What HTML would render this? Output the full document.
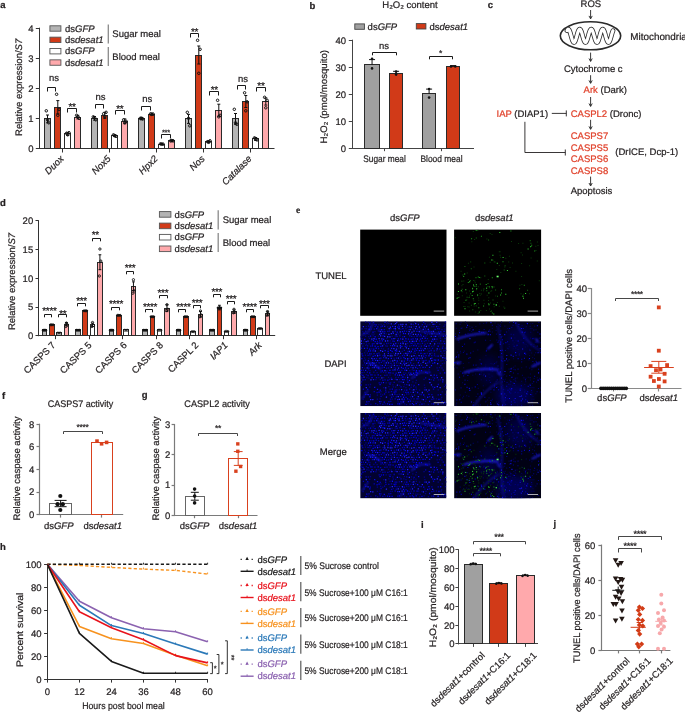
<!DOCTYPE html>
<html><head><meta charset="utf-8"><style>
html,body{margin:0;padding:0;background:#fff;}
svg{display:block;font-family:"Liberation Sans",sans-serif;will-change:transform;text-rendering:geometricPrecision;}
</style></head><body>
<svg width="685" height="712" viewBox="0 0 685 712">
<defs><clipPath id="cimg"><rect width="87" height="86"/></clipPath><filter id="bl" filterUnits="userSpaceOnUse" x="-10" y="-10" width="110" height="110"><feGaussianBlur stdDeviation="0.9"/></filter><filter id="bl2" filterUnits="userSpaceOnUse" x="-10" y="-10" width="110" height="110"><feGaussianBlur stdDeviation="0.4"/></filter><filter id="bl3" filterUnits="userSpaceOnUse" x="-10" y="-10" width="110" height="110"><feGaussianBlur stdDeviation="4"/></filter><g id="dapiA" clip-path="url(#cimg)"><rect width="87" height="86" fill="#020230"/><g filter="url(#bl2)"><path d="M4.9 0.1h1.3v1.3h-1.3zM12.8 0.6h1.3v1.3h-1.3zM85.3 0.1h1.3v1.3h-1.3zM33.7 2.6h1.3v1.3h-1.3zM52.8 2.6h1.3v1.3h-1.3zM62.0 2.8h1.3v1.3h-1.3zM64.9 2.1h1.3v1.3h-1.3zM74.5 2.6h1.3v1.3h-1.3zM7.8 4.3h1.3v1.3h-1.3zM14.4 4.5h1.3v1.3h-1.3zM20.2 5.1h1.3v1.3h-1.3zM44.7 4.9h1.3v1.3h-1.3zM1.2 7.1h1.3v1.3h-1.3zM13.5 7.3h1.3v1.3h-1.3zM23.6 7.8h1.3v1.3h-1.3zM30.3 6.9h1.3v1.3h-1.3zM52.5 7.3h1.3v1.3h-1.3zM57.2 7.3h1.3v1.3h-1.3zM65.1 7.2h1.3v1.3h-1.3zM75.0 7.7h1.3v1.3h-1.3zM77.4 6.8h1.3v1.3h-1.3zM79.0 7.2h1.3v1.3h-1.3zM22.0 9.8h1.3v1.3h-1.3zM24.2 10.0h1.3v1.3h-1.3zM27.2 9.6h1.3v1.3h-1.3zM28.9 9.4h1.3v1.3h-1.3zM34.8 9.3h1.3v1.3h-1.3zM46.1 9.7h1.3v1.3h-1.3zM71.1 10.0h1.3v1.3h-1.3zM78.5 10.1h1.3v1.3h-1.3zM3.2 11.7h1.3v1.3h-1.3zM23.7 11.9h1.3v1.3h-1.3zM60.3 12.6h1.3v1.3h-1.3zM64.8 11.9h1.3v1.3h-1.3zM36.5 14.7h1.3v1.3h-1.3zM39.4 14.2h1.3v1.3h-1.3zM49.4 14.3h1.3v1.3h-1.3zM51.3 14.7h1.3v1.3h-1.3zM73.9 14.6h1.3v1.3h-1.3zM50.8 17.6h1.3v1.3h-1.3zM55.2 17.1h1.3v1.3h-1.3zM67.1 16.9h1.3v1.3h-1.3zM76.7 17.5h1.3v1.3h-1.3zM84.9 17.0h1.3v1.3h-1.3zM16.7 19.8h1.3v1.3h-1.3zM33.8 19.7h1.3v1.3h-1.3zM42.1 20.2h1.3v1.3h-1.3zM46.2 19.7h1.3v1.3h-1.3zM59.1 19.3h1.3v1.3h-1.3zM65.7 19.0h1.3v1.3h-1.3zM83.7 19.9h1.3v1.3h-1.3zM11.6 22.4h1.3v1.3h-1.3zM13.2 22.1h1.3v1.3h-1.3zM23.4 22.5h1.3v1.3h-1.3zM26.1 21.9h1.3v1.3h-1.3zM30.3 21.7h1.3v1.3h-1.3zM54.7 22.2h1.3v1.3h-1.3zM62.1 21.8h1.3v1.3h-1.3zM64.8 22.5h1.3v1.3h-1.3zM2.0 24.6h1.3v1.3h-1.3zM6.8 24.4h1.3v1.3h-1.3zM9.9 24.5h1.3v1.3h-1.3zM26.5 24.5h1.3v1.3h-1.3zM30.0 24.1h1.3v1.3h-1.3zM46.5 24.6h1.3v1.3h-1.3zM49.3 24.5h1.3v1.3h-1.3zM61.0 24.5h1.3v1.3h-1.3zM64.0 24.2h1.3v1.3h-1.3zM0.8 26.7h1.3v1.3h-1.3zM6.5 26.7h1.3v1.3h-1.3zM17.9 27.1h1.3v1.3h-1.3zM27.8 27.4h1.3v1.3h-1.3zM60.4 26.8h1.3v1.3h-1.3zM72.3 26.8h1.3v1.3h-1.3zM79.5 27.5h1.3v1.3h-1.3zM43.9 28.9h1.3v1.3h-1.3zM56.3 28.8h1.3v1.3h-1.3zM68.8 29.7h1.3v1.3h-1.3zM70.9 29.0h1.3v1.3h-1.3zM73.9 29.3h1.3v1.3h-1.3zM80.6 29.8h1.3v1.3h-1.3zM83.8 29.3h1.3v1.3h-1.3zM10.5 32.3h1.3v1.3h-1.3zM13.3 32.1h1.3v1.3h-1.3zM18.3 31.7h1.3v1.3h-1.3zM30.3 32.4h1.3v1.3h-1.3zM43.4 32.3h1.3v1.3h-1.3zM49.8 31.4h1.3v1.3h-1.3zM54.8 31.8h1.3v1.3h-1.3zM74.3 32.4h1.3v1.3h-1.3zM1.9 34.3h1.3v1.3h-1.3zM7.3 34.0h1.3v1.3h-1.3zM19.1 33.8h1.3v1.3h-1.3zM22.4 34.2h1.3v1.3h-1.3zM36.8 33.7h1.3v1.3h-1.3zM42.0 34.2h1.3v1.3h-1.3zM44.0 34.2h1.3v1.3h-1.3zM65.8 34.1h1.3v1.3h-1.3zM71.5 34.1h1.3v1.3h-1.3zM15.8 37.3h1.3v1.3h-1.3zM18.8 37.0h1.3v1.3h-1.3zM20.2 36.8h1.3v1.3h-1.3zM23.0 36.3h1.3v1.3h-1.3zM36.0 36.6h1.3v1.3h-1.3zM40.4 36.8h1.3v1.3h-1.3zM65.0 36.3h1.3v1.3h-1.3zM19.2 38.9h1.3v1.3h-1.3zM24.0 39.5h1.3v1.3h-1.3zM26.8 39.8h1.3v1.3h-1.3zM49.5 39.5h1.3v1.3h-1.3zM65.7 39.0h1.3v1.3h-1.3zM74.1 38.6h1.3v1.3h-1.3zM85.9 39.0h1.3v1.3h-1.3zM3.8 41.6h1.3v1.3h-1.3zM9.0 42.1h1.3v1.3h-1.3zM15.7 41.2h1.3v1.3h-1.3zM20.7 41.1h1.3v1.3h-1.3zM30.3 42.0h1.3v1.3h-1.3zM36.1 41.6h1.3v1.3h-1.3zM67.5 41.6h1.3v1.3h-1.3zM72.5 42.0h1.3v1.3h-1.3zM7.4 44.6h1.3v1.3h-1.3zM31.3 43.8h1.3v1.3h-1.3zM41.6 43.5h1.3v1.3h-1.3zM53.6 44.4h1.3v1.3h-1.3zM56.2 44.0h1.3v1.3h-1.3zM61.2 44.1h1.3v1.3h-1.3zM80.6 44.2h1.3v1.3h-1.3zM11.6 46.3h1.3v1.3h-1.3zM16.1 46.3h1.3v1.3h-1.3zM21.4 46.6h1.3v1.3h-1.3zM26.0 46.9h1.3v1.3h-1.3zM28.0 46.6h1.3v1.3h-1.3zM35.0 46.9h1.3v1.3h-1.3zM47.9 47.1h1.3v1.3h-1.3zM50.4 46.1h1.3v1.3h-1.3zM57.2 47.0h1.3v1.3h-1.3zM65.0 46.1h1.3v1.3h-1.3zM2.5 48.9h1.3v1.3h-1.3zM14.9 49.2h1.3v1.3h-1.3zM53.5 49.0h1.3v1.3h-1.3zM77.9 49.0h1.3v1.3h-1.3zM83.1 48.8h1.3v1.3h-1.3zM1.2 51.4h1.3v1.3h-1.3zM6.6 50.9h1.3v1.3h-1.3zM30.1 51.6h1.3v1.3h-1.3zM32.5 51.9h1.3v1.3h-1.3zM35.6 52.0h1.3v1.3h-1.3zM48.4 51.7h1.3v1.3h-1.3zM67.0 51.9h1.3v1.3h-1.3zM0.1 53.5h1.3v1.3h-1.3zM7.3 54.3h1.3v1.3h-1.3zM14.2 53.9h1.3v1.3h-1.3zM19.9 54.4h1.3v1.3h-1.3zM24.2 54.2h1.3v1.3h-1.3zM26.4 53.9h1.3v1.3h-1.3zM46.9 53.8h1.3v1.3h-1.3zM76.4 54.3h1.3v1.3h-1.3zM1.1 56.6h1.3v1.3h-1.3zM15.8 56.5h1.3v1.3h-1.3zM65.3 56.6h1.3v1.3h-1.3zM74.3 56.9h1.3v1.3h-1.3zM4.4 58.4h1.3v1.3h-1.3zM22.2 59.1h1.3v1.3h-1.3zM24.4 58.8h1.3v1.3h-1.3zM27.2 59.1h1.3v1.3h-1.3zM73.4 58.9h1.3v1.3h-1.3zM0.7 60.8h1.3v1.3h-1.3zM18.5 61.7h1.3v1.3h-1.3zM20.7 61.8h1.3v1.3h-1.3zM33.6 61.3h1.3v1.3h-1.3zM40.6 60.8h1.3v1.3h-1.3zM5.3 63.7h1.3v1.3h-1.3zM46.3 63.6h1.3v1.3h-1.3zM53.7 64.2h1.3v1.3h-1.3zM78.1 63.4h1.3v1.3h-1.3zM85.5 64.1h1.3v1.3h-1.3zM40.5 65.7h1.3v1.3h-1.3zM72.5 65.8h1.3v1.3h-1.3zM2.6 68.2h1.3v1.3h-1.3zM6.9 68.4h1.3v1.3h-1.3zM19.6 69.2h1.3v1.3h-1.3zM25.0 69.1h1.3v1.3h-1.3zM34.6 69.0h1.3v1.3h-1.3zM36.2 68.9h1.3v1.3h-1.3zM49.2 68.1h1.3v1.3h-1.3zM64.2 68.9h1.3v1.3h-1.3zM73.3 68.1h1.3v1.3h-1.3zM13.5 70.7h1.3v1.3h-1.3zM16.4 71.6h1.3v1.3h-1.3zM25.3 71.2h1.3v1.3h-1.3zM28.2 71.2h1.3v1.3h-1.3zM30.9 70.7h1.3v1.3h-1.3zM67.3 70.6h1.3v1.3h-1.3zM9.5 73.9h1.3v1.3h-1.3zM23.9 73.0h1.3v1.3h-1.3zM43.9 74.1h1.3v1.3h-1.3zM54.1 74.1h1.3v1.3h-1.3zM60.8 73.5h1.3v1.3h-1.3zM71.6 73.7h1.3v1.3h-1.3zM78.0 73.8h1.3v1.3h-1.3zM20.4 75.4h1.3v1.3h-1.3zM31.0 76.3h1.3v1.3h-1.3zM35.7 76.0h1.3v1.3h-1.3zM40.2 75.7h1.3v1.3h-1.3zM45.6 76.5h1.3v1.3h-1.3zM69.4 75.7h1.3v1.3h-1.3zM34.6 77.9h1.3v1.3h-1.3zM53.6 77.9h1.3v1.3h-1.3zM71.6 78.5h1.3v1.3h-1.3zM73.5 78.0h1.3v1.3h-1.3zM8.2 80.8h1.3v1.3h-1.3zM20.3 80.8h1.3v1.3h-1.3zM28.3 80.8h1.3v1.3h-1.3zM30.2 80.5h1.3v1.3h-1.3zM15.0 82.8h1.3v1.3h-1.3zM19.5 82.8h1.3v1.3h-1.3zM22.2 83.4h1.3v1.3h-1.3zM37.1 83.1h1.3v1.3h-1.3zM49.6 83.2h1.3v1.3h-1.3zM71.6 83.0h1.3v1.3h-1.3zM83.3 82.8h1.3v1.3h-1.3z" fill="#0000b8"/><path d="M7.5 0.4h1.3v1.3h-1.3zM9.3 0.4h1.3v1.3h-1.3zM26.9 0.2h1.3v1.3h-1.3zM48.5 0.2h1.3v1.3h-1.3zM54.5 0.3h1.3v1.3h-1.3zM13.9 2.6h1.3v1.3h-1.3zM18.1 2.8h1.3v1.3h-1.3zM20.4 2.7h1.3v1.3h-1.3zM23.3 2.9h1.3v1.3h-1.3zM26.2 2.1h1.3v1.3h-1.3zM28.1 1.9h1.3v1.3h-1.3zM67.5 3.0h1.3v1.3h-1.3zM69.6 2.7h1.3v1.3h-1.3zM79.5 2.5h1.3v1.3h-1.3zM84.8 3.0h1.3v1.3h-1.3zM5.5 4.8h1.3v1.3h-1.3zM9.6 5.2h1.3v1.3h-1.3zM27.0 5.0h1.3v1.3h-1.3zM47.0 5.3h1.3v1.3h-1.3zM53.5 4.7h1.3v1.3h-1.3zM60.8 4.6h1.3v1.3h-1.3zM71.6 4.9h1.3v1.3h-1.3zM73.5 4.9h1.3v1.3h-1.3zM78.5 4.9h1.3v1.3h-1.3zM83.8 4.6h1.3v1.3h-1.3zM4.2 6.9h1.3v1.3h-1.3zM5.8 7.0h1.3v1.3h-1.3zM10.6 7.4h1.3v1.3h-1.3zM40.4 7.6h1.3v1.3h-1.3zM45.4 6.9h1.3v1.3h-1.3zM48.2 7.9h1.3v1.3h-1.3zM59.7 6.9h1.3v1.3h-1.3zM81.8 7.9h1.3v1.3h-1.3zM84.7 7.4h1.3v1.3h-1.3zM1.9 9.9h1.3v1.3h-1.3zM4.8 9.3h1.3v1.3h-1.3zM14.2 9.9h1.3v1.3h-1.3zM17.7 9.4h1.3v1.3h-1.3zM64.2 10.3h1.3v1.3h-1.3zM65.9 9.7h1.3v1.3h-1.3zM6.3 12.0h1.3v1.3h-1.3zM8.2 12.4h1.3v1.3h-1.3zM11.3 12.5h1.3v1.3h-1.3zM13.3 12.5h1.3v1.3h-1.3zM25.6 12.1h1.3v1.3h-1.3zM37.5 12.3h1.3v1.3h-1.3zM39.9 12.5h1.3v1.3h-1.3zM67.1 12.8h1.3v1.3h-1.3zM69.4 12.4h1.3v1.3h-1.3zM74.2 11.8h1.3v1.3h-1.3zM76.9 12.5h1.3v1.3h-1.3zM0.1 15.2h1.3v1.3h-1.3zM4.8 14.7h1.3v1.3h-1.3zM7.9 14.9h1.3v1.3h-1.3zM12.4 14.3h1.3v1.3h-1.3zM17.7 14.4h1.3v1.3h-1.3zM31.5 14.8h1.3v1.3h-1.3zM34.7 14.5h1.3v1.3h-1.3zM42.2 15.1h1.3v1.3h-1.3zM53.8 14.9h1.3v1.3h-1.3zM59.1 14.5h1.3v1.3h-1.3zM65.7 14.4h1.3v1.3h-1.3zM78.7 14.9h1.3v1.3h-1.3zM80.6 14.5h1.3v1.3h-1.3zM1.3 17.0h1.3v1.3h-1.3zM8.7 16.8h1.3v1.3h-1.3zM26.1 16.8h1.3v1.3h-1.3zM34.9 16.8h1.3v1.3h-1.3zM80.2 16.6h1.3v1.3h-1.3zM3.0 19.6h1.3v1.3h-1.3zM10.4 19.2h1.3v1.3h-1.3zM29.6 19.3h1.3v1.3h-1.3zM38.9 19.3h1.3v1.3h-1.3zM64.0 19.7h1.3v1.3h-1.3zM68.5 19.3h1.3v1.3h-1.3zM73.2 19.2h1.3v1.3h-1.3zM75.7 19.7h1.3v1.3h-1.3zM3.2 22.0h1.3v1.3h-1.3zM5.8 22.5h1.3v1.3h-1.3zM8.3 22.0h1.3v1.3h-1.3zM28.0 21.7h1.3v1.3h-1.3zM37.8 21.8h1.3v1.3h-1.3zM47.2 21.8h1.3v1.3h-1.3zM52.1 21.9h1.3v1.3h-1.3zM59.7 22.3h1.3v1.3h-1.3zM67.2 21.7h1.3v1.3h-1.3zM77.6 21.7h1.3v1.3h-1.3zM79.5 21.9h1.3v1.3h-1.3zM81.9 22.0h1.3v1.3h-1.3zM5.1 23.9h1.3v1.3h-1.3zM25.0 24.4h1.3v1.3h-1.3zM51.2 24.1h1.3v1.3h-1.3zM58.4 24.9h1.3v1.3h-1.3zM71.4 24.9h1.3v1.3h-1.3zM73.7 24.2h1.3v1.3h-1.3zM82.8 24.8h1.3v1.3h-1.3zM11.1 27.3h1.3v1.3h-1.3zM20.8 26.8h1.3v1.3h-1.3zM22.8 27.4h1.3v1.3h-1.3zM38.2 26.6h1.3v1.3h-1.3zM42.6 27.0h1.3v1.3h-1.3zM62.2 27.4h1.3v1.3h-1.3zM67.4 27.2h1.3v1.3h-1.3zM69.4 26.8h1.3v1.3h-1.3zM85.1 26.7h1.3v1.3h-1.3zM0.2 29.3h1.3v1.3h-1.3zM5.1 29.4h1.3v1.3h-1.3zM41.7 29.9h1.3v1.3h-1.3zM47.0 29.8h1.3v1.3h-1.3zM76.5 29.2h1.3v1.3h-1.3zM85.7 28.9h1.3v1.3h-1.3zM3.9 31.5h1.3v1.3h-1.3zM6.6 31.6h1.3v1.3h-1.3zM32.6 31.7h1.3v1.3h-1.3zM53.0 31.5h1.3v1.3h-1.3zM58.0 31.4h1.3v1.3h-1.3zM62.9 32.4h1.3v1.3h-1.3zM67.0 31.9h1.3v1.3h-1.3zM71.7 31.7h1.3v1.3h-1.3zM81.9 31.6h1.3v1.3h-1.3zM84.4 31.8h1.3v1.3h-1.3zM4.6 33.8h1.3v1.3h-1.3zM9.2 34.2h1.3v1.3h-1.3zM39.4 34.9h1.3v1.3h-1.3zM49.2 34.4h1.3v1.3h-1.3zM55.9 34.7h1.3v1.3h-1.3zM74.1 34.1h1.3v1.3h-1.3zM75.7 34.6h1.3v1.3h-1.3zM83.8 34.2h1.3v1.3h-1.3zM3.8 36.8h1.3v1.3h-1.3zM8.1 37.1h1.3v1.3h-1.3zM33.6 37.1h1.3v1.3h-1.3zM49.7 36.9h1.3v1.3h-1.3zM3.0 39.6h1.3v1.3h-1.3zM4.7 38.6h1.3v1.3h-1.3zM29.9 39.8h1.3v1.3h-1.3zM39.1 38.7h1.3v1.3h-1.3zM53.4 38.8h1.3v1.3h-1.3zM61.8 38.7h1.3v1.3h-1.3zM80.8 39.4h1.3v1.3h-1.3zM82.7 39.0h1.3v1.3h-1.3zM23.4 41.8h1.3v1.3h-1.3zM38.4 41.7h1.3v1.3h-1.3zM47.5 41.3h1.3v1.3h-1.3zM53.2 42.2h1.3v1.3h-1.3zM60.3 42.2h1.3v1.3h-1.3zM69.3 41.2h1.3v1.3h-1.3zM82.2 42.2h1.3v1.3h-1.3zM84.3 41.7h1.3v1.3h-1.3zM2.1 43.7h1.3v1.3h-1.3zM4.7 43.6h1.3v1.3h-1.3zM19.6 43.7h1.3v1.3h-1.3zM27.2 44.0h1.3v1.3h-1.3zM29.4 44.6h1.3v1.3h-1.3zM38.7 44.4h1.3v1.3h-1.3zM4.0 46.8h1.3v1.3h-1.3zM33.6 46.2h1.3v1.3h-1.3zM59.9 46.2h1.3v1.3h-1.3zM76.9 46.6h1.3v1.3h-1.3zM79.3 46.3h1.3v1.3h-1.3zM81.8 46.7h1.3v1.3h-1.3zM7.8 48.7h1.3v1.3h-1.3zM9.2 49.4h1.3v1.3h-1.3zM20.2 49.5h1.3v1.3h-1.3zM26.4 49.6h1.3v1.3h-1.3zM39.0 49.1h1.3v1.3h-1.3zM41.3 49.2h1.3v1.3h-1.3zM49.3 49.3h1.3v1.3h-1.3zM51.8 48.6h1.3v1.3h-1.3zM68.8 48.5h1.3v1.3h-1.3zM3.4 51.1h1.3v1.3h-1.3zM13.1 51.0h1.3v1.3h-1.3zM16.4 51.3h1.3v1.3h-1.3zM20.3 51.0h1.3v1.3h-1.3zM22.8 51.1h1.3v1.3h-1.3zM25.3 51.5h1.3v1.3h-1.3zM43.2 51.7h1.3v1.3h-1.3zM45.2 51.9h1.3v1.3h-1.3zM69.6 50.9h1.3v1.3h-1.3zM80.1 52.0h1.3v1.3h-1.3zM5.5 53.4h1.3v1.3h-1.3zM11.7 53.6h1.3v1.3h-1.3zM29.4 53.9h1.3v1.3h-1.3zM54.2 53.4h1.3v1.3h-1.3zM6.1 56.5h1.3v1.3h-1.3zM8.2 56.9h1.3v1.3h-1.3zM18.2 56.5h1.3v1.3h-1.3zM23.1 56.5h1.3v1.3h-1.3zM27.9 56.2h1.3v1.3h-1.3zM30.8 56.8h1.3v1.3h-1.3zM35.3 56.3h1.3v1.3h-1.3zM37.9 56.1h1.3v1.3h-1.3zM40.6 56.7h1.3v1.3h-1.3zM44.7 56.3h1.3v1.3h-1.3zM54.6 56.4h1.3v1.3h-1.3zM72.7 55.9h1.3v1.3h-1.3zM15.2 58.5h1.3v1.3h-1.3zM19.6 58.4h1.3v1.3h-1.3zM29.0 58.3h1.3v1.3h-1.3zM34.7 58.2h1.3v1.3h-1.3zM39.1 58.4h1.3v1.3h-1.3zM46.8 58.6h1.3v1.3h-1.3zM56.0 59.2h1.3v1.3h-1.3zM63.7 58.3h1.3v1.3h-1.3zM70.9 58.5h1.3v1.3h-1.3zM78.2 58.8h1.3v1.3h-1.3zM80.3 58.6h1.3v1.3h-1.3zM25.5 61.7h1.3v1.3h-1.3zM28.5 61.7h1.3v1.3h-1.3zM30.1 61.5h1.3v1.3h-1.3zM38.5 60.8h1.3v1.3h-1.3zM52.4 60.7h1.3v1.3h-1.3zM55.4 61.7h1.3v1.3h-1.3zM7.6 63.8h1.3v1.3h-1.3zM9.7 63.4h1.3v1.3h-1.3zM32.3 63.8h1.3v1.3h-1.3zM39.2 64.2h1.3v1.3h-1.3zM44.0 63.4h1.3v1.3h-1.3zM51.1 63.7h1.3v1.3h-1.3zM64.1 64.0h1.3v1.3h-1.3zM9.0 66.1h1.3v1.3h-1.3zM23.1 66.5h1.3v1.3h-1.3zM28.3 65.6h1.3v1.3h-1.3zM32.8 65.8h1.3v1.3h-1.3zM35.0 66.1h1.3v1.3h-1.3zM43.3 65.6h1.3v1.3h-1.3zM45.5 66.5h1.3v1.3h-1.3zM50.7 66.2h1.3v1.3h-1.3zM53.2 65.6h1.3v1.3h-1.3zM55.6 66.0h1.3v1.3h-1.3zM64.6 66.5h1.3v1.3h-1.3zM84.2 65.6h1.3v1.3h-1.3zM29.4 68.2h1.3v1.3h-1.3zM38.8 68.6h1.3v1.3h-1.3zM44.2 69.0h1.3v1.3h-1.3zM51.9 69.1h1.3v1.3h-1.3zM56.0 68.2h1.3v1.3h-1.3zM59.2 69.0h1.3v1.3h-1.3zM78.0 68.9h1.3v1.3h-1.3zM85.9 68.7h1.3v1.3h-1.3zM4.1 71.3h1.3v1.3h-1.3zM20.3 70.7h1.3v1.3h-1.3zM43.0 70.9h1.3v1.3h-1.3zM50.3 71.3h1.3v1.3h-1.3zM55.1 70.6h1.3v1.3h-1.3zM82.1 70.8h1.3v1.3h-1.3zM16.7 74.1h1.3v1.3h-1.3zM20.0 73.2h1.3v1.3h-1.3zM22.0 73.9h1.3v1.3h-1.3zM29.5 74.0h1.3v1.3h-1.3zM36.5 73.6h1.3v1.3h-1.3zM38.8 73.5h1.3v1.3h-1.3zM46.2 73.0h1.3v1.3h-1.3zM48.4 73.0h1.3v1.3h-1.3zM51.2 73.8h1.3v1.3h-1.3zM59.1 73.2h1.3v1.3h-1.3zM85.3 73.5h1.3v1.3h-1.3zM3.3 76.1h1.3v1.3h-1.3zM32.8 75.5h1.3v1.3h-1.3zM50.1 76.0h1.3v1.3h-1.3zM64.5 76.0h1.3v1.3h-1.3zM81.5 76.5h1.3v1.3h-1.3zM2.3 78.5h1.3v1.3h-1.3zM16.7 78.3h1.3v1.3h-1.3zM19.4 78.0h1.3v1.3h-1.3zM29.9 78.3h1.3v1.3h-1.3zM31.7 78.2h1.3v1.3h-1.3zM49.0 78.6h1.3v1.3h-1.3zM50.9 78.0h1.3v1.3h-1.3zM58.3 78.0h1.3v1.3h-1.3zM61.6 78.4h1.3v1.3h-1.3zM65.7 78.3h1.3v1.3h-1.3zM76.2 77.9h1.3v1.3h-1.3zM80.9 78.1h1.3v1.3h-1.3zM37.6 80.9h1.3v1.3h-1.3zM40.1 80.5h1.3v1.3h-1.3zM52.8 80.4h1.3v1.3h-1.3zM55.5 81.0h1.3v1.3h-1.3zM57.4 81.1h1.3v1.3h-1.3zM59.9 81.3h1.3v1.3h-1.3zM65.2 80.5h1.3v1.3h-1.3zM75.3 81.3h1.3v1.3h-1.3zM7.3 83.0h1.3v1.3h-1.3zM10.1 83.4h1.3v1.3h-1.3zM16.9 83.7h1.3v1.3h-1.3zM24.5 83.1h1.3v1.3h-1.3zM44.1 83.1h1.3v1.3h-1.3zM46.1 83.7h1.3v1.3h-1.3zM59.3 83.8h1.3v1.3h-1.3zM63.8 82.9h1.3v1.3h-1.3zM68.1 83.6h1.3v1.3h-1.3zM81.0 82.9h1.3v1.3h-1.3zM85.8 83.0h1.3v1.3h-1.3z" fill="#000088"/><path d="M24.4 0.4h1.3v1.3h-1.3zM63.3 0.3h1.3v1.3h-1.3zM9.0 2.1h1.3v1.3h-1.3zM15.4 3.0h1.3v1.3h-1.3zM38.2 3.0h1.3v1.3h-1.3zM58.0 2.7h1.3v1.3h-1.3zM17.1 5.1h1.3v1.3h-1.3zM21.7 4.3h1.3v1.3h-1.3zM24.1 4.6h1.3v1.3h-1.3zM32.1 4.5h1.3v1.3h-1.3zM37.1 5.4h1.3v1.3h-1.3zM38.8 5.2h1.3v1.3h-1.3zM48.9 5.0h1.3v1.3h-1.3zM76.5 4.9h1.3v1.3h-1.3zM8.4 7.5h1.3v1.3h-1.3zM16.0 6.9h1.3v1.3h-1.3zM21.0 7.8h1.3v1.3h-1.3zM33.4 6.9h1.3v1.3h-1.3zM42.4 6.8h1.3v1.3h-1.3zM12.3 10.4h1.3v1.3h-1.3zM36.7 10.4h1.3v1.3h-1.3zM42.0 9.9h1.3v1.3h-1.3zM44.0 9.4h1.3v1.3h-1.3zM56.5 9.6h1.3v1.3h-1.3zM68.6 9.3h1.3v1.3h-1.3zM80.6 10.2h1.3v1.3h-1.3zM83.9 9.6h1.3v1.3h-1.3zM32.8 11.7h1.3v1.3h-1.3zM43.0 11.8h1.3v1.3h-1.3zM45.0 11.9h1.3v1.3h-1.3zM50.4 12.2h1.3v1.3h-1.3zM58.0 12.8h1.3v1.3h-1.3zM79.2 12.0h1.3v1.3h-1.3zM9.8 14.5h1.3v1.3h-1.3zM14.4 15.1h1.3v1.3h-1.3zM22.4 14.2h1.3v1.3h-1.3zM44.0 15.0h1.3v1.3h-1.3zM56.6 14.5h1.3v1.3h-1.3zM60.8 14.2h1.3v1.3h-1.3zM63.3 14.6h1.3v1.3h-1.3zM71.0 14.7h1.3v1.3h-1.3zM83.2 14.7h1.3v1.3h-1.3zM3.9 17.7h1.3v1.3h-1.3zM15.5 17.6h1.3v1.3h-1.3zM23.0 17.6h1.3v1.3h-1.3zM31.2 17.3h1.3v1.3h-1.3zM37.8 17.2h1.3v1.3h-1.3zM40.1 17.2h1.3v1.3h-1.3zM45.4 17.1h1.3v1.3h-1.3zM48.0 17.5h1.3v1.3h-1.3zM52.6 17.2h1.3v1.3h-1.3zM60.1 17.5h1.3v1.3h-1.3zM62.0 16.7h1.3v1.3h-1.3zM64.8 16.6h1.3v1.3h-1.3zM72.5 17.6h1.3v1.3h-1.3zM12.7 19.1h1.3v1.3h-1.3zM14.5 20.1h1.3v1.3h-1.3zM19.1 19.3h1.3v1.3h-1.3zM21.7 19.2h1.3v1.3h-1.3zM32.4 19.5h1.3v1.3h-1.3zM44.4 19.5h1.3v1.3h-1.3zM49.2 19.9h1.3v1.3h-1.3zM53.5 19.9h1.3v1.3h-1.3zM61.3 19.6h1.3v1.3h-1.3zM71.5 19.7h1.3v1.3h-1.3zM80.5 19.3h1.3v1.3h-1.3zM18.5 21.5h1.3v1.3h-1.3zM35.2 21.9h1.3v1.3h-1.3zM40.1 21.9h1.3v1.3h-1.3zM50.7 21.8h1.3v1.3h-1.3zM57.5 22.1h1.3v1.3h-1.3zM84.4 22.0h1.3v1.3h-1.3zM11.7 24.3h1.3v1.3h-1.3zM14.4 24.7h1.3v1.3h-1.3zM17.3 25.0h1.3v1.3h-1.3zM20.1 24.8h1.3v1.3h-1.3zM32.1 24.2h1.3v1.3h-1.3zM34.2 24.2h1.3v1.3h-1.3zM41.4 24.8h1.3v1.3h-1.3zM44.7 24.9h1.3v1.3h-1.3zM53.4 24.0h1.3v1.3h-1.3zM55.9 24.4h1.3v1.3h-1.3zM68.7 24.4h1.3v1.3h-1.3zM78.0 24.7h1.3v1.3h-1.3zM3.7 26.8h1.3v1.3h-1.3zM8.9 27.5h1.3v1.3h-1.3zM13.0 27.5h1.3v1.3h-1.3zM15.5 26.7h1.3v1.3h-1.3zM31.0 26.8h1.3v1.3h-1.3zM52.2 27.5h1.3v1.3h-1.3zM54.8 27.4h1.3v1.3h-1.3zM57.2 26.8h1.3v1.3h-1.3zM82.3 26.6h1.3v1.3h-1.3zM7.8 29.6h1.3v1.3h-1.3zM9.7 29.3h1.3v1.3h-1.3zM12.3 29.4h1.3v1.3h-1.3zM24.5 29.1h1.3v1.3h-1.3zM27.5 29.8h1.3v1.3h-1.3zM30.0 28.9h1.3v1.3h-1.3zM31.6 29.8h1.3v1.3h-1.3zM34.7 29.0h1.3v1.3h-1.3zM36.2 29.5h1.3v1.3h-1.3zM50.9 30.0h1.3v1.3h-1.3zM54.4 29.7h1.3v1.3h-1.3zM59.0 29.1h1.3v1.3h-1.3zM60.9 29.0h1.3v1.3h-1.3zM63.3 28.9h1.3v1.3h-1.3zM1.2 32.4h1.3v1.3h-1.3zM9.0 32.3h1.3v1.3h-1.3zM16.4 32.4h1.3v1.3h-1.3zM27.7 31.8h1.3v1.3h-1.3zM47.5 31.9h1.3v1.3h-1.3zM60.6 31.9h1.3v1.3h-1.3zM64.5 32.2h1.3v1.3h-1.3zM12.4 34.9h1.3v1.3h-1.3zM14.5 34.1h1.3v1.3h-1.3zM63.2 34.6h1.3v1.3h-1.3zM68.7 34.3h1.3v1.3h-1.3zM77.9 34.7h1.3v1.3h-1.3zM1.0 37.2h1.3v1.3h-1.3zM13.6 37.2h1.3v1.3h-1.3zM27.8 37.2h1.3v1.3h-1.3zM30.7 37.0h1.3v1.3h-1.3zM43.4 36.3h1.3v1.3h-1.3zM44.8 37.2h1.3v1.3h-1.3zM55.5 36.8h1.3v1.3h-1.3zM57.2 36.8h1.3v1.3h-1.3zM59.7 37.0h1.3v1.3h-1.3zM71.7 36.7h1.3v1.3h-1.3zM84.8 36.8h1.3v1.3h-1.3zM7.5 39.2h1.3v1.3h-1.3zM11.9 38.8h1.3v1.3h-1.3zM15.0 39.0h1.3v1.3h-1.3zM22.3 39.4h1.3v1.3h-1.3zM36.7 39.6h1.3v1.3h-1.3zM43.9 39.7h1.3v1.3h-1.3zM47.1 38.8h1.3v1.3h-1.3zM56.1 38.8h1.3v1.3h-1.3zM58.8 39.3h1.3v1.3h-1.3zM63.5 39.5h1.3v1.3h-1.3zM69.0 39.8h1.3v1.3h-1.3zM75.4 38.8h1.3v1.3h-1.3zM78.1 38.6h1.3v1.3h-1.3zM11.6 41.4h1.3v1.3h-1.3zM18.4 41.6h1.3v1.3h-1.3zM33.6 41.7h1.3v1.3h-1.3zM43.4 41.9h1.3v1.3h-1.3zM50.2 41.5h1.3v1.3h-1.3zM58.0 41.4h1.3v1.3h-1.3zM74.5 41.4h1.3v1.3h-1.3zM11.8 44.0h1.3v1.3h-1.3zM21.6 44.2h1.3v1.3h-1.3zM24.8 43.9h1.3v1.3h-1.3zM36.6 44.3h1.3v1.3h-1.3zM71.2 44.3h1.3v1.3h-1.3zM1.6 46.4h1.3v1.3h-1.3zM8.1 46.9h1.3v1.3h-1.3zM17.9 46.7h1.3v1.3h-1.3zM23.6 46.0h1.3v1.3h-1.3zM40.9 46.2h1.3v1.3h-1.3zM42.7 47.0h1.3v1.3h-1.3zM45.1 46.5h1.3v1.3h-1.3zM55.3 46.2h1.3v1.3h-1.3zM62.7 46.0h1.3v1.3h-1.3zM69.3 46.1h1.3v1.3h-1.3zM0.3 49.1h1.3v1.3h-1.3zM4.9 49.0h1.3v1.3h-1.3zM21.7 49.6h1.3v1.3h-1.3zM29.3 49.2h1.3v1.3h-1.3zM32.4 48.9h1.3v1.3h-1.3zM37.0 48.7h1.3v1.3h-1.3zM44.4 48.8h1.3v1.3h-1.3zM56.1 49.4h1.3v1.3h-1.3zM58.9 49.5h1.3v1.3h-1.3zM61.1 49.4h1.3v1.3h-1.3zM9.0 51.6h1.3v1.3h-1.3zM28.3 51.5h1.3v1.3h-1.3zM50.4 52.0h1.3v1.3h-1.3zM53.1 52.0h1.3v1.3h-1.3zM55.7 51.0h1.3v1.3h-1.3zM57.1 51.8h1.3v1.3h-1.3zM65.5 51.2h1.3v1.3h-1.3zM84.5 51.7h1.3v1.3h-1.3zM2.1 54.2h1.3v1.3h-1.3zM10.2 53.7h1.3v1.3h-1.3zM17.5 53.7h1.3v1.3h-1.3zM34.7 53.6h1.3v1.3h-1.3zM37.1 53.8h1.3v1.3h-1.3zM41.1 53.8h1.3v1.3h-1.3zM43.7 53.5h1.3v1.3h-1.3zM74.0 54.0h1.3v1.3h-1.3zM11.3 56.5h1.3v1.3h-1.3zM42.4 55.8h1.3v1.3h-1.3zM77.1 56.4h1.3v1.3h-1.3zM2.1 58.8h1.3v1.3h-1.3zM12.8 58.4h1.3v1.3h-1.3zM42.0 58.5h1.3v1.3h-1.3zM43.6 58.4h1.3v1.3h-1.3zM49.0 59.2h1.3v1.3h-1.3zM69.0 58.3h1.3v1.3h-1.3zM22.8 61.6h1.3v1.3h-1.3zM47.4 60.9h1.3v1.3h-1.3zM82.5 60.7h1.3v1.3h-1.3zM0.2 63.9h1.3v1.3h-1.3zM19.4 63.5h1.3v1.3h-1.3zM29.4 63.1h1.3v1.3h-1.3zM58.3 63.5h1.3v1.3h-1.3zM14.0 66.4h1.3v1.3h-1.3zM74.5 66.2h1.3v1.3h-1.3zM16.8 68.4h1.3v1.3h-1.3zM31.8 68.1h1.3v1.3h-1.3zM46.3 69.0h1.3v1.3h-1.3zM18.4 71.0h1.3v1.3h-1.3zM33.6 71.2h1.3v1.3h-1.3zM35.3 70.9h1.3v1.3h-1.3zM45.4 71.3h1.3v1.3h-1.3zM47.7 71.3h1.3v1.3h-1.3zM57.2 71.5h1.3v1.3h-1.3zM5.0 73.3h1.3v1.3h-1.3zM34.3 73.1h1.3v1.3h-1.3zM63.4 74.0h1.3v1.3h-1.3zM68.6 73.4h1.3v1.3h-1.3zM80.5 73.6h1.3v1.3h-1.3zM9.1 75.8h1.3v1.3h-1.3zM43.0 76.3h1.3v1.3h-1.3zM67.4 76.3h1.3v1.3h-1.3zM37.2 78.6h1.3v1.3h-1.3zM43.9 78.1h1.3v1.3h-1.3zM47.1 77.9h1.3v1.3h-1.3zM56.7 78.0h1.3v1.3h-1.3zM78.7 78.4h1.3v1.3h-1.3zM6.0 81.0h1.3v1.3h-1.3zM18.9 80.7h1.3v1.3h-1.3zM23.6 81.3h1.3v1.3h-1.3zM48.0 80.8h1.3v1.3h-1.3zM50.0 80.3h1.3v1.3h-1.3zM69.3 80.4h1.3v1.3h-1.3zM82.0 80.8h1.3v1.3h-1.3zM5.2 83.6h1.3v1.3h-1.3zM26.9 83.1h1.3v1.3h-1.3zM29.1 83.4h1.3v1.3h-1.3zM31.5 83.4h1.3v1.3h-1.3zM38.8 82.9h1.3v1.3h-1.3zM52.0 82.8h1.3v1.3h-1.3zM53.3 83.8h1.3v1.3h-1.3zM55.8 82.8h1.3v1.3h-1.3zM61.6 83.3h1.3v1.3h-1.3zM73.4 83.1h1.3v1.3h-1.3z" fill="#0808e8"/><path d="M36.2 0.3h1.3v1.3h-1.3zM71.6 0.4h1.3v1.3h-1.3zM76.4 0.2h1.3v1.3h-1.3zM30.7 2.0h1.3v1.3h-1.3zM35.1 1.9h1.3v1.3h-1.3zM40.4 2.7h1.3v1.3h-1.3zM42.4 2.5h1.3v1.3h-1.3zM45.6 2.7h1.3v1.3h-1.3zM50.7 2.4h1.3v1.3h-1.3zM55.3 1.9h1.3v1.3h-1.3zM72.8 2.6h1.3v1.3h-1.3zM2.6 4.9h1.3v1.3h-1.3zM29.8 5.4h1.3v1.3h-1.3zM34.8 4.8h1.3v1.3h-1.3zM41.9 4.6h1.3v1.3h-1.3zM50.9 5.3h1.3v1.3h-1.3zM55.9 4.9h1.3v1.3h-1.3zM59.0 5.4h1.3v1.3h-1.3zM64.0 5.1h1.3v1.3h-1.3zM66.2 4.7h1.3v1.3h-1.3zM28.6 6.9h1.3v1.3h-1.3zM34.9 7.0h1.3v1.3h-1.3zM38.5 6.9h1.3v1.3h-1.3zM49.7 7.9h1.3v1.3h-1.3zM55.2 6.8h1.3v1.3h-1.3zM62.9 7.7h1.3v1.3h-1.3zM68.0 7.7h1.3v1.3h-1.3zM19.6 9.9h1.3v1.3h-1.3zM32.3 10.1h1.3v1.3h-1.3zM39.7 10.1h1.3v1.3h-1.3zM48.7 9.9h1.3v1.3h-1.3zM51.5 10.4h1.3v1.3h-1.3zM53.6 9.3h1.3v1.3h-1.3zM58.9 9.9h1.3v1.3h-1.3zM73.2 9.6h1.3v1.3h-1.3zM18.9 12.7h1.3v1.3h-1.3zM20.6 12.0h1.3v1.3h-1.3zM28.3 12.6h1.3v1.3h-1.3zM30.7 11.9h1.3v1.3h-1.3zM35.6 12.8h1.3v1.3h-1.3zM48.1 12.1h1.3v1.3h-1.3zM52.9 12.7h1.3v1.3h-1.3zM55.3 12.7h1.3v1.3h-1.3zM71.7 12.2h1.3v1.3h-1.3zM19.9 14.1h1.3v1.3h-1.3zM24.0 14.7h1.3v1.3h-1.3zM27.1 15.1h1.3v1.3h-1.3zM29.3 15.2h1.3v1.3h-1.3zM75.4 14.6h1.3v1.3h-1.3zM85.9 14.3h1.3v1.3h-1.3zM11.1 17.4h1.3v1.3h-1.3zM13.3 17.1h1.3v1.3h-1.3zM18.4 16.9h1.3v1.3h-1.3zM21.2 17.3h1.3v1.3h-1.3zM33.4 17.0h1.3v1.3h-1.3zM42.3 17.4h1.3v1.3h-1.3zM57.0 17.4h1.3v1.3h-1.3zM74.4 17.4h1.3v1.3h-1.3zM0.5 19.4h1.3v1.3h-1.3zM5.4 20.1h1.3v1.3h-1.3zM7.2 19.6h1.3v1.3h-1.3zM24.8 19.4h1.3v1.3h-1.3zM27.1 19.3h1.3v1.3h-1.3zM37.1 19.1h1.3v1.3h-1.3zM51.9 19.8h1.3v1.3h-1.3zM56.0 19.5h1.3v1.3h-1.3zM0.7 22.0h1.3v1.3h-1.3zM16.4 21.9h1.3v1.3h-1.3zM20.3 21.9h1.3v1.3h-1.3zM33.0 22.6h1.3v1.3h-1.3zM42.6 21.9h1.3v1.3h-1.3zM45.2 22.4h1.3v1.3h-1.3zM70.0 22.1h1.3v1.3h-1.3zM74.4 22.3h1.3v1.3h-1.3zM21.9 24.4h1.3v1.3h-1.3zM36.8 24.6h1.3v1.3h-1.3zM39.8 24.3h1.3v1.3h-1.3zM66.0 24.8h1.3v1.3h-1.3zM33.3 27.1h1.3v1.3h-1.3zM36.0 27.5h1.3v1.3h-1.3zM40.0 26.4h1.3v1.3h-1.3zM45.9 26.4h1.3v1.3h-1.3zM48.1 27.2h1.3v1.3h-1.3zM64.7 27.2h1.3v1.3h-1.3zM77.0 27.3h1.3v1.3h-1.3zM14.6 29.5h1.3v1.3h-1.3zM19.9 29.2h1.3v1.3h-1.3zM21.9 29.8h1.3v1.3h-1.3zM38.9 29.8h1.3v1.3h-1.3zM48.9 29.8h1.3v1.3h-1.3zM23.8 32.4h1.3v1.3h-1.3zM35.1 32.0h1.3v1.3h-1.3zM37.7 32.2h1.3v1.3h-1.3zM40.0 31.8h1.3v1.3h-1.3zM45.4 31.9h1.3v1.3h-1.3zM69.6 32.4h1.3v1.3h-1.3zM16.9 34.3h1.3v1.3h-1.3zM24.2 34.5h1.3v1.3h-1.3zM27.3 34.1h1.3v1.3h-1.3zM29.7 34.5h1.3v1.3h-1.3zM31.3 34.4h1.3v1.3h-1.3zM34.5 33.7h1.3v1.3h-1.3zM46.8 33.8h1.3v1.3h-1.3zM51.2 34.8h1.3v1.3h-1.3zM53.6 34.2h1.3v1.3h-1.3zM58.7 34.2h1.3v1.3h-1.3zM61.2 34.5h1.3v1.3h-1.3zM80.8 34.4h1.3v1.3h-1.3zM11.1 36.9h1.3v1.3h-1.3zM25.5 36.5h1.3v1.3h-1.3zM37.9 36.6h1.3v1.3h-1.3zM47.3 37.3h1.3v1.3h-1.3zM52.8 37.3h1.3v1.3h-1.3zM62.0 36.7h1.3v1.3h-1.3zM70.4 37.3h1.3v1.3h-1.3zM82.6 36.2h1.3v1.3h-1.3zM16.9 39.2h1.3v1.3h-1.3zM32.2 39.5h1.3v1.3h-1.3zM34.2 38.9h1.3v1.3h-1.3zM41.3 39.7h1.3v1.3h-1.3zM51.3 38.7h1.3v1.3h-1.3zM71.5 39.2h1.3v1.3h-1.3zM5.9 42.1h1.3v1.3h-1.3zM13.2 41.8h1.3v1.3h-1.3zM25.7 41.6h1.3v1.3h-1.3zM27.9 41.6h1.3v1.3h-1.3zM40.1 42.1h1.3v1.3h-1.3zM45.7 42.0h1.3v1.3h-1.3zM62.7 41.1h1.3v1.3h-1.3zM65.3 42.1h1.3v1.3h-1.3zM77.4 42.2h1.3v1.3h-1.3zM9.7 43.8h1.3v1.3h-1.3zM14.8 44.3h1.3v1.3h-1.3zM33.9 44.0h1.3v1.3h-1.3zM44.1 43.6h1.3v1.3h-1.3zM46.5 44.2h1.3v1.3h-1.3zM48.5 43.9h1.3v1.3h-1.3zM51.5 44.0h1.3v1.3h-1.3zM58.9 44.0h1.3v1.3h-1.3zM66.5 44.0h1.3v1.3h-1.3zM6.4 46.6h1.3v1.3h-1.3zM13.5 46.2h1.3v1.3h-1.3zM30.8 46.1h1.3v1.3h-1.3zM38.0 46.8h1.3v1.3h-1.3zM52.6 46.5h1.3v1.3h-1.3zM24.3 49.4h1.3v1.3h-1.3zM34.4 48.6h1.3v1.3h-1.3zM46.1 49.2h1.3v1.3h-1.3zM38.2 51.3h1.3v1.3h-1.3zM39.9 51.2h1.3v1.3h-1.3zM39.1 53.9h1.3v1.3h-1.3zM49.5 53.6h1.3v1.3h-1.3zM51.4 53.5h1.3v1.3h-1.3zM56.3 54.0h1.3v1.3h-1.3zM70.7 54.1h1.3v1.3h-1.3zM3.2 55.9h1.3v1.3h-1.3zM21.2 56.7h1.3v1.3h-1.3zM47.2 56.3h1.3v1.3h-1.3zM81.5 56.4h1.3v1.3h-1.3zM10.2 58.7h1.3v1.3h-1.3zM31.3 58.3h1.3v1.3h-1.3zM36.5 58.4h1.3v1.3h-1.3zM82.7 58.8h1.3v1.3h-1.3zM42.8 61.2h1.3v1.3h-1.3zM69.6 61.4h1.3v1.3h-1.3zM36.9 64.1h1.3v1.3h-1.3zM48.9 64.1h1.3v1.3h-1.3zM71.2 63.8h1.3v1.3h-1.3zM5.5 66.5h1.3v1.3h-1.3zM25.1 66.7h1.3v1.3h-1.3zM77.1 65.6h1.3v1.3h-1.3zM80.0 66.6h1.3v1.3h-1.3zM41.1 68.5h1.3v1.3h-1.3zM53.4 68.7h1.3v1.3h-1.3zM65.9 68.9h1.3v1.3h-1.3zM68.8 69.1h1.3v1.3h-1.3zM52.9 71.3h1.3v1.3h-1.3zM62.0 71.5h1.3v1.3h-1.3zM7.3 73.7h1.3v1.3h-1.3zM31.7 73.5h1.3v1.3h-1.3zM41.9 73.6h1.3v1.3h-1.3zM25.8 76.1h1.3v1.3h-1.3zM37.7 75.7h1.3v1.3h-1.3zM52.1 75.7h1.3v1.3h-1.3zM57.9 75.7h1.3v1.3h-1.3zM72.4 76.2h1.3v1.3h-1.3zM9.9 78.6h1.3v1.3h-1.3zM12.1 78.8h1.3v1.3h-1.3zM38.9 78.5h1.3v1.3h-1.3zM41.6 78.1h1.3v1.3h-1.3zM63.1 78.8h1.3v1.3h-1.3zM43.0 81.0h1.3v1.3h-1.3zM84.6 81.4h1.3v1.3h-1.3zM77.9 83.2h1.3v1.3h-1.3z" fill="#2222ff"/></g><g fill="none" stroke="#1a1aff" stroke-linecap="round" opacity="0.6" filter="url(#bl)"><path d="M2 14 L9 10 L13 2" stroke-width="1.6"/><path d="M60 10 L86 14" stroke-width="1.6"/><path d="M8 42 Q16 44 20 48" stroke-width="2.2"/><path d="M52 58 Q58 50 70 52" stroke-width="1.8"/><path d="M2 78 L8 70" stroke-width="1.4"/><path d="M40 84 L44 80" stroke-width="1.4"/><path d="M18 8 L24 12" stroke-width="1.2"/></g></g><g id="dapiB" clip-path="url(#cimg)"><rect width="87" height="86" fill="#010114"/><g filter="url(#bl3)" fill="#000050"><ellipse cx="60" cy="75" rx="18" ry="12"/><ellipse cx="65" cy="20" rx="14" ry="16" fill="#00003c"/><ellipse cx="35" cy="50" rx="10" ry="16" fill="#000038"/></g><g filter="url(#bl2)"><path d="M6.4 0.7h1.1v1.1h-1.1zM10.8 0.2h1.1v1.1h-1.1zM32.0 0.7h1.1v1.1h-1.1zM46.9 0.4h1.1v1.1h-1.1zM61.3 0.4h1.1v1.1h-1.1zM5.5 2.7h1.1v1.1h-1.1zM12.0 2.1h1.1v1.1h-1.1zM25.2 2.2h1.1v1.1h-1.1zM29.0 1.8h1.1v1.1h-1.1zM31.6 1.4h1.1v1.1h-1.1zM36.3 1.5h1.1v1.1h-1.1zM40.5 1.3h1.1v1.1h-1.1zM43.5 2.7h1.1v1.1h-1.1zM45.7 2.7h1.1v1.1h-1.1zM72.0 1.6h1.1v1.1h-1.1zM76.1 2.1h1.1v1.1h-1.1zM78.1 1.8h1.1v1.1h-1.1zM15.1 4.5h1.1v1.1h-1.1zM21.2 4.8h1.1v1.1h-1.1zM41.9 4.9h1.1v1.1h-1.1zM44.6 3.9h1.1v1.1h-1.1zM50.2 4.4h1.1v1.1h-1.1zM63.6 4.8h1.1v1.1h-1.1zM67.4 3.9h1.1v1.1h-1.1zM71.6 4.9h1.1v1.1h-1.1zM75.5 4.7h1.1v1.1h-1.1zM80.0 4.4h1.1v1.1h-1.1zM1.7 6.6h1.1v1.1h-1.1zM7.6 6.3h1.1v1.1h-1.1zM15.5 7.0h1.1v1.1h-1.1zM37.7 6.9h1.1v1.1h-1.1zM53.1 6.8h1.1v1.1h-1.1zM75.6 6.8h1.1v1.1h-1.1zM77.3 6.8h1.1v1.1h-1.1zM4.7 8.7h1.1v1.1h-1.1zM24.6 8.2h1.1v1.1h-1.1zM41.4 8.8h1.1v1.1h-1.1zM46.3 9.2h1.1v1.1h-1.1zM54.2 9.1h1.1v1.1h-1.1zM81.4 8.1h1.1v1.1h-1.1zM17.0 9.9h1.1v1.1h-1.1zM35.5 9.8h1.1v1.1h-1.1zM37.8 10.3h1.1v1.1h-1.1zM76.0 10.8h1.1v1.1h-1.1zM0.8 12.3h1.1v1.1h-1.1zM4.0 13.2h1.1v1.1h-1.1zM13.3 11.8h1.1v1.1h-1.1zM41.8 12.5h1.1v1.1h-1.1zM69.3 12.9h1.1v1.1h-1.1zM33.4 14.0h1.1v1.1h-1.1zM48.0 14.7h1.1v1.1h-1.1zM0.7 17.0h1.1v1.1h-1.1zM60.2 16.5h1.1v1.1h-1.1zM75.9 16.6h1.1v1.1h-1.1zM79.1 16.8h1.1v1.1h-1.1zM84.6 16.8h1.1v1.1h-1.1zM85.4 16.2h1.1v1.1h-1.1zM3.7 18.9h1.1v1.1h-1.1zM35.6 18.9h1.1v1.1h-1.1zM42.2 18.6h1.1v1.1h-1.1zM44.2 19.0h1.1v1.1h-1.1zM61.4 19.1h1.1v1.1h-1.1zM66.4 18.6h1.1v1.1h-1.1zM4.4 20.6h1.1v1.1h-1.1zM42.8 20.9h1.1v1.1h-1.1zM59.6 21.3h1.1v1.1h-1.1zM64.3 21.6h1.1v1.1h-1.1zM80.6 20.9h1.1v1.1h-1.1zM81.4 20.8h1.1v1.1h-1.1zM85.6 21.3h1.1v1.1h-1.1zM54.5 23.1h1.1v1.1h-1.1zM58.4 22.7h1.1v1.1h-1.1zM69.6 22.4h1.1v1.1h-1.1zM71.4 23.0h1.1v1.1h-1.1zM79.4 22.8h1.1v1.1h-1.1zM54.7 25.3h1.1v1.1h-1.1zM61.6 24.8h1.1v1.1h-1.1zM70.8 25.6h1.1v1.1h-1.1zM73.1 24.6h1.1v1.1h-1.1zM79.1 25.1h1.1v1.1h-1.1zM52.8 26.9h1.1v1.1h-1.1zM53.9 27.3h1.1v1.1h-1.1zM58.6 27.3h1.1v1.1h-1.1zM61.0 26.7h1.1v1.1h-1.1zM63.4 28.1h1.1v1.1h-1.1zM74.9 27.9h1.1v1.1h-1.1zM5.8 30.0h1.1v1.1h-1.1zM9.7 29.7h1.1v1.1h-1.1zM18.6 30.0h1.1v1.1h-1.1zM23.1 28.6h1.1v1.1h-1.1zM2.8 30.8h1.1v1.1h-1.1zM6.0 31.6h1.1v1.1h-1.1zM64.8 32.2h1.1v1.1h-1.1zM70.7 31.4h1.1v1.1h-1.1zM77.0 31.7h1.1v1.1h-1.1zM81.1 31.2h1.1v1.1h-1.1zM31.3 34.2h1.1v1.1h-1.1zM74.9 34.1h1.1v1.1h-1.1zM79.8 33.7h1.1v1.1h-1.1zM47.6 35.7h1.1v1.1h-1.1zM78.0 36.3h1.1v1.1h-1.1zM46.7 37.7h1.1v1.1h-1.1zM48.5 37.2h1.1v1.1h-1.1zM54.5 38.3h1.1v1.1h-1.1zM58.9 37.5h1.1v1.1h-1.1zM74.3 38.6h1.1v1.1h-1.1zM79.9 37.3h1.1v1.1h-1.1zM6.3 40.2h1.1v1.1h-1.1zM42.1 40.4h1.1v1.1h-1.1zM53.1 39.6h1.1v1.1h-1.1zM8.7 42.3h1.1v1.1h-1.1zM14.2 41.5h1.1v1.1h-1.1zM26.0 42.3h1.1v1.1h-1.1zM36.2 42.2h1.1v1.1h-1.1zM37.4 42.7h1.1v1.1h-1.1zM41.4 41.6h1.1v1.1h-1.1zM79.4 42.1h1.1v1.1h-1.1zM84.2 42.7h1.1v1.1h-1.1zM4.3 43.6h1.1v1.1h-1.1zM31.1 43.7h1.1v1.1h-1.1zM39.2 43.5h1.1v1.1h-1.1zM42.7 44.7h1.1v1.1h-1.1zM60.5 44.8h1.1v1.1h-1.1zM0.1 45.7h1.1v1.1h-1.1zM2.4 46.7h1.1v1.1h-1.1zM9.0 46.5h1.1v1.1h-1.1zM23.4 46.2h1.1v1.1h-1.1zM29.5 46.6h1.1v1.1h-1.1zM30.9 45.7h1.1v1.1h-1.1zM46.7 46.9h1.1v1.1h-1.1zM57.2 46.8h1.1v1.1h-1.1zM58.9 46.0h1.1v1.1h-1.1zM67.0 46.5h1.1v1.1h-1.1zM71.6 45.7h1.1v1.1h-1.1zM74.9 46.9h1.1v1.1h-1.1zM81.3 45.7h1.1v1.1h-1.1zM27.2 48.7h1.1v1.1h-1.1zM44.1 47.6h1.1v1.1h-1.1zM54.4 47.9h1.1v1.1h-1.1zM59.2 48.2h1.1v1.1h-1.1zM77.2 48.6h1.1v1.1h-1.1zM6.1 50.2h1.1v1.1h-1.1zM26.6 51.1h1.1v1.1h-1.1zM37.7 50.3h1.1v1.1h-1.1zM42.8 50.0h1.1v1.1h-1.1zM43.5 50.9h1.1v1.1h-1.1zM54.9 50.9h1.1v1.1h-1.1zM3.6 53.0h1.1v1.1h-1.1zM20.9 52.9h1.1v1.1h-1.1zM26.5 53.0h1.1v1.1h-1.1zM34.4 53.0h1.1v1.1h-1.1zM49.9 53.1h1.1v1.1h-1.1zM75.8 52.8h1.1v1.1h-1.1zM18.1 54.2h1.1v1.1h-1.1zM28.7 54.4h1.1v1.1h-1.1zM37.4 55.0h1.1v1.1h-1.1zM48.7 53.8h1.1v1.1h-1.1zM52.0 55.0h1.1v1.1h-1.1zM67.8 54.3h1.1v1.1h-1.1zM35.2 56.4h1.1v1.1h-1.1zM62.4 56.9h1.1v1.1h-1.1zM69.3 56.8h1.1v1.1h-1.1zM71.3 57.2h1.1v1.1h-1.1zM73.6 56.2h1.1v1.1h-1.1zM79.4 57.4h1.1v1.1h-1.1zM82.6 56.7h1.1v1.1h-1.1zM84.8 57.2h1.1v1.1h-1.1zM12.9 59.5h1.1v1.1h-1.1zM26.6 58.7h1.1v1.1h-1.1zM31.9 59.3h1.1v1.1h-1.1zM34.9 59.4h1.1v1.1h-1.1zM48.7 58.7h1.1v1.1h-1.1zM50.5 58.2h1.1v1.1h-1.1zM55.3 59.2h1.1v1.1h-1.1zM59.1 58.4h1.1v1.1h-1.1zM60.6 59.1h1.1v1.1h-1.1zM75.8 58.9h1.1v1.1h-1.1zM7.9 61.7h1.1v1.1h-1.1zM41.4 60.3h1.1v1.1h-1.1zM58.4 61.7h1.1v1.1h-1.1zM61.1 60.3h1.1v1.1h-1.1zM67.0 60.3h1.1v1.1h-1.1zM71.0 60.7h1.1v1.1h-1.1zM81.9 61.1h1.1v1.1h-1.1zM39.9 63.2h1.1v1.1h-1.1zM55.9 63.3h1.1v1.1h-1.1zM70.1 63.5h1.1v1.1h-1.1zM77.7 62.4h1.1v1.1h-1.1zM28.7 64.8h1.1v1.1h-1.1zM43.3 65.6h1.1v1.1h-1.1zM46.8 65.5h1.1v1.1h-1.1zM48.2 64.3h1.1v1.1h-1.1zM58.0 64.6h1.1v1.1h-1.1zM60.5 64.4h1.1v1.1h-1.1zM17.5 66.9h1.1v1.1h-1.1zM23.6 67.4h1.1v1.1h-1.1zM39.9 66.7h1.1v1.1h-1.1zM47.0 66.9h1.1v1.1h-1.1zM67.0 67.7h1.1v1.1h-1.1zM75.4 66.6h1.1v1.1h-1.1zM77.4 66.6h1.1v1.1h-1.1zM79.2 66.7h1.1v1.1h-1.1zM85.8 67.1h1.1v1.1h-1.1zM28.7 69.2h1.1v1.1h-1.1zM36.3 68.6h1.1v1.1h-1.1zM50.4 69.1h1.1v1.1h-1.1zM58.4 70.0h1.1v1.1h-1.1zM60.7 68.8h1.1v1.1h-1.1zM62.2 69.5h1.1v1.1h-1.1zM67.2 68.7h1.1v1.1h-1.1zM69.9 68.9h1.1v1.1h-1.1zM71.1 69.8h1.1v1.1h-1.1zM10.7 71.4h1.1v1.1h-1.1zM36.2 71.3h1.1v1.1h-1.1zM47.6 71.2h1.1v1.1h-1.1zM52.7 71.0h1.1v1.1h-1.1zM65.7 71.4h1.1v1.1h-1.1zM66.7 71.6h1.1v1.1h-1.1zM71.6 72.0h1.1v1.1h-1.1zM77.2 71.3h1.1v1.1h-1.1zM5.6 74.1h1.1v1.1h-1.1zM47.8 72.8h1.1v1.1h-1.1zM55.1 72.7h1.1v1.1h-1.1zM59.6 72.7h1.1v1.1h-1.1zM62.9 74.3h1.1v1.1h-1.1zM69.5 73.3h1.1v1.1h-1.1zM77.2 74.0h1.1v1.1h-1.1zM81.2 72.9h1.1v1.1h-1.1zM8.9 75.5h1.1v1.1h-1.1zM12.0 74.9h1.1v1.1h-1.1zM14.2 75.5h1.1v1.1h-1.1zM21.6 75.7h1.1v1.1h-1.1zM25.0 75.6h1.1v1.1h-1.1zM44.6 75.2h1.1v1.1h-1.1zM55.0 75.1h1.1v1.1h-1.1zM58.7 75.2h1.1v1.1h-1.1zM60.5 75.1h1.1v1.1h-1.1zM63.8 75.5h1.1v1.1h-1.1zM78.3 75.7h1.1v1.1h-1.1zM5.6 78.4h1.1v1.1h-1.1zM8.0 77.0h1.1v1.1h-1.1zM34.4 77.0h1.1v1.1h-1.1zM37.8 78.5h1.1v1.1h-1.1zM46.3 77.4h1.1v1.1h-1.1zM58.5 77.1h1.1v1.1h-1.1zM68.5 77.1h1.1v1.1h-1.1zM70.8 78.5h1.1v1.1h-1.1zM77.3 78.4h1.1v1.1h-1.1zM79.2 78.4h1.1v1.1h-1.1zM21.5 80.0h1.1v1.1h-1.1zM31.3 80.5h1.1v1.1h-1.1zM33.0 79.1h1.1v1.1h-1.1zM35.9 79.7h1.1v1.1h-1.1zM44.3 80.5h1.1v1.1h-1.1zM46.0 79.5h1.1v1.1h-1.1zM53.3 79.1h1.1v1.1h-1.1zM61.5 79.0h1.1v1.1h-1.1zM65.6 79.3h1.1v1.1h-1.1zM70.0 80.3h1.1v1.1h-1.1zM2.0 82.3h1.1v1.1h-1.1zM18.9 81.7h1.1v1.1h-1.1zM31.0 81.2h1.1v1.1h-1.1zM42.1 81.1h1.1v1.1h-1.1zM46.7 81.1h1.1v1.1h-1.1zM54.4 81.3h1.1v1.1h-1.1zM62.8 81.2h1.1v1.1h-1.1zM66.9 82.1h1.1v1.1h-1.1zM69.8 81.4h1.1v1.1h-1.1zM71.2 81.6h1.1v1.1h-1.1zM73.7 81.7h1.1v1.1h-1.1zM1.5 84.4h1.1v1.1h-1.1zM23.6 84.4h1.1v1.1h-1.1zM25.8 84.1h1.1v1.1h-1.1zM32.9 84.4h1.1v1.1h-1.1zM39.2 84.4h1.1v1.1h-1.1zM46.4 84.6h1.1v1.1h-1.1zM52.6 83.5h1.1v1.1h-1.1zM58.7 83.4h1.1v1.1h-1.1zM62.9 84.4h1.1v1.1h-1.1zM75.3 84.8h1.1v1.1h-1.1zM77.9 84.6h1.1v1.1h-1.1z" fill="#000058"/><path d="M36.3 0.7h1.1v1.1h-1.1zM58.9 0.5h1.1v1.1h-1.1zM61.1 1.4h1.1v1.1h-1.1zM72.8 1.9h1.1v1.1h-1.1zM12.9 3.7h1.1v1.1h-1.1zM82.7 4.0h1.1v1.1h-1.1zM12.1 5.6h1.1v1.1h-1.1zM66.8 6.9h1.1v1.1h-1.1zM18.4 8.2h1.1v1.1h-1.1zM4.9 11.1h1.1v1.1h-1.1zM25.0 10.2h1.1v1.1h-1.1zM27.2 10.6h1.1v1.1h-1.1zM34.1 9.7h1.1v1.1h-1.1zM67.5 10.5h1.1v1.1h-1.1zM33.5 12.8h1.1v1.1h-1.1zM35.7 13.1h1.1v1.1h-1.1zM45.4 12.9h1.1v1.1h-1.1zM50.1 13.0h1.1v1.1h-1.1zM85.3 12.4h1.1v1.1h-1.1zM0.6 15.0h1.1v1.1h-1.1zM15.3 17.1h1.1v1.1h-1.1zM56.7 16.6h1.1v1.1h-1.1zM63.5 19.5h1.1v1.1h-1.1zM45.6 22.6h1.1v1.1h-1.1zM68.0 27.6h1.1v1.1h-1.1zM45.7 29.1h1.1v1.1h-1.1zM61.0 31.2h1.1v1.1h-1.1zM69.9 32.0h1.1v1.1h-1.1zM83.4 31.4h1.1v1.1h-1.1zM4.1 33.7h1.1v1.1h-1.1zM52.2 34.2h1.1v1.1h-1.1zM56.4 33.8h1.1v1.1h-1.1zM1.8 35.5h1.1v1.1h-1.1zM44.2 35.6h1.1v1.1h-1.1zM58.6 34.9h1.1v1.1h-1.1zM51.9 37.6h1.1v1.1h-1.1zM74.8 37.2h1.1v1.1h-1.1zM50.3 39.4h1.1v1.1h-1.1zM0.0 41.4h1.1v1.1h-1.1zM56.4 47.7h1.1v1.1h-1.1zM45.7 50.7h1.1v1.1h-1.1zM50.3 50.4h1.1v1.1h-1.1zM56.2 50.4h1.1v1.1h-1.1zM14.3 51.8h1.1v1.1h-1.1zM25.0 53.2h1.1v1.1h-1.1zM83.9 51.7h1.1v1.1h-1.1zM30.9 55.0h1.1v1.1h-1.1zM46.8 57.0h1.1v1.1h-1.1zM57.3 56.2h1.1v1.1h-1.1zM83.4 59.1h1.1v1.1h-1.1zM10.3 63.2h1.1v1.1h-1.1zM59.5 62.4h1.1v1.1h-1.1zM75.6 64.3h1.1v1.1h-1.1zM14.7 67.4h1.1v1.1h-1.1zM42.0 66.5h1.1v1.1h-1.1zM57.1 67.7h1.1v1.1h-1.1zM15.2 69.4h1.1v1.1h-1.1zM65.5 69.2h1.1v1.1h-1.1zM26.6 72.0h1.1v1.1h-1.1zM26.9 73.2h1.1v1.1h-1.1zM46.7 73.0h1.1v1.1h-1.1zM72.0 72.8h1.1v1.1h-1.1zM76.1 73.6h1.1v1.1h-1.1zM65.4 75.6h1.1v1.1h-1.1zM66.9 75.1h1.1v1.1h-1.1zM50.8 76.9h1.1v1.1h-1.1zM54.8 77.7h1.1v1.1h-1.1zM60.5 77.7h1.1v1.1h-1.1zM67.8 78.2h1.1v1.1h-1.1zM66.6 80.1h1.1v1.1h-1.1zM72.8 80.5h1.1v1.1h-1.1zM16.8 81.2h1.1v1.1h-1.1zM35.9 81.9h1.1v1.1h-1.1zM36.3 83.6h1.1v1.1h-1.1zM42.7 83.3h1.1v1.1h-1.1zM44.1 84.1h1.1v1.1h-1.1zM47.9 84.4h1.1v1.1h-1.1zM56.7 84.0h1.1v1.1h-1.1z" fill="#1010e0"/><path d="M54.9 0.5h1.1v1.1h-1.1zM84.2 0.7h1.1v1.1h-1.1zM1.5 2.0h1.1v1.1h-1.1zM37.7 3.7h1.1v1.1h-1.1zM45.9 4.6h1.1v1.1h-1.1zM58.4 3.6h1.1v1.1h-1.1zM6.6 6.7h1.1v1.1h-1.1zM17.4 5.5h1.1v1.1h-1.1zM57.1 5.8h1.1v1.1h-1.1zM15.0 8.6h1.1v1.1h-1.1zM29.5 7.9h1.1v1.1h-1.1zM35.0 8.4h1.1v1.1h-1.1zM79.2 8.4h1.1v1.1h-1.1zM23.9 9.9h1.1v1.1h-1.1zM28.8 10.8h1.1v1.1h-1.1zM51.9 10.4h1.1v1.1h-1.1zM70.7 10.5h1.1v1.1h-1.1zM83.2 10.7h1.1v1.1h-1.1zM10.8 12.7h1.1v1.1h-1.1zM56.5 12.6h1.1v1.1h-1.1zM59.0 13.2h1.1v1.1h-1.1zM30.9 18.8h1.1v1.1h-1.1zM58.2 19.3h1.1v1.1h-1.1zM19.6 21.2h1.1v1.1h-1.1zM20.6 20.6h1.1v1.1h-1.1zM43.8 20.5h1.1v1.1h-1.1zM9.9 22.6h1.1v1.1h-1.1zM48.8 22.3h1.1v1.1h-1.1zM76.3 23.2h1.1v1.1h-1.1zM82.7 24.7h1.1v1.1h-1.1zM50.7 29.1h1.1v1.1h-1.1zM75.4 29.0h1.1v1.1h-1.1zM8.8 31.1h1.1v1.1h-1.1zM61.4 34.0h1.1v1.1h-1.1zM64.6 33.5h1.1v1.1h-1.1zM0.8 36.5h1.1v1.1h-1.1zM46.4 35.7h1.1v1.1h-1.1zM14.0 37.1h1.1v1.1h-1.1zM25.4 38.5h1.1v1.1h-1.1zM48.0 39.9h1.1v1.1h-1.1zM67.0 40.6h1.1v1.1h-1.1zM78.2 40.3h1.1v1.1h-1.1zM81.5 40.1h1.1v1.1h-1.1zM2.9 42.5h1.1v1.1h-1.1zM39.8 42.2h1.1v1.1h-1.1zM82.1 41.4h1.1v1.1h-1.1zM18.8 43.9h1.1v1.1h-1.1zM21.4 43.9h1.1v1.1h-1.1zM43.5 44.7h1.1v1.1h-1.1zM52.1 43.3h1.1v1.1h-1.1zM37.5 46.0h1.1v1.1h-1.1zM20.4 48.3h1.1v1.1h-1.1zM60.6 48.5h1.1v1.1h-1.1zM63.4 47.9h1.1v1.1h-1.1zM29.3 53.2h1.1v1.1h-1.1zM58.8 51.8h1.1v1.1h-1.1zM63.3 52.6h1.1v1.1h-1.1zM9.0 54.8h1.1v1.1h-1.1zM55.0 54.4h1.1v1.1h-1.1zM60.7 57.1h1.1v1.1h-1.1zM75.6 56.6h1.1v1.1h-1.1zM10.4 59.1h1.1v1.1h-1.1zM42.6 58.8h1.1v1.1h-1.1zM35.8 61.5h1.1v1.1h-1.1zM47.6 60.8h1.1v1.1h-1.1zM49.9 60.2h1.1v1.1h-1.1zM52.4 61.4h1.1v1.1h-1.1zM79.0 60.6h1.1v1.1h-1.1zM22.8 63.5h1.1v1.1h-1.1zM54.2 63.3h1.1v1.1h-1.1zM75.4 63.3h1.1v1.1h-1.1zM6.4 66.9h1.1v1.1h-1.1zM55.1 67.9h1.1v1.1h-1.1zM65.6 67.5h1.1v1.1h-1.1zM83.8 67.5h1.1v1.1h-1.1zM0.8 68.9h1.1v1.1h-1.1zM49.0 68.5h1.1v1.1h-1.1zM76.9 69.5h1.1v1.1h-1.1zM56.1 72.2h1.1v1.1h-1.1zM60.6 71.5h1.1v1.1h-1.1zM63.3 71.8h1.1v1.1h-1.1zM70.0 71.1h1.1v1.1h-1.1zM82.5 70.8h1.1v1.1h-1.1zM85.6 71.0h1.1v1.1h-1.1zM23.2 73.1h1.1v1.1h-1.1zM72.7 73.2h1.1v1.1h-1.1zM51.7 74.8h1.1v1.1h-1.1zM71.1 75.5h1.1v1.1h-1.1zM52.5 77.9h1.1v1.1h-1.1zM37.0 80.0h1.1v1.1h-1.1zM51.0 79.3h1.1v1.1h-1.1zM44.1 81.9h1.1v1.1h-1.1zM77.3 81.6h1.1v1.1h-1.1zM83.6 82.5h1.1v1.1h-1.1zM51.0 83.8h1.1v1.1h-1.1zM67.0 84.6h1.1v1.1h-1.1z" fill="#000080"/><path d="M64.3 2.8h1.1v1.1h-1.1zM54.9 6.8h1.1v1.1h-1.1zM68.6 6.9h1.1v1.1h-1.1zM69.9 11.1h1.1v1.1h-1.1zM4.3 14.1h1.1v1.1h-1.1zM46.6 15.5h1.1v1.1h-1.1zM69.1 16.8h1.1v1.1h-1.1zM78.2 17.1h1.1v1.1h-1.1zM47.8 18.3h1.1v1.1h-1.1zM46.0 20.6h1.1v1.1h-1.1zM51.2 21.1h1.1v1.1h-1.1zM52.9 20.2h1.1v1.1h-1.1zM68.6 21.2h1.1v1.1h-1.1zM62.4 23.9h1.1v1.1h-1.1zM7.8 25.0h1.1v1.1h-1.1zM59.5 24.8h1.1v1.1h-1.1zM85.6 27.0h1.1v1.1h-1.1zM31.8 29.5h1.1v1.1h-1.1zM47.5 29.0h1.1v1.1h-1.1zM16.0 31.7h1.1v1.1h-1.1zM46.9 32.2h1.1v1.1h-1.1zM85.7 31.3h1.1v1.1h-1.1zM12.2 32.8h1.1v1.1h-1.1zM71.0 32.8h1.1v1.1h-1.1zM4.0 35.6h1.1v1.1h-1.1zM15.4 36.3h1.1v1.1h-1.1zM63.5 37.3h1.1v1.1h-1.1zM67.1 37.9h1.1v1.1h-1.1zM69.8 37.1h1.1v1.1h-1.1zM46.8 39.5h1.1v1.1h-1.1zM26.8 42.6h1.1v1.1h-1.1zM35.0 46.8h1.1v1.1h-1.1zM22.4 48.3h1.1v1.1h-1.1zM35.3 48.4h1.1v1.1h-1.1zM38.0 47.5h1.1v1.1h-1.1zM83.9 48.1h1.1v1.1h-1.1zM8.0 52.0h1.1v1.1h-1.1zM13.2 54.4h1.1v1.1h-1.1zM80.0 55.1h1.1v1.1h-1.1zM4.9 56.2h1.1v1.1h-1.1zM70.8 58.7h1.1v1.1h-1.1zM85.7 58.3h1.1v1.1h-1.1zM56.2 60.7h1.1v1.1h-1.1zM20.6 65.9h1.1v1.1h-1.1zM39.8 65.0h1.1v1.1h-1.1zM52.0 65.3h1.1v1.1h-1.1zM66.7 64.7h1.1v1.1h-1.1zM73.6 65.4h1.1v1.1h-1.1zM12.4 66.4h1.1v1.1h-1.1zM39.3 68.9h1.1v1.1h-1.1zM43.9 68.8h1.1v1.1h-1.1zM53.3 69.3h1.1v1.1h-1.1zM56.4 68.9h1.1v1.1h-1.1zM54.8 71.1h1.1v1.1h-1.1zM73.0 70.8h1.1v1.1h-1.1zM50.1 73.0h1.1v1.1h-1.1zM30.2 76.4h1.1v1.1h-1.1zM2.2 79.1h1.1v1.1h-1.1zM5.0 79.0h1.1v1.1h-1.1zM59.4 79.5h1.1v1.1h-1.1zM71.1 79.0h1.1v1.1h-1.1zM6.6 81.4h1.1v1.1h-1.1zM56.8 81.1h1.1v1.1h-1.1zM60.3 81.5h1.1v1.1h-1.1zM18.5 84.4h1.1v1.1h-1.1z" fill="#0000b0"/></g><g fill="none" stroke="#2424ff" stroke-linecap="round" opacity="0.85" filter="url(#bl)"><path d="M3 18 Q15 13 32 12" stroke-width="1.8"/><path d="M10 52 Q25 47 44 49" stroke-width="2.0"/><path d="M86 42 L78 46" stroke-width="1.8"/><path d="M2 42 L6 42" stroke-width="2.0"/><path d="M34 28 L38 24" stroke-width="1.8"/><path d="M82 18 L84 21" stroke-width="1.8"/><path d="M44 52 L46 54" stroke-width="2.0"/></g><g fill="none" stroke="#1a1aff" stroke-linecap="round" opacity="0.35" filter="url(#bl)"><path d="M44 6 Q50 30 47 60 Q48 75 50 86" stroke-width="2.0"/><path d="M62 2 Q72 22 86 30" stroke-width="2.0"/><path d="M20 86 Q30 70 44 62" stroke-width="2.5"/></g></g><g id="tunelB" clip-path="url(#cimg)"><path d="M0.7 7.7h1v1h-1zM37.1 60.5h1v1h-1zM34.9 57.6h1v1h-1zM36.2 61.1h1v1h-1zM26.9 63.8h1v1h-1zM13.8 33.1h1v1h-1zM48.4 71.0h1v1h-1zM15.0 80.8h1v1h-1zM67.9 24.9h1v1h-1zM9.1 76.3h1v1h-1zM6.5 41.0h1v1h-1zM46.2 42.4h1v1h-1zM38.1 29.9h1v1h-1zM21.3 47.2h1v1h-1zM32.8 56.5h1v1h-1zM31.8 54.3h1v1h-1zM46.0 27.1h1v1h-1zM45.5 21.7h1v1h-1zM41.1 65.7h1v1h-1zM29.7 73.4h1v1h-1zM24.2 69.9h1v1h-1zM7.3 50.7h1v1h-1zM12.6 42.8h1v1h-1zM54.1 31.9h1v1h-1zM74.9 63.5h1v1h-1zM54.8 26.0h1v1h-1zM37.4 4.3h1v1h-1zM42.8 72.2h1v1h-1zM23.9 73.6h1v1h-1zM81.2 16.0h1v1h-1zM26.2 80.2h1v1h-1zM76.5 27.8h1v1h-1zM14.5 72.7h1v1h-1zM15.0 60.7h1v1h-1zM23.0 65.6h1v1h-1zM34.8 27.2h1v1h-1zM81.4 20.3h1v1h-1zM32.6 64.9h1v1h-1zM14.5 76.6h1v1h-1zM39.6 76.5h1v1h-1zM67.0 46.4h1v1h-1zM19.5 75.8h1v1h-1zM2.7 64.0h1v1h-1zM21.9 59.5h1v1h-1zM21.1 0.3h1v1h-1zM9.2 50.7h1v1h-1zM50.0 78.3h1v1h-1zM39.6 31.7h1v1h-1zM75.0 35.6h1v1h-1zM35.6 32.0h1v1h-1zM40.5 31.8h1v1h-1zM9.5 72.3h1v1h-1zM65.3 55.1h1v1h-1zM49.3 76.6h1v1h-1zM39.7 56.8h1v1h-1zM34.2 67.4h1v1h-1zM35.9 72.7h1v1h-1zM56.9 11.3h1v1h-1zM19.4 36.9h1v1h-1zM28.9 60.6h1v1h-1zM24.5 82.4h1v1h-1zM61.3 41.1h1v1h-1zM66.4 63.5h1v1h-1zM84.7 50.5h1v1h-1zM51.2 28.1h1v1h-1zM82.8 11.9h1v1h-1zM12.2 69.4h1v1h-1zM21.0 81.7h1v1h-1zM7.3 55.6h1v1h-1zM44.7 75.9h1v1h-1zM83.4 15.4h1v1h-1zM7.3 51.3h1v1h-1zM19.2 70.6h1v1h-1zM35.9 81.3h1v1h-1zM67.3 54.2h1v1h-1zM23.5 83.2h1v1h-1zM20.2 50.9h1v1h-1zM68.3 13.0h1v1h-1zM24.1 67.8h1v1h-1zM29.3 69.9h1v1h-1zM5.0 66.9h1v1h-1zM26.8 59.9h1v1h-1zM38.4 30.1h1v1h-1zM67.0 33.2h1v1h-1zM7.7 61.5h1v1h-1zM13.2 76.4h1v1h-1zM32.3 8.8h1v1h-1zM8.4 54.2h1v1h-1zM13.7 49.2h1v1h-1zM16.8 75.1h1v1h-1zM10.4 76.2h1v1h-1zM7.7 65.6h1v1h-1zM33.9 70.2h1v1h-1zM17.9 57.8h1v1h-1zM12.0 62.7h1v1h-1zM42.2 39.2h1v1h-1zM35.0 78.6h1v1h-1zM37.7 57.9h1v1h-1zM17.2 11.6h1v1h-1zM25.2 63.3h1v1h-1zM25.6 65.1h1v1h-1zM50.2 36.7h1v1h-1zM57.9 32.7h1v1h-1zM26.2 47.5h1v1h-1zM50.3 77.6h1v1h-1zM55.5 37.4h1v1h-1zM14.9 65.8h1v1h-1zM18.7 1.3h1v1h-1zM19.0 50.4h1v1h-1zM68.8 64.0h1v1h-1zM16.1 31.7h1v1h-1zM23.4 0.2h1v1h-1zM21.6 75.6h1v1h-1zM31.8 80.2h1v1h-1zM32.0 56.9h1v1h-1zM20.0 9.4h1v1h-1zM23.7 56.5h1v1h-1zM82.7 30.9h1v1h-1zM64.0 13.4h1v1h-1zM35.6 3.3h1v1h-1zM20.7 52.6h1v1h-1zM44.7 35.4h1v1h-1zM44.7 21.6h1v1h-1zM33.7 49.3h1v1h-1zM66.5 22.5h1v1h-1zM45.5 25.1h1v1h-1z" fill="#0a3a0a"/><path d="M15.1 51.5h1v1h-1zM37.2 29.9h1v1h-1zM68.3 66.1h1v1h-1zM34.3 62.7h1v1h-1zM39.2 83.7h1v1h-1zM73.5 18.9h1v1h-1zM23.0 64.7h1v1h-1zM46.0 64.7h1v1h-1zM38.1 56.8h1v1h-1zM2.5 68.0h1v1h-1zM45.2 2.4h1v1h-1zM18.9 54.8h1v1h-1zM68.9 68.0h1v1h-1zM17.9 61.6h1v1h-1zM3.8 61.2h1v1h-1zM32.0 58.0h1v1h-1zM10.4 78.4h1v1h-1zM52.8 40.3h1v1h-1zM51.2 64.1h1v1h-1zM11.2 59.5h1v1h-1zM21.7 54.4h1v1h-1zM38.3 25.1h1v1h-1zM34.4 74.5h1v1h-1zM3.9 53.7h1v1h-1zM18.7 60.9h1v1h-1zM76.2 16.4h1v1h-1zM20.6 73.2h1v1h-1zM10.1 43.9h1v1h-1zM71.0 63.2h1v1h-1zM19.7 73.7h1v1h-1zM22.1 58.6h1v1h-1zM6.7 60.4h1v1h-1zM42.7 33.0h1v1h-1zM18.0 58.5h1v1h-1zM48.5 27.4h1v1h-1z" fill="#36d836"/><path d="M36.8 80.6h1v1h-1zM10.3 36.3h1v1h-1zM41.0 59.7h1v1h-1zM30.2 45.8h1v1h-1zM38.4 69.8h1v1h-1zM21.4 47.6h1v1h-1zM75.6 10.5h1v1h-1zM21.7 7.8h1v1h-1zM65.0 58.6h1v1h-1zM32.2 60.4h1v1h-1zM25.7 53.9h1v1h-1zM12.5 66.9h1v1h-1zM50.5 35.6h1v1h-1zM18.2 79.4h1v1h-1zM7.6 59.1h1v1h-1zM21.5 56.2h1v1h-1zM34.0 9.8h1v1h-1zM76.3 13.0h1v1h-1zM33.4 53.3h1v1h-1zM30.2 32.7h1v1h-1zM42.9 66.1h1v1h-1zM73.0 59.9h1v1h-1zM8.4 44.9h1v1h-1zM16.1 63.5h1v1h-1zM49.6 39.8h1v1h-1zM14.5 67.3h1v1h-1zM15.7 50.3h1v1h-1zM16.7 38.6h1v1h-1zM29.3 58.7h1v1h-1zM68.1 66.0h1v1h-1z" fill="#126a12"/><path d="M37.2 56.6h1v1h-1zM77.1 15.2h1v1h-1zM18.7 68.5h1v1h-1zM9.1 46.2h1v1h-1zM19.5 55.9h1v1h-1zM29.0 75.7h1v1h-1zM39.3 73.9h1v1h-1zM11.3 69.9h1v1h-1zM75.9 16.7h1v1h-1zM34.6 56.4h1v1h-1zM34.1 73.4h1v1h-1zM48.4 31.5h1v1h-1zM17.0 8.7h1v1h-1zM31.6 54.2h1v1h-1zM80.1 20.9h1v1h-1zM26.8 6.2h1v1h-1zM24.7 81.8h1v1h-1zM22.2 0.4h1v1h-1zM69.7 55.1h1v1h-1zM46.9 62.7h1v1h-1zM37.7 47.5h1v1h-1zM46.9 59.5h1v1h-1zM37.7 82.7h1v1h-1zM17.6 65.2h1v1h-1zM56.3 1.0h1v1h-1zM13.7 52.3h1v1h-1zM25.0 47.3h1v1h-1zM23.7 46.8h1v1h-1zM24.2 77.4h1v1h-1zM3.5 67.2h1v1h-1z" fill="#1fa01f"/><rect x="42.5" y="46" width="2" height="1.6" fill="#6cff6c"/><rect x="41.5" y="74.5" width="1.4" height="1.4" fill="#3fd43f"/></g></defs>
<text x="0.3" y="7.5" font-size="9.5" text-anchor="start" fill="#231f20" stroke="#231f20" stroke-width="0.22" font-weight="bold">a</text>
<line x1="39.5" y1="27.7" x2="39.5" y2="148.8" stroke="#333" stroke-width="1" />
<line x1="38.6" y1="148.5" x2="274.5" y2="148.5" stroke="#333" stroke-width="1" />
<line x1="35.8" y1="148.5" x2="39.1" y2="148.5" stroke="#333" stroke-width="1" />
<text x="33.6" y="151.7" font-size="9.5" text-anchor="end" fill="#231f20" stroke="#231f20" stroke-width="0.22" >0</text>
<line x1="35.8" y1="118.5" x2="39.1" y2="118.5" stroke="#333" stroke-width="1" />
<text x="33.6" y="121.7" font-size="9.5" text-anchor="end" fill="#231f20" stroke="#231f20" stroke-width="0.22" >1</text>
<line x1="35.8" y1="88.5" x2="39.1" y2="88.5" stroke="#333" stroke-width="1" />
<text x="33.6" y="91.7" font-size="9.5" text-anchor="end" fill="#231f20" stroke="#231f20" stroke-width="0.22" >2</text>
<line x1="35.8" y1="58.5" x2="39.1" y2="58.5" stroke="#333" stroke-width="1" />
<text x="33.6" y="61.7" font-size="9.5" text-anchor="end" fill="#231f20" stroke="#231f20" stroke-width="0.22" >3</text>
<line x1="35.8" y1="28.5" x2="39.1" y2="28.5" stroke="#333" stroke-width="1" />
<text x="33.6" y="31.7" font-size="9.5" text-anchor="end" fill="#231f20" stroke="#231f20" stroke-width="0.22" >4</text>
<text transform="translate(22.3,87.4) rotate(-90)" font-size="9.5" text-anchor="middle" fill="#231f20" stroke="#231f20" stroke-width="0.22" >Relative expression/<tspan font-style="italic">S7</tspan></text>
<rect x="49.9" y="25.8" width="11" height="5.4" fill="#b4b4b4" stroke="#555" stroke-width="0.9" />
<text x="65" y="31.6" font-size="9.5" text-anchor="start" fill="#231f20" stroke="#231f20" stroke-width="0.22" >ds<tspan font-style="italic">GFP</tspan></text>
<rect x="49.9" y="37.15" width="11" height="5.4" fill="#d13a18" stroke="#555" stroke-width="0.9" />
<text x="65" y="42.95" font-size="9.5" text-anchor="start" fill="#231f20" stroke="#231f20" stroke-width="0.22" >ds<tspan font-style="italic">desat1</tspan></text>
<rect x="49.9" y="48.5" width="11" height="5.4" fill="#ffffff" stroke="#555" stroke-width="0.9" />
<text x="65" y="54.3" font-size="9.5" text-anchor="start" fill="#231f20" stroke="#231f20" stroke-width="0.22" >ds<tspan font-style="italic">GFP</tspan></text>
<rect x="49.9" y="59.85" width="11" height="5.4" fill="#ffa9ac" stroke="#555" stroke-width="0.9" />
<text x="65" y="65.65" font-size="9.5" text-anchor="start" fill="#231f20" stroke="#231f20" stroke-width="0.22" >ds<tspan font-style="italic">desat1</tspan></text>
<line x1="108.3" y1="24.4" x2="108.3" y2="43.4" stroke="#8a8a8a" stroke-width="1.3" />
<line x1="108.3" y1="47" x2="108.3" y2="66" stroke="#8a8a8a" stroke-width="1.3" />
<text x="112.3" y="37" font-size="9.5" text-anchor="start" fill="#231f20" stroke="#231f20" stroke-width="0.22" >Sugar meal</text>
<text x="112.3" y="59.5" font-size="9.5" text-anchor="start" fill="#231f20" stroke="#231f20" stroke-width="0.22" >Blood meal</text>
<line x1="62.5" y1="148.3" x2="62.5" y2="152.5" stroke="#333" stroke-width="1" />
<rect x="44.5" y="118.5" width="6" height="30" fill="#b4b4b4" stroke="#2a2a2a" stroke-width="1" />
<line x1="47.5" y1="115" x2="47.5" y2="122.8" stroke="#111" stroke-width="1" />
<line x1="46" y1="115" x2="49" y2="115" stroke="#111" stroke-width="1" />
<line x1="46" y1="122.8" x2="49" y2="122.8" stroke="#111" stroke-width="1" />
<circle cx="46.3" cy="110.8" r="1.25" fill="none" stroke="#111" stroke-width="1.0"/>
<circle cx="48.8" cy="122.8" r="1.25" fill="none" stroke="#111" stroke-width="1.0"/>
<circle cx="47.5" cy="119.8" r="1.25" fill="none" stroke="#111" stroke-width="1.0"/>
<rect x="54.5" y="107.5" width="6" height="41" fill="#d13a18" stroke="#2a2a2a" stroke-width="1" />
<line x1="57.8" y1="100.6" x2="57.8" y2="113.8" stroke="#111" stroke-width="1" />
<line x1="56.3" y1="100.6" x2="59.3" y2="100.6" stroke="#111" stroke-width="1" />
<line x1="56.3" y1="113.8" x2="59.3" y2="113.8" stroke="#111" stroke-width="1" />
<circle cx="56.6" cy="94.3" r="1.25" fill="none" stroke="#111" stroke-width="1.0"/>
<circle cx="59.1" cy="109.3" r="1.25" fill="none" stroke="#111" stroke-width="1.0"/>
<circle cx="57.8" cy="115.3" r="1.25" fill="none" stroke="#111" stroke-width="1.0"/>
<rect x="64.5" y="133.5" width="6" height="15" fill="#ffffff" stroke="#2a2a2a" stroke-width="1" />
<line x1="67.7" y1="132.4" x2="67.7" y2="135.4" stroke="#111" stroke-width="1" />
<line x1="66.2" y1="132.4" x2="69.2" y2="132.4" stroke="#111" stroke-width="1" />
<line x1="66.2" y1="135.4" x2="69.2" y2="135.4" stroke="#111" stroke-width="1" />
<circle cx="66.5" cy="133.3" r="1.25" fill="none" stroke="#111" stroke-width="1.0"/>
<circle cx="69" cy="132.7" r="1.25" fill="none" stroke="#111" stroke-width="1.0"/>
<circle cx="67.7" cy="134.8" r="1.25" fill="none" stroke="#111" stroke-width="1.0"/>
<rect x="74.5" y="117.5" width="6" height="31" fill="#ffa9ac" stroke="#2a2a2a" stroke-width="1" />
<line x1="77.8" y1="115.3" x2="77.8" y2="118.9" stroke="#111" stroke-width="1" />
<line x1="76.3" y1="115.3" x2="79.3" y2="115.3" stroke="#111" stroke-width="1" />
<line x1="76.3" y1="118.9" x2="79.3" y2="118.9" stroke="#111" stroke-width="1" />
<circle cx="76.6" cy="115.3" r="1.25" fill="none" stroke="#111" stroke-width="1.0"/>
<circle cx="79.1" cy="118.3" r="1.25" fill="none" stroke="#111" stroke-width="1.0"/>
<circle cx="77.8" cy="116.8" r="1.25" fill="none" stroke="#111" stroke-width="1.0"/>
<text transform="translate(64.3,159.3) rotate(-45)" font-size="9.5" text-anchor="end" fill="#231f20" stroke="#231f20" stroke-width="0.22" ><tspan font-style="italic">Duox</tspan></text>
<line x1="109.5" y1="148.3" x2="109.5" y2="152.5" stroke="#333" stroke-width="1" />
<rect x="91.5" y="118.5" width="6" height="30" fill="#b4b4b4" stroke="#2a2a2a" stroke-width="1" />
<line x1="94.5" y1="116.5" x2="94.5" y2="120.1" stroke="#111" stroke-width="1" />
<line x1="93" y1="116.5" x2="96" y2="116.5" stroke="#111" stroke-width="1" />
<line x1="93" y1="120.1" x2="96" y2="120.1" stroke="#111" stroke-width="1" />
<circle cx="93.3" cy="116.8" r="1.25" fill="none" stroke="#111" stroke-width="1.0"/>
<circle cx="95.8" cy="119.8" r="1.25" fill="none" stroke="#111" stroke-width="1.0"/>
<circle cx="94.5" cy="117.7" r="1.25" fill="none" stroke="#111" stroke-width="1.0"/>
<rect x="101.5" y="115.5" width="6" height="33" fill="#d13a18" stroke="#2a2a2a" stroke-width="1" />
<line x1="104.8" y1="112.3" x2="104.8" y2="118.3" stroke="#111" stroke-width="1" />
<line x1="103.3" y1="112.3" x2="106.3" y2="112.3" stroke="#111" stroke-width="1" />
<line x1="103.3" y1="118.3" x2="106.3" y2="118.3" stroke="#111" stroke-width="1" />
<circle cx="103.6" cy="113.8" r="1.25" fill="none" stroke="#111" stroke-width="1.0"/>
<circle cx="106.1" cy="112.3" r="1.25" fill="none" stroke="#111" stroke-width="1.0"/>
<circle cx="104.8" cy="116.8" r="1.25" fill="none" stroke="#111" stroke-width="1.0"/>
<rect x="111.5" y="135.5" width="6" height="13" fill="#ffffff" stroke="#2a2a2a" stroke-width="1" />
<line x1="114.7" y1="134.8" x2="114.7" y2="136.6" stroke="#111" stroke-width="1" />
<line x1="113.2" y1="134.8" x2="116.2" y2="134.8" stroke="#111" stroke-width="1" />
<line x1="113.2" y1="136.6" x2="116.2" y2="136.6" stroke="#111" stroke-width="1" />
<circle cx="113.5" cy="134.8" r="1.25" fill="none" stroke="#111" stroke-width="1.0"/>
<circle cx="116" cy="136.3" r="1.25" fill="none" stroke="#111" stroke-width="1.0"/>
<circle cx="114.7" cy="135.7" r="1.25" fill="none" stroke="#111" stroke-width="1.0"/>
<rect x="121.5" y="121.5" width="6" height="27" fill="#ffa9ac" stroke="#2a2a2a" stroke-width="1" />
<line x1="124.8" y1="118.9" x2="124.8" y2="123.7" stroke="#111" stroke-width="1" />
<line x1="123.3" y1="118.9" x2="126.3" y2="118.9" stroke="#111" stroke-width="1" />
<line x1="123.3" y1="123.7" x2="126.3" y2="123.7" stroke="#111" stroke-width="1" />
<circle cx="123.6" cy="119.8" r="1.25" fill="none" stroke="#111" stroke-width="1.0"/>
<circle cx="126.1" cy="121.3" r="1.25" fill="none" stroke="#111" stroke-width="1.0"/>
<circle cx="124.8" cy="122.8" r="1.25" fill="none" stroke="#111" stroke-width="1.0"/>
<text transform="translate(111.3,159.3) rotate(-45)" font-size="9.5" text-anchor="end" fill="#231f20" stroke="#231f20" stroke-width="0.22" ><tspan font-style="italic">Nox5</tspan></text>
<line x1="156.5" y1="148.3" x2="156.5" y2="152.5" stroke="#333" stroke-width="1" />
<rect x="138.5" y="118.5" width="6" height="30" fill="#b4b4b4" stroke="#2a2a2a" stroke-width="1" />
<line x1="141.5" y1="117.4" x2="141.5" y2="119.8" stroke="#111" stroke-width="1" />
<line x1="140" y1="117.4" x2="143" y2="117.4" stroke="#111" stroke-width="1" />
<line x1="140" y1="119.8" x2="143" y2="119.8" stroke="#111" stroke-width="1" />
<circle cx="140.3" cy="118.3" r="1.25" fill="none" stroke="#111" stroke-width="1.0"/>
<circle cx="142.8" cy="118.9" r="1.25" fill="none" stroke="#111" stroke-width="1.0"/>
<circle cx="141.5" cy="118.3" r="1.25" fill="none" stroke="#111" stroke-width="1.0"/>
<rect x="148.5" y="114.5" width="6" height="34" fill="#d13a18" stroke="#2a2a2a" stroke-width="1" />
<line x1="151.8" y1="113.2" x2="151.8" y2="115" stroke="#111" stroke-width="1" />
<line x1="150.3" y1="113.2" x2="153.3" y2="113.2" stroke="#111" stroke-width="1" />
<line x1="150.3" y1="115" x2="153.3" y2="115" stroke="#111" stroke-width="1" />
<circle cx="150.6" cy="113.8" r="1.25" fill="none" stroke="#111" stroke-width="1.0"/>
<circle cx="153.1" cy="114.1" r="1.25" fill="none" stroke="#111" stroke-width="1.0"/>
<circle cx="151.8" cy="114.4" r="1.25" fill="none" stroke="#111" stroke-width="1.0"/>
<rect x="158.5" y="144.5" width="6" height="4" fill="#ffffff" stroke="#2a2a2a" stroke-width="1" />
<line x1="161.7" y1="143.5" x2="161.7" y2="144.7" stroke="#111" stroke-width="1" />
<line x1="160.2" y1="143.5" x2="163.2" y2="143.5" stroke="#111" stroke-width="1" />
<line x1="160.2" y1="144.7" x2="163.2" y2="144.7" stroke="#111" stroke-width="1" />
<circle cx="160.5" cy="143.8" r="1.25" fill="none" stroke="#111" stroke-width="1.0"/>
<circle cx="163" cy="144.1" r="1.25" fill="none" stroke="#111" stroke-width="1.0"/>
<circle cx="161.7" cy="144.1" r="1.25" fill="none" stroke="#111" stroke-width="1.0"/>
<rect x="168.5" y="140.5" width="6" height="8" fill="#ffa9ac" stroke="#2a2a2a" stroke-width="1" />
<line x1="171.8" y1="139.9" x2="171.8" y2="141.7" stroke="#111" stroke-width="1" />
<line x1="170.3" y1="139.9" x2="173.3" y2="139.9" stroke="#111" stroke-width="1" />
<line x1="170.3" y1="141.7" x2="173.3" y2="141.7" stroke="#111" stroke-width="1" />
<circle cx="170.6" cy="140.8" r="1.25" fill="none" stroke="#111" stroke-width="1.0"/>
<circle cx="173.1" cy="140.8" r="1.25" fill="none" stroke="#111" stroke-width="1.0"/>
<circle cx="171.8" cy="140.5" r="1.25" fill="none" stroke="#111" stroke-width="1.0"/>
<text transform="translate(158.3,159.3) rotate(-45)" font-size="9.5" text-anchor="end" fill="#231f20" stroke="#231f20" stroke-width="0.22" ><tspan font-style="italic">Hpx2</tspan></text>
<line x1="203.5" y1="148.3" x2="203.5" y2="152.5" stroke="#333" stroke-width="1" />
<rect x="185.5" y="118.5" width="6" height="30" fill="#b4b4b4" stroke="#2a2a2a" stroke-width="1" />
<line x1="188.5" y1="114.4" x2="188.5" y2="123.4" stroke="#111" stroke-width="1" />
<line x1="187" y1="114.4" x2="190" y2="114.4" stroke="#111" stroke-width="1" />
<line x1="187" y1="123.4" x2="190" y2="123.4" stroke="#111" stroke-width="1" />
<circle cx="187.3" cy="112.3" r="1.25" fill="none" stroke="#111" stroke-width="1.0"/>
<circle cx="189.8" cy="125.8" r="1.25" fill="none" stroke="#111" stroke-width="1.0"/>
<circle cx="188.5" cy="118.3" r="1.25" fill="none" stroke="#111" stroke-width="1.0"/>
<rect x="195.5" y="55.5" width="6" height="93" fill="#d13a18" stroke="#2a2a2a" stroke-width="1" />
<line x1="198.8" y1="46" x2="198.8" y2="64" stroke="#111" stroke-width="1" />
<line x1="197.3" y1="46" x2="200.3" y2="46" stroke="#111" stroke-width="1" />
<line x1="197.3" y1="64" x2="200.3" y2="64" stroke="#111" stroke-width="1" />
<circle cx="197.6" cy="40.3" r="1.25" fill="none" stroke="#111" stroke-width="1.0"/>
<circle cx="200.1" cy="49.3" r="1.25" fill="none" stroke="#111" stroke-width="1.0"/>
<circle cx="198.8" cy="73.3" r="1.25" fill="none" stroke="#111" stroke-width="1.0"/>
<rect x="205.5" y="141.5" width="6" height="7" fill="#ffffff" stroke="#2a2a2a" stroke-width="1" />
<line x1="208.7" y1="140.8" x2="208.7" y2="142.6" stroke="#111" stroke-width="1" />
<line x1="207.2" y1="140.8" x2="210.2" y2="140.8" stroke="#111" stroke-width="1" />
<line x1="207.2" y1="142.6" x2="210.2" y2="142.6" stroke="#111" stroke-width="1" />
<circle cx="207.5" cy="141.7" r="1.25" fill="none" stroke="#111" stroke-width="1.0"/>
<circle cx="210" cy="140.8" r="1.25" fill="none" stroke="#111" stroke-width="1.0"/>
<circle cx="208.7" cy="142.3" r="1.25" fill="none" stroke="#111" stroke-width="1.0"/>
<rect x="215.5" y="110.5" width="6" height="38" fill="#ffa9ac" stroke="#2a2a2a" stroke-width="1" />
<line x1="218.8" y1="104.2" x2="218.8" y2="116.2" stroke="#111" stroke-width="1" />
<line x1="217.3" y1="104.2" x2="220.3" y2="104.2" stroke="#111" stroke-width="1" />
<line x1="217.3" y1="116.2" x2="220.3" y2="116.2" stroke="#111" stroke-width="1" />
<circle cx="217.6" cy="100.3" r="1.25" fill="none" stroke="#111" stroke-width="1.0"/>
<circle cx="220.1" cy="115.3" r="1.25" fill="none" stroke="#111" stroke-width="1.0"/>
<circle cx="218.8" cy="116.8" r="1.25" fill="none" stroke="#111" stroke-width="1.0"/>
<text transform="translate(205.3,159.3) rotate(-45)" font-size="9.5" text-anchor="end" fill="#231f20" stroke="#231f20" stroke-width="0.22" ><tspan font-style="italic">Nos</tspan></text>
<line x1="250.5" y1="148.3" x2="250.5" y2="152.5" stroke="#333" stroke-width="1" />
<rect x="232.5" y="118.5" width="6" height="30" fill="#b4b4b4" stroke="#2a2a2a" stroke-width="1" />
<line x1="235.5" y1="113.5" x2="235.5" y2="124.3" stroke="#111" stroke-width="1" />
<line x1="234" y1="113.5" x2="237" y2="113.5" stroke="#111" stroke-width="1" />
<line x1="234" y1="124.3" x2="237" y2="124.3" stroke="#111" stroke-width="1" />
<circle cx="234.3" cy="109.3" r="1.25" fill="none" stroke="#111" stroke-width="1.0"/>
<circle cx="236.8" cy="124.3" r="1.25" fill="none" stroke="#111" stroke-width="1.0"/>
<circle cx="235.5" cy="122.8" r="1.25" fill="none" stroke="#111" stroke-width="1.0"/>
<rect x="242.5" y="101.5" width="6" height="47" fill="#d13a18" stroke="#2a2a2a" stroke-width="1" />
<line x1="245.8" y1="95.5" x2="245.8" y2="107.5" stroke="#111" stroke-width="1" />
<line x1="244.3" y1="95.5" x2="247.3" y2="95.5" stroke="#111" stroke-width="1" />
<line x1="244.3" y1="107.5" x2="247.3" y2="107.5" stroke="#111" stroke-width="1" />
<circle cx="244.6" cy="92.8" r="1.25" fill="none" stroke="#111" stroke-width="1.0"/>
<circle cx="247.1" cy="101.8" r="1.25" fill="none" stroke="#111" stroke-width="1.0"/>
<circle cx="245.8" cy="110.8" r="1.25" fill="none" stroke="#111" stroke-width="1.0"/>
<rect x="252.5" y="138.5" width="6" height="10" fill="#ffffff" stroke="#2a2a2a" stroke-width="1" />
<line x1="255.7" y1="137.5" x2="255.7" y2="140.5" stroke="#111" stroke-width="1" />
<line x1="254.2" y1="137.5" x2="257.2" y2="137.5" stroke="#111" stroke-width="1" />
<line x1="254.2" y1="140.5" x2="257.2" y2="140.5" stroke="#111" stroke-width="1" />
<circle cx="254.5" cy="137.8" r="1.25" fill="none" stroke="#111" stroke-width="1.0"/>
<circle cx="257" cy="139.9" r="1.25" fill="none" stroke="#111" stroke-width="1.0"/>
<circle cx="255.7" cy="139.3" r="1.25" fill="none" stroke="#111" stroke-width="1.0"/>
<rect x="262.5" y="101.5" width="6" height="47" fill="#ffa9ac" stroke="#2a2a2a" stroke-width="1" />
<line x1="265.8" y1="97.9" x2="265.8" y2="105.1" stroke="#111" stroke-width="1" />
<line x1="264.3" y1="97.9" x2="267.3" y2="97.9" stroke="#111" stroke-width="1" />
<line x1="264.3" y1="105.1" x2="267.3" y2="105.1" stroke="#111" stroke-width="1" />
<circle cx="264.6" cy="97.3" r="1.25" fill="none" stroke="#111" stroke-width="1.0"/>
<circle cx="267.1" cy="100.3" r="1.25" fill="none" stroke="#111" stroke-width="1.0"/>
<circle cx="265.8" cy="107.8" r="1.25" fill="none" stroke="#111" stroke-width="1.0"/>
<text transform="translate(252.3,159.3) rotate(-45)" font-size="9.5" text-anchor="end" fill="#231f20" stroke="#231f20" stroke-width="0.22" ><tspan font-style="italic">Catalase</tspan></text>
<path d="M47.5 91.5V87.5H55.5V91.5" stroke="#1a1a1a" stroke-width="1" fill="none" />
<text x="53.9" y="81.3" font-size="9.5" text-anchor="middle" fill="#231f20" stroke="#231f20" stroke-width="0.22" >ns</text>
<path d="M67.5 112.5V108.5H76.5V112.5" stroke="#1a1a1a" stroke-width="1" fill="none" />
<text x="72.1" y="110" font-size="10" text-anchor="middle" fill="#231f20" stroke="#231f20" stroke-width="0.22" letter-spacing="-0.35">**</text>
<path d="M95.5 108.5V104.5H103.5V108.5" stroke="#1a1a1a" stroke-width="1" fill="none" />
<text x="100.6" y="100.4" font-size="9.5" text-anchor="middle" fill="#231f20" stroke="#231f20" stroke-width="0.22" >ns</text>
<path d="M115.5 114.5V110.5H124.5V114.5" stroke="#1a1a1a" stroke-width="1" fill="none" />
<text x="119.8" y="112.2" font-size="10" text-anchor="middle" fill="#231f20" stroke="#231f20" stroke-width="0.22" letter-spacing="-0.35">**</text>
<path d="M141.5 110.5V106.5H150.5V110.5" stroke="#1a1a1a" stroke-width="1" fill="none" />
<text x="147.2" y="102" font-size="9.5" text-anchor="middle" fill="#231f20" stroke="#231f20" stroke-width="0.22" >ns</text>
<path d="M161.5 138.5V134.5H170.5V138.5" stroke="#1a1a1a" stroke-width="1" fill="none" />
<text x="165.9" y="135.1" font-size="7.5" text-anchor="middle" fill="#231f20" stroke="#231f20" stroke-width="0.22" letter-spacing="-0.35">***</text>
<path d="M190.5 37.5V33.5H198.5V37.5" stroke="#1a1a1a" stroke-width="1" fill="none" />
<text x="194.5" y="35.2" font-size="10" text-anchor="middle" fill="#231f20" stroke="#231f20" stroke-width="0.22" letter-spacing="-0.35">**</text>
<path d="M209.5 95.5V91.5H218.5V95.5" stroke="#1a1a1a" stroke-width="1" fill="none" />
<text x="214.2" y="93" font-size="10" text-anchor="middle" fill="#231f20" stroke="#231f20" stroke-width="0.22" letter-spacing="-0.35">**</text>
<path d="M237.5 89.5V85.5H245.5V89.5" stroke="#1a1a1a" stroke-width="1" fill="none" />
<text x="242.9" y="82" font-size="9.5" text-anchor="middle" fill="#231f20" stroke="#231f20" stroke-width="0.22" >ns</text>
<path d="M256.5 91.5V87.5H265.5V91.5" stroke="#1a1a1a" stroke-width="1" fill="none" />
<text x="260.9" y="89.2" font-size="10" text-anchor="middle" fill="#231f20" stroke="#231f20" stroke-width="0.22" letter-spacing="-0.35">**</text>
<text x="309.5" y="8.9" font-size="9.5" text-anchor="start" fill="#231f20" stroke="#231f20" stroke-width="0.22" font-weight="bold">b</text>
<text x="410" y="7.9" font-size="9.5" text-anchor="middle" fill="#231f20" stroke="#231f20" stroke-width="0.22" >H₂O₂ content</text>
<rect x="354.8" y="23.9" width="9.6" height="5.4" fill="#a0a0a0" stroke="#444" stroke-width="0.9" />
<text x="367.6" y="29.8" font-size="9.5" text-anchor="start" fill="#231f20" stroke="#231f20" stroke-width="0.22" >ds<tspan font-style="italic">GFP</tspan></text>
<rect x="416.3" y="23.6" width="9.6" height="5.4" fill="#d13a18" stroke="#444" stroke-width="0.9" />
<text x="429.5" y="29.8" font-size="9.5" text-anchor="start" fill="#231f20" stroke="#231f20" stroke-width="0.22" >ds<tspan font-style="italic">desat1</tspan></text>
<line x1="352.5" y1="39.7" x2="352.5" y2="148.7" stroke="#444" stroke-width="1" />
<line x1="351.6" y1="148.5" x2="474" y2="148.5" stroke="#444" stroke-width="1" />
<line x1="348.8" y1="148.5" x2="352.1" y2="148.5" stroke="#444" stroke-width="1" />
<text x="346" y="151.6" font-size="9.5" text-anchor="end" fill="#231f20" stroke="#231f20" stroke-width="0.22" >0</text>
<line x1="348.8" y1="121.5" x2="352.1" y2="121.5" stroke="#444" stroke-width="1" />
<text x="346" y="124.6" font-size="9.5" text-anchor="end" fill="#231f20" stroke="#231f20" stroke-width="0.22" >10</text>
<line x1="348.8" y1="94.5" x2="352.1" y2="94.5" stroke="#444" stroke-width="1" />
<text x="346" y="97.6" font-size="9.5" text-anchor="end" fill="#231f20" stroke="#231f20" stroke-width="0.22" >20</text>
<line x1="348.8" y1="67.5" x2="352.1" y2="67.5" stroke="#444" stroke-width="1" />
<text x="346" y="70.6" font-size="9.5" text-anchor="end" fill="#231f20" stroke="#231f20" stroke-width="0.22" >30</text>
<line x1="348.8" y1="40.5" x2="352.1" y2="40.5" stroke="#444" stroke-width="1" />
<text x="346" y="43.6" font-size="9.5" text-anchor="end" fill="#231f20" stroke="#231f20" stroke-width="0.22" >40</text>
<text transform="translate(326.6,96.7) rotate(-90)" font-size="9.5" text-anchor="middle" fill="#231f20" stroke="#231f20" stroke-width="0.22" textLength="93.4" lengthAdjust="spacingAndGlyphs">H₂O₂ (pmol/mosquito)</text>
<line x1="384.5" y1="148.2" x2="384.5" y2="151.2" stroke="#444" stroke-width="1" />
<line x1="441.5" y1="148.2" x2="441.5" y2="151.2" stroke="#444" stroke-width="1" />
<rect x="364.5" y="64.5" width="15" height="84" fill="#a0a0a0" stroke="#2a2a2a" stroke-width="1" />
<line x1="372.05" y1="59.6" x2="372.05" y2="64.7" stroke="#111" stroke-width="1" />
<line x1="369.05" y1="59.6" x2="375.05" y2="59.6" stroke="#111" stroke-width="1" />
<circle cx="372.05" cy="58.8" r="1.3" fill="#111"/>
<circle cx="372.05" cy="68.4" r="1.3" fill="#111"/>
<rect x="389.5" y="73.5" width="13" height="75" fill="#d13a18" stroke="#2a2a2a" stroke-width="1" />
<line x1="396.1" y1="71.3" x2="396.1" y2="73.4" stroke="#111" stroke-width="1" />
<line x1="393.1" y1="71.3" x2="399.1" y2="71.3" stroke="#111" stroke-width="1" />
<circle cx="396.1" cy="71.6" r="1.3" fill="#111"/>
<circle cx="396.1" cy="74.6" r="1.3" fill="#111"/>
<rect x="422.5" y="93.5" width="13" height="55" fill="#a0a0a0" stroke="#2a2a2a" stroke-width="1" />
<line x1="429.1" y1="89.1" x2="429.1" y2="93.9" stroke="#111" stroke-width="1" />
<line x1="426.1" y1="89.1" x2="432.1" y2="89.1" stroke="#111" stroke-width="1" />
<circle cx="429.1" cy="89" r="1.3" fill="#111"/>
<circle cx="429.1" cy="97.6" r="1.3" fill="#111"/>
<rect x="446.5" y="66.5" width="13" height="82" fill="#d13a18" stroke="#2a2a2a" stroke-width="1" />
<line x1="453.15" y1="65.6" x2="453.15" y2="66.2" stroke="#111" stroke-width="1" />
<line x1="450.15" y1="65.6" x2="456.15" y2="65.6" stroke="#111" stroke-width="1" />
<circle cx="451" cy="66.5" r="1.3" fill="#111"/>
<circle cx="455.3" cy="66.5" r="1.3" fill="#111"/>
<path d="M372.5 55.3V52.5H396.5V55.3" stroke="#1a1a1a" stroke-width="1" fill="none" />
<text x="383.9" y="49.2" font-size="9.5" text-anchor="middle" fill="#231f20" stroke="#231f20" stroke-width="0.22" >ns</text>
<path d="M429.5 59.3V56.5H452.5V59.3" stroke="#1a1a1a" stroke-width="1" fill="none" />
<text x="440.6" y="55.6" font-size="8.5" text-anchor="middle" fill="#231f20" stroke="#231f20" stroke-width="0.22" letter-spacing="-0.35">*</text>
<text x="384.5" y="162.3" font-size="9.5" text-anchor="middle" fill="#231f20" stroke="#231f20" stroke-width="0.22" textLength="42.6" lengthAdjust="spacingAndGlyphs">Sugar meal</text>
<text x="441.5" y="162.3" font-size="9.5" text-anchor="middle" fill="#231f20" stroke="#231f20" stroke-width="0.22" textLength="42.1" lengthAdjust="spacingAndGlyphs">Blood meal</text>
<text x="487.7" y="7.6" font-size="9.5" text-anchor="start" fill="#231f20" stroke="#231f20" stroke-width="0.22" font-weight="bold">c</text>
<text x="590.9" y="7.1" font-size="9.5" text-anchor="middle" fill="#231f20" stroke="#231f20" stroke-width="0.22" >ROS</text>
<line x1="590.6" y1="10" x2="590.6" y2="18.4" stroke="#222" stroke-width="0.9" />
<path d="M589 15.9L590.6 18.9L592.2 15.9" stroke="#222" stroke-width="0.9" fill="none" />
<ellipse cx="590.5" cy="35.8" rx="30.2" ry="14.0" fill="none" stroke="#2a2a2a" stroke-width="1.6"/>
<path d="M567.00 30.63 L567.29 30.05 L567.58 29.62 L567.86 29.33 L568.15 29.21 L568.44 29.24 L568.73 29.44 L569.01 29.80 L569.30 30.30 L569.59 30.94 L569.88 31.70 L570.16 32.56 L570.45 33.50 L570.74 34.49 L571.02 35.52 L571.31 36.55 L571.60 37.57 L571.89 38.54 L572.17 39.45 L572.46 40.26 L572.75 40.97 L573.04 41.55 L573.33 41.98 L573.61 42.27 L573.90 42.39 L574.19 42.36 L574.48 42.16 L574.76 41.80 L575.05 41.30 L575.34 40.66 L575.62 39.90 L575.91 39.04 L576.20 38.10 L576.49 37.11 L576.77 36.08 L577.06 35.05 L577.35 34.03 L577.64 33.06 L577.92 32.15 L578.21 31.34 L578.50 30.63 L578.79 30.05 L579.08 29.62 L579.36 29.33 L579.65 29.21 L579.94 29.24 L580.23 29.44 L580.51 29.80 L580.80 30.30 L581.09 30.94 L581.38 31.70 L581.66 32.56 L581.95 33.50 L582.24 34.49 L582.52 35.52 L582.81 36.55 L583.10 37.57 L583.39 38.54 L583.67 39.45 L583.96 40.26 L584.25 40.97 L584.54 41.55 L584.83 41.98 L585.11 42.27 L585.40 42.39 L585.69 42.36 L585.98 42.16 L586.26 41.80 L586.55 41.30 L586.84 40.66 L587.12 39.90 L587.41 39.04 L587.70 38.10 L587.99 37.11 L588.27 36.08 L588.56 35.05 L588.85 34.03 L589.14 33.06 L589.42 32.15 L589.71 31.34 L590.00 30.63 L590.29 30.05 L590.58 29.62 L590.86 29.33 L591.15 29.21 L591.44 29.24 L591.73 29.44 L592.01 29.80 L592.30 30.30 L592.59 30.94 L592.88 31.70 L593.16 32.56 L593.45 33.50 L593.74 34.49 L594.02 35.52 L594.31 36.55 L594.60 37.57 L594.89 38.54 L595.17 39.45 L595.46 40.26 L595.75 40.97 L596.04 41.55 L596.33 41.98 L596.61 42.27 L596.90 42.39 L597.19 42.36 L597.48 42.16 L597.76 41.80 L598.05 41.30 L598.34 40.66 L598.62 39.90 L598.91 39.04 L599.20 38.10 L599.49 37.11 L599.77 36.08 L600.06 35.05 L600.35 34.03 L600.64 33.06 L600.92 32.15 L601.21 31.34 L601.50 30.63 L601.79 30.05 L602.08 29.62 L602.36 29.33 L602.65 29.21 L602.94 29.24 L603.23 29.44 L603.51 29.80 L603.80 30.30 L604.09 30.94 L604.38 31.70 L604.66 32.56 L604.95 33.50 L605.24 34.49 L605.52 35.52 L605.81 36.55 L606.10 37.57 L606.39 38.54 L606.67 39.45 L606.96 40.26 L607.25 40.97 L607.54 41.55 L607.83 41.98 L608.11 42.27 L608.40 42.39 L608.69 42.36 L608.98 42.16 L609.26 41.80 L609.55 41.30 L609.84 40.66 L610.12 39.90 L610.41 39.04 L610.70 38.10 L610.99 37.11 L611.27 36.08 L611.56 35.05 L611.85 34.03 L612.14 33.06 L612.42 32.15 L612.71 31.34 L613.00 30.63" fill="none" stroke="#2a2a2a" stroke-width="4.8" stroke-linecap="round" stroke-linejoin="round"/>
<path d="M567.00 30.63 L567.29 30.05 L567.58 29.62 L567.86 29.33 L568.15 29.21 L568.44 29.24 L568.73 29.44 L569.01 29.80 L569.30 30.30 L569.59 30.94 L569.88 31.70 L570.16 32.56 L570.45 33.50 L570.74 34.49 L571.02 35.52 L571.31 36.55 L571.60 37.57 L571.89 38.54 L572.17 39.45 L572.46 40.26 L572.75 40.97 L573.04 41.55 L573.33 41.98 L573.61 42.27 L573.90 42.39 L574.19 42.36 L574.48 42.16 L574.76 41.80 L575.05 41.30 L575.34 40.66 L575.62 39.90 L575.91 39.04 L576.20 38.10 L576.49 37.11 L576.77 36.08 L577.06 35.05 L577.35 34.03 L577.64 33.06 L577.92 32.15 L578.21 31.34 L578.50 30.63 L578.79 30.05 L579.08 29.62 L579.36 29.33 L579.65 29.21 L579.94 29.24 L580.23 29.44 L580.51 29.80 L580.80 30.30 L581.09 30.94 L581.38 31.70 L581.66 32.56 L581.95 33.50 L582.24 34.49 L582.52 35.52 L582.81 36.55 L583.10 37.57 L583.39 38.54 L583.67 39.45 L583.96 40.26 L584.25 40.97 L584.54 41.55 L584.83 41.98 L585.11 42.27 L585.40 42.39 L585.69 42.36 L585.98 42.16 L586.26 41.80 L586.55 41.30 L586.84 40.66 L587.12 39.90 L587.41 39.04 L587.70 38.10 L587.99 37.11 L588.27 36.08 L588.56 35.05 L588.85 34.03 L589.14 33.06 L589.42 32.15 L589.71 31.34 L590.00 30.63 L590.29 30.05 L590.58 29.62 L590.86 29.33 L591.15 29.21 L591.44 29.24 L591.73 29.44 L592.01 29.80 L592.30 30.30 L592.59 30.94 L592.88 31.70 L593.16 32.56 L593.45 33.50 L593.74 34.49 L594.02 35.52 L594.31 36.55 L594.60 37.57 L594.89 38.54 L595.17 39.45 L595.46 40.26 L595.75 40.97 L596.04 41.55 L596.33 41.98 L596.61 42.27 L596.90 42.39 L597.19 42.36 L597.48 42.16 L597.76 41.80 L598.05 41.30 L598.34 40.66 L598.62 39.90 L598.91 39.04 L599.20 38.10 L599.49 37.11 L599.77 36.08 L600.06 35.05 L600.35 34.03 L600.64 33.06 L600.92 32.15 L601.21 31.34 L601.50 30.63 L601.79 30.05 L602.08 29.62 L602.36 29.33 L602.65 29.21 L602.94 29.24 L603.23 29.44 L603.51 29.80 L603.80 30.30 L604.09 30.94 L604.38 31.70 L604.66 32.56 L604.95 33.50 L605.24 34.49 L605.52 35.52 L605.81 36.55 L606.10 37.57 L606.39 38.54 L606.67 39.45 L606.96 40.26 L607.25 40.97 L607.54 41.55 L607.83 41.98 L608.11 42.27 L608.40 42.39 L608.69 42.36 L608.98 42.16 L609.26 41.80 L609.55 41.30 L609.84 40.66 L610.12 39.90 L610.41 39.04 L610.70 38.10 L610.99 37.11 L611.27 36.08 L611.56 35.05 L611.85 34.03 L612.14 33.06 L612.42 32.15 L612.71 31.34 L613.00 30.63" fill="none" stroke="#fff" stroke-width="3.2" stroke-linecap="round" stroke-linejoin="round"/>
<text x="630.3" y="40.1" font-size="9.9" text-anchor="start" fill="#231f20" stroke="#231f20" stroke-width="0.22" >Mitochondria</text>
<line x1="590.6" y1="52.6" x2="590.6" y2="61" stroke="#222" stroke-width="0.9" />
<path d="M589 58.5L590.6 61.5L592.2 58.5" stroke="#222" stroke-width="0.9" fill="none" />
<text x="593.3" y="71.5" font-size="9.5" text-anchor="middle" fill="#231f20" stroke="#231f20" stroke-width="0.22" >Cytochrome c</text>
<line x1="590.6" y1="75.2" x2="590.6" y2="82.9" stroke="#222" stroke-width="0.9" />
<path d="M589 80.4L590.6 83.4L592.2 80.4" stroke="#222" stroke-width="0.9" fill="none" />
<text x="583.6" y="93.4" font-size="9.5" text-anchor="start" fill="#231f20" stroke="#231f20" stroke-width="0.22" ><tspan fill="#e0402a" stroke="#e0402a">Ark</tspan> (Dark)</text>
<line x1="590.6" y1="97" x2="590.6" y2="106" stroke="#222" stroke-width="0.9" />
<path d="M589 103.5L590.6 106.5L592.2 103.5" stroke="#222" stroke-width="0.9" fill="none" />
<text x="496.5" y="117" font-size="9.5" text-anchor="start" fill="#231f20" stroke="#231f20" stroke-width="0.22" ><tspan fill="#e0402a" stroke="#e0402a">IAP</tspan> (DIAP1)</text>
<line x1="551.8" y1="113.4" x2="566.3" y2="113.4" stroke="#231f20" stroke-width="0.9" />
<line x1="566.3" y1="110.4" x2="566.3" y2="116.4" stroke="#231f20" stroke-width="0.9" />
<text x="570.7" y="117" font-size="9.5" text-anchor="start" fill="#231f20" stroke="#231f20" stroke-width="0.22" ><tspan fill="#e0402a" stroke="#e0402a">CASPL2</tspan> (Dronc)</text>
<line x1="590.6" y1="119.8" x2="590.6" y2="128.9" stroke="#222" stroke-width="0.9" />
<path d="M589 126.4L590.6 129.4L592.2 126.4" stroke="#222" stroke-width="0.9" fill="none" />
<text x="570.7" y="139.2" font-size="9.5" text-anchor="start" fill="#e0402a" stroke="#e0402a" stroke-width="0.22" >CASPS7</text>
<text x="570.7" y="150.7" font-size="9.5" text-anchor="start" fill="#e0402a" stroke="#e0402a" stroke-width="0.22" >CASPS5</text>
<text x="570.7" y="162.2" font-size="9.5" text-anchor="start" fill="#e0402a" stroke="#e0402a" stroke-width="0.22" >CASPS6</text>
<text x="570.7" y="173.7" font-size="9.5" text-anchor="start" fill="#e0402a" stroke="#e0402a" stroke-width="0.22" >CASPS8</text>
<text x="615.3" y="155.1" font-size="9.5" text-anchor="start" fill="#231f20" stroke="#231f20" stroke-width="0.22" >(DrICE, Dcp-1)</text>
<path d="M524.9 121.8V152.5H565.3" stroke="#231f20" stroke-width="0.9" fill="none" />
<line x1="565.3" y1="149.5" x2="565.3" y2="155.5" stroke="#231f20" stroke-width="0.9" />
<line x1="590.6" y1="176.6" x2="590.6" y2="185.5" stroke="#222" stroke-width="0.9" />
<path d="M589 183L590.6 186L592.2 183" stroke="#222" stroke-width="0.9" fill="none" />
<text x="591.5" y="194.3" font-size="9.5" text-anchor="middle" fill="#231f20" stroke="#231f20" stroke-width="0.22" >Apoptosis</text>
<text x="0" y="206" font-size="9.5" text-anchor="start" fill="#231f20" stroke="#231f20" stroke-width="0.22" font-weight="bold">d</text>
<line x1="38.5" y1="220.4" x2="38.5" y2="336.2" stroke="#333" stroke-width="1" />
<line x1="38.3" y1="335.5" x2="275.2" y2="335.5" stroke="#333" stroke-width="1" />
<line x1="35.5" y1="335.5" x2="38.8" y2="335.5" stroke="#333" stroke-width="1" />
<text x="33.2" y="339.1" font-size="9.5" text-anchor="end" fill="#231f20" stroke="#231f20" stroke-width="0.22" >0</text>
<line x1="35.5" y1="307.5" x2="38.8" y2="307.5" stroke="#333" stroke-width="1" />
<text x="33.2" y="310.4" font-size="9.5" text-anchor="end" fill="#231f20" stroke="#231f20" stroke-width="0.22" >5</text>
<line x1="35.5" y1="278.5" x2="38.8" y2="278.5" stroke="#333" stroke-width="1" />
<text x="33.2" y="281.7" font-size="9.5" text-anchor="end" fill="#231f20" stroke="#231f20" stroke-width="0.22" >10</text>
<line x1="35.5" y1="249.5" x2="38.8" y2="249.5" stroke="#333" stroke-width="1" />
<text x="33.2" y="253" font-size="9.5" text-anchor="end" fill="#231f20" stroke="#231f20" stroke-width="0.22" >15</text>
<line x1="35.5" y1="220.5" x2="38.8" y2="220.5" stroke="#333" stroke-width="1" />
<text x="33.2" y="224.3" font-size="9.5" text-anchor="end" fill="#231f20" stroke="#231f20" stroke-width="0.22" >20</text>
<text transform="translate(14.9,281.5) rotate(-90)" font-size="9.5" text-anchor="middle" fill="#231f20" stroke="#231f20" stroke-width="0.22" >Relative expression/<tspan font-style="italic">S7</tspan></text>
<rect x="159.4" y="211.6" width="11.5" height="5.6" fill="#b4b4b4" stroke="#555" stroke-width="0.9" />
<text x="174.6" y="217.6" font-size="9.5" text-anchor="start" fill="#231f20" stroke="#231f20" stroke-width="0.22" >ds<tspan font-style="italic">GFP</tspan></text>
<rect x="159.4" y="223.1" width="11.5" height="5.6" fill="#d13a18" stroke="#555" stroke-width="0.9" />
<text x="174.6" y="229.1" font-size="9.5" text-anchor="start" fill="#231f20" stroke="#231f20" stroke-width="0.22" >ds<tspan font-style="italic">desat1</tspan></text>
<rect x="159.4" y="234.4" width="11.5" height="5.6" fill="#ffffff" stroke="#555" stroke-width="0.9" />
<text x="174.6" y="240.4" font-size="9.5" text-anchor="start" fill="#231f20" stroke="#231f20" stroke-width="0.22" >ds<tspan font-style="italic">GFP</tspan></text>
<rect x="159.4" y="246" width="11.5" height="5.6" fill="#ffa9ac" stroke="#555" stroke-width="0.9" />
<text x="174.6" y="252" font-size="9.5" text-anchor="start" fill="#231f20" stroke="#231f20" stroke-width="0.22" >ds<tspan font-style="italic">desat1</tspan></text>
<line x1="218.2" y1="210.2" x2="218.2" y2="229.6" stroke="#8a8a8a" stroke-width="1.3" />
<line x1="218.2" y1="233.1" x2="218.2" y2="252.1" stroke="#8a8a8a" stroke-width="1.3" />
<text x="222.7" y="222.9" font-size="9.5" text-anchor="start" fill="#231f20" stroke="#231f20" stroke-width="0.22" >Sugar meal</text>
<text x="222.7" y="246" font-size="9.5" text-anchor="start" fill="#231f20" stroke="#231f20" stroke-width="0.22" >Blood meal</text>
<line x1="55.5" y1="335.7" x2="55.5" y2="339.2" stroke="#333" stroke-width="1" />
<rect x="42.5" y="329.5" width="4" height="6" fill="#b4b4b4" stroke="#2a2a2a" stroke-width="1" />
<circle cx="43.2" cy="330.26" r="1.05" fill="#111" stroke="#111" stroke-width="0.7"/>
<circle cx="44.5" cy="330.26" r="1.05" fill="#111" stroke="#111" stroke-width="0.7"/>
<circle cx="45.8" cy="330.26" r="1.05" fill="#111" stroke="#111" stroke-width="0.7"/>
<rect x="49.5" y="324.5" width="5" height="11" fill="#d13a18" stroke="#2a2a2a" stroke-width="1" />
<circle cx="50.5" cy="324.81" r="1.05" fill="#111" stroke="#111" stroke-width="0.7"/>
<circle cx="51.8" cy="324.81" r="1.05" fill="#111" stroke="#111" stroke-width="0.7"/>
<circle cx="53.1" cy="324.81" r="1.05" fill="#111" stroke="#111" stroke-width="0.7"/>
<rect x="56.5" y="332.5" width="5" height="3" fill="#ffffff" stroke="#2a2a2a" stroke-width="1" />
<circle cx="57.7" cy="333.13" r="1.05" fill="none" stroke="#111" stroke-width="0.7"/>
<circle cx="59" cy="333.13" r="1.05" fill="none" stroke="#111" stroke-width="0.7"/>
<circle cx="60.3" cy="333.13" r="1.05" fill="none" stroke="#111" stroke-width="0.7"/>
<rect x="64.5" y="324.5" width="4" height="11" fill="#ffa9ac" stroke="#2a2a2a" stroke-width="1" />
<line x1="66.4" y1="322.5" x2="66.4" y2="325.94" stroke="#111" stroke-width="1" />
<line x1="65" y1="322.5" x2="67.8" y2="322.5" stroke="#111" stroke-width="1" />
<line x1="65" y1="325.94" x2="67.8" y2="325.94" stroke="#111" stroke-width="1" />
<circle cx="66.4" cy="323.07" r="1.15" fill="none" stroke="#111" stroke-width="0.9"/>
<circle cx="67.3" cy="324.79" r="1.15" fill="none" stroke="#111" stroke-width="0.9"/>
<circle cx="65.8" cy="326.52" r="1.15" fill="none" stroke="#111" stroke-width="0.9"/>
<text transform="translate(56,345.8) rotate(-45)" font-size="9.5" text-anchor="end" fill="#231f20" stroke="#231f20" stroke-width="0.22" >CASPS 7</text>
<line x1="89.5" y1="335.7" x2="89.5" y2="339.2" stroke="#333" stroke-width="1" />
<rect x="75.5" y="329.5" width="5" height="6" fill="#b4b4b4" stroke="#2a2a2a" stroke-width="1" />
<circle cx="76.72" cy="330.26" r="1.05" fill="#111" stroke="#111" stroke-width="0.7"/>
<circle cx="78.02" cy="330.26" r="1.05" fill="#111" stroke="#111" stroke-width="0.7"/>
<circle cx="79.32" cy="330.26" r="1.05" fill="#111" stroke="#111" stroke-width="0.7"/>
<rect x="82.5" y="310.5" width="5" height="25" fill="#d13a18" stroke="#2a2a2a" stroke-width="1" />
<circle cx="84.02" cy="310.8" r="1.05" fill="#111" stroke="#111" stroke-width="0.7"/>
<circle cx="85.32" cy="310.8" r="1.05" fill="#111" stroke="#111" stroke-width="0.7"/>
<circle cx="86.62" cy="310.8" r="1.05" fill="#111" stroke="#111" stroke-width="0.7"/>
<rect x="90.5" y="324.5" width="4" height="11" fill="#ffffff" stroke="#2a2a2a" stroke-width="1" />
<line x1="92.52" y1="323.07" x2="92.52" y2="326.52" stroke="#111" stroke-width="1" />
<line x1="91.12" y1="323.07" x2="93.92" y2="323.07" stroke="#111" stroke-width="1" />
<line x1="91.12" y1="326.52" x2="93.92" y2="326.52" stroke="#111" stroke-width="1" />
<circle cx="92.52" cy="322.5" r="1.15" fill="none" stroke="#111" stroke-width="0.9"/>
<circle cx="93.42" cy="325.37" r="1.15" fill="none" stroke="#111" stroke-width="0.9"/>
<circle cx="91.92" cy="326.52" r="1.15" fill="none" stroke="#111" stroke-width="0.9"/>
<rect x="97.5" y="262.5" width="5" height="73" fill="#ffa9ac" stroke="#2a2a2a" stroke-width="1" />
<line x1="99.92" y1="254.77" x2="99.92" y2="269.69" stroke="#111" stroke-width="1" />
<line x1="98.52" y1="254.77" x2="101.32" y2="254.77" stroke="#111" stroke-width="1" />
<line x1="98.52" y1="269.69" x2="101.32" y2="269.69" stroke="#111" stroke-width="1" />
<circle cx="99.92" cy="249.03" r="1.15" fill="none" stroke="#111" stroke-width="0.9"/>
<circle cx="100.82" cy="261.08" r="1.15" fill="none" stroke="#111" stroke-width="0.9"/>
<circle cx="99.32" cy="276" r="1.15" fill="none" stroke="#111" stroke-width="0.9"/>
<text transform="translate(92.22,345.8) rotate(-45)" font-size="9.5" text-anchor="end" fill="#231f20" stroke="#231f20" stroke-width="0.22" >CASPS 5</text>
<line x1="122.5" y1="335.7" x2="122.5" y2="339.2" stroke="#333" stroke-width="1" />
<rect x="109.5" y="329.5" width="4" height="6" fill="#b4b4b4" stroke="#2a2a2a" stroke-width="1" />
<circle cx="110.24" cy="330.26" r="1.05" fill="#111" stroke="#111" stroke-width="0.7"/>
<circle cx="111.54" cy="330.26" r="1.05" fill="#111" stroke="#111" stroke-width="0.7"/>
<circle cx="112.84" cy="330.26" r="1.05" fill="#111" stroke="#111" stroke-width="0.7"/>
<rect x="116.5" y="315.5" width="5" height="20" fill="#d13a18" stroke="#2a2a2a" stroke-width="1" />
<circle cx="117.54" cy="315.34" r="1.05" fill="#111" stroke="#111" stroke-width="0.7"/>
<circle cx="118.84" cy="315.34" r="1.05" fill="#111" stroke="#111" stroke-width="0.7"/>
<circle cx="120.14" cy="315.34" r="1.05" fill="#111" stroke="#111" stroke-width="0.7"/>
<rect x="123.5" y="329.5" width="5" height="6" fill="#ffffff" stroke="#2a2a2a" stroke-width="1" />
<circle cx="124.74" cy="330.26" r="1.05" fill="none" stroke="#111" stroke-width="0.7"/>
<circle cx="126.04" cy="330.26" r="1.05" fill="none" stroke="#111" stroke-width="0.7"/>
<circle cx="127.34" cy="330.26" r="1.05" fill="none" stroke="#111" stroke-width="0.7"/>
<rect x="131.5" y="286.5" width="4" height="49" fill="#ffa9ac" stroke="#2a2a2a" stroke-width="1" />
<line x1="133.44" y1="281.86" x2="133.44" y2="290.47" stroke="#111" stroke-width="1" />
<line x1="132.04" y1="281.86" x2="134.84" y2="281.86" stroke="#111" stroke-width="1" />
<line x1="132.04" y1="290.47" x2="134.84" y2="290.47" stroke="#111" stroke-width="1" />
<circle cx="133.44" cy="279.74" r="1.15" fill="none" stroke="#111" stroke-width="0.9"/>
<circle cx="134.34" cy="290.93" r="1.15" fill="none" stroke="#111" stroke-width="0.9"/>
<circle cx="132.84" cy="293.22" r="1.15" fill="none" stroke="#111" stroke-width="0.9"/>
<text transform="translate(127.44,345.8) rotate(-45)" font-size="9.5" text-anchor="end" fill="#231f20" stroke="#231f20" stroke-width="0.22" >CASPS 6</text>
<line x1="156.5" y1="335.7" x2="156.5" y2="339.2" stroke="#333" stroke-width="1" />
<rect x="142.5" y="329.5" width="5" height="6" fill="#b4b4b4" stroke="#2a2a2a" stroke-width="1" />
<circle cx="143.76" cy="330.26" r="1.05" fill="#111" stroke="#111" stroke-width="0.7"/>
<circle cx="145.06" cy="330.26" r="1.05" fill="#111" stroke="#111" stroke-width="0.7"/>
<circle cx="146.36" cy="330.26" r="1.05" fill="#111" stroke="#111" stroke-width="0.7"/>
<rect x="150.5" y="316.5" width="4" height="19" fill="#d13a18" stroke="#2a2a2a" stroke-width="1" />
<circle cx="151.06" cy="316.71" r="1.05" fill="#111" stroke="#111" stroke-width="0.7"/>
<circle cx="152.36" cy="316.71" r="1.05" fill="#111" stroke="#111" stroke-width="0.7"/>
<circle cx="153.66" cy="316.71" r="1.05" fill="#111" stroke="#111" stroke-width="0.7"/>
<rect x="157.5" y="329.5" width="4" height="6" fill="#ffffff" stroke="#2a2a2a" stroke-width="1" />
<circle cx="158.26" cy="330.26" r="1.05" fill="none" stroke="#111" stroke-width="0.7"/>
<circle cx="159.56" cy="330.26" r="1.05" fill="none" stroke="#111" stroke-width="0.7"/>
<circle cx="160.86" cy="330.26" r="1.05" fill="none" stroke="#111" stroke-width="0.7"/>
<rect x="164.5" y="308.5" width="5" height="27" fill="#ffa9ac" stroke="#2a2a2a" stroke-width="1" />
<line x1="166.96" y1="304.7" x2="166.96" y2="311.59" stroke="#111" stroke-width="1" />
<line x1="165.56" y1="304.7" x2="168.36" y2="304.7" stroke="#111" stroke-width="1" />
<line x1="165.56" y1="311.59" x2="168.36" y2="311.59" stroke="#111" stroke-width="1" />
<circle cx="166.96" cy="304.7" r="1.15" fill="none" stroke="#111" stroke-width="0.9"/>
<circle cx="167.86" cy="309.3" r="1.15" fill="none" stroke="#111" stroke-width="0.9"/>
<circle cx="166.36" cy="310.44" r="1.15" fill="none" stroke="#111" stroke-width="0.9"/>
<text transform="translate(163.86,345.8) rotate(-45)" font-size="9.5" text-anchor="end" fill="#231f20" stroke="#231f20" stroke-width="0.22" >CASPS 8</text>
<line x1="189.5" y1="335.7" x2="189.5" y2="339.2" stroke="#333" stroke-width="1" />
<rect x="176.5" y="329.5" width="4" height="6" fill="#b4b4b4" stroke="#2a2a2a" stroke-width="1" />
<circle cx="177.28" cy="330.26" r="1.05" fill="#111" stroke="#111" stroke-width="0.7"/>
<circle cx="178.58" cy="330.26" r="1.05" fill="#111" stroke="#111" stroke-width="0.7"/>
<circle cx="179.88" cy="330.26" r="1.05" fill="#111" stroke="#111" stroke-width="0.7"/>
<rect x="183.5" y="316.5" width="5" height="19" fill="#d13a18" stroke="#2a2a2a" stroke-width="1" />
<circle cx="184.58" cy="316.71" r="1.05" fill="#111" stroke="#111" stroke-width="0.7"/>
<circle cx="185.88" cy="316.71" r="1.05" fill="#111" stroke="#111" stroke-width="0.7"/>
<circle cx="187.18" cy="316.71" r="1.05" fill="#111" stroke="#111" stroke-width="0.7"/>
<rect x="190.5" y="331.5" width="5" height="4" fill="#ffffff" stroke="#2a2a2a" stroke-width="1" />
<circle cx="191.78" cy="331.69" r="1.05" fill="none" stroke="#111" stroke-width="0.7"/>
<circle cx="193.08" cy="331.69" r="1.05" fill="none" stroke="#111" stroke-width="0.7"/>
<circle cx="194.38" cy="331.69" r="1.05" fill="none" stroke="#111" stroke-width="0.7"/>
<rect x="198.5" y="314.5" width="4" height="21" fill="#ffa9ac" stroke="#2a2a2a" stroke-width="1" />
<line x1="200.48" y1="311.36" x2="200.48" y2="317.1" stroke="#111" stroke-width="1" />
<line x1="199.08" y1="311.36" x2="201.88" y2="311.36" stroke="#111" stroke-width="1" />
<line x1="199.08" y1="317.1" x2="201.88" y2="317.1" stroke="#111" stroke-width="1" />
<circle cx="200.48" cy="311.02" r="1.15" fill="none" stroke="#111" stroke-width="0.9"/>
<circle cx="201.38" cy="315.04" r="1.15" fill="none" stroke="#111" stroke-width="0.9"/>
<circle cx="199.88" cy="316.76" r="1.15" fill="none" stroke="#111" stroke-width="0.9"/>
<text transform="translate(199.08,345.8) rotate(-45)" font-size="9.5" text-anchor="end" fill="#231f20" stroke="#231f20" stroke-width="0.22" >CASPL 2</text>
<line x1="223.5" y1="335.7" x2="223.5" y2="339.2" stroke="#333" stroke-width="1" />
<rect x="209.5" y="329.5" width="5" height="6" fill="#b4b4b4" stroke="#2a2a2a" stroke-width="1" />
<circle cx="210.8" cy="330.26" r="1.05" fill="#111" stroke="#111" stroke-width="0.7"/>
<circle cx="212.1" cy="330.26" r="1.05" fill="#111" stroke="#111" stroke-width="0.7"/>
<circle cx="213.4" cy="330.26" r="1.05" fill="#111" stroke="#111" stroke-width="0.7"/>
<rect x="217.5" y="307.5" width="4" height="28" fill="#d13a18" stroke="#2a2a2a" stroke-width="1" />
<line x1="219.4" y1="305.28" x2="219.4" y2="309.87" stroke="#111" stroke-width="1" />
<line x1="218" y1="305.28" x2="220.8" y2="305.28" stroke="#111" stroke-width="1" />
<line x1="218" y1="309.87" x2="220.8" y2="309.87" stroke="#111" stroke-width="1" />
<circle cx="218.1" cy="307.87" r="1.05" fill="#111" stroke="#111" stroke-width="0.7"/>
<circle cx="219.4" cy="307.87" r="1.05" fill="#111" stroke="#111" stroke-width="0.7"/>
<circle cx="220.7" cy="307.87" r="1.05" fill="#111" stroke="#111" stroke-width="0.7"/>
<rect x="224.5" y="331.5" width="4" height="4" fill="#ffffff" stroke="#2a2a2a" stroke-width="1" />
<circle cx="225.3" cy="331.41" r="1.05" fill="none" stroke="#111" stroke-width="0.7"/>
<circle cx="226.6" cy="331.41" r="1.05" fill="none" stroke="#111" stroke-width="0.7"/>
<circle cx="227.9" cy="331.41" r="1.05" fill="none" stroke="#111" stroke-width="0.7"/>
<rect x="231.5" y="311.5" width="5" height="24" fill="#ffa9ac" stroke="#2a2a2a" stroke-width="1" />
<line x1="234" y1="309.87" x2="234" y2="313.31" stroke="#111" stroke-width="1" />
<line x1="232.6" y1="309.87" x2="235.4" y2="309.87" stroke="#111" stroke-width="1" />
<line x1="232.6" y1="313.31" x2="235.4" y2="313.31" stroke="#111" stroke-width="1" />
<circle cx="234" cy="309.3" r="1.15" fill="none" stroke="#111" stroke-width="0.9"/>
<circle cx="234.9" cy="312.17" r="1.15" fill="none" stroke="#111" stroke-width="0.9"/>
<circle cx="233.4" cy="312.74" r="1.15" fill="none" stroke="#111" stroke-width="0.9"/>
<text transform="translate(228.2,345.8) rotate(-45)" font-size="9.5" text-anchor="end" fill="#231f20" stroke="#231f20" stroke-width="0.22" ><tspan font-style="italic">IAP1</tspan></text>
<line x1="256.5" y1="335.7" x2="256.5" y2="339.2" stroke="#333" stroke-width="1" />
<rect x="243.5" y="329.5" width="4" height="6" fill="#b4b4b4" stroke="#2a2a2a" stroke-width="1" />
<circle cx="244.32" cy="330.26" r="1.05" fill="#111" stroke="#111" stroke-width="0.7"/>
<circle cx="245.62" cy="330.26" r="1.05" fill="#111" stroke="#111" stroke-width="0.7"/>
<circle cx="246.92" cy="330.26" r="1.05" fill="#111" stroke="#111" stroke-width="0.7"/>
<rect x="250.5" y="316.5" width="5" height="19" fill="#d13a18" stroke="#2a2a2a" stroke-width="1" />
<circle cx="251.62" cy="316.71" r="1.05" fill="#111" stroke="#111" stroke-width="0.7"/>
<circle cx="252.92" cy="316.71" r="1.05" fill="#111" stroke="#111" stroke-width="0.7"/>
<circle cx="254.22" cy="316.71" r="1.05" fill="#111" stroke="#111" stroke-width="0.7"/>
<rect x="257.5" y="328.5" width="5" height="7" fill="#ffffff" stroke="#2a2a2a" stroke-width="1" />
<circle cx="258.82" cy="328.54" r="1.05" fill="none" stroke="#111" stroke-width="0.7"/>
<circle cx="260.12" cy="328.54" r="1.05" fill="none" stroke="#111" stroke-width="0.7"/>
<circle cx="261.42" cy="328.54" r="1.05" fill="none" stroke="#111" stroke-width="0.7"/>
<rect x="265.5" y="313.5" width="4" height="22" fill="#ffa9ac" stroke="#2a2a2a" stroke-width="1" />
<line x1="267.52" y1="311.25" x2="267.52" y2="315.84" stroke="#111" stroke-width="1" />
<line x1="266.12" y1="311.25" x2="268.92" y2="311.25" stroke="#111" stroke-width="1" />
<line x1="266.12" y1="315.84" x2="268.92" y2="315.84" stroke="#111" stroke-width="1" />
<circle cx="267.52" cy="311.59" r="1.15" fill="none" stroke="#111" stroke-width="0.9"/>
<circle cx="268.42" cy="313.89" r="1.15" fill="none" stroke="#111" stroke-width="0.9"/>
<circle cx="266.92" cy="315.04" r="1.15" fill="none" stroke="#111" stroke-width="0.9"/>
<text transform="translate(262.32,345.8) rotate(-45)" font-size="9.5" text-anchor="end" fill="#231f20" stroke="#231f20" stroke-width="0.22" ><tspan font-style="italic">Ark</tspan></text>
<path d="M44.5 317.3V314.5H51.5V317.3" stroke="#1a1a1a" stroke-width="1" fill="none" />
<text x="49.4" y="314" font-size="10" text-anchor="middle" fill="#231f20" stroke="#231f20" stroke-width="0.22" letter-spacing="-0.35">****</text>
<path d="M58.5 317.3V314.5H66.5V317.3" stroke="#1a1a1a" stroke-width="1" fill="none" />
<text x="62.7" y="316.5" font-size="10" text-anchor="middle" fill="#231f20" stroke="#231f20" stroke-width="0.22" letter-spacing="-0.35">**</text>
<path d="M77.5 306.3V303.5H85.5V306.3" stroke="#1a1a1a" stroke-width="1" fill="none" />
<text x="81.5" y="303.6" font-size="10" text-anchor="middle" fill="#231f20" stroke="#231f20" stroke-width="0.22" letter-spacing="-0.35">***</text>
<path d="M92.5 241.3V238.5H100.5V241.3" stroke="#1a1a1a" stroke-width="1" fill="none" />
<text x="95.3" y="238.4" font-size="10" text-anchor="middle" fill="#231f20" stroke="#231f20" stroke-width="0.22" letter-spacing="-0.35">**</text>
<path d="M111.5 310.3V307.5H119.5V310.3" stroke="#1a1a1a" stroke-width="1" fill="none" />
<text x="116" y="307" font-size="10" text-anchor="middle" fill="#231f20" stroke="#231f20" stroke-width="0.22" letter-spacing="-0.35">****</text>
<path d="M126.5 274.3V271.5H133.5V274.3" stroke="#1a1a1a" stroke-width="1" fill="none" />
<text x="130" y="271.2" font-size="10" text-anchor="middle" fill="#231f20" stroke="#231f20" stroke-width="0.22" letter-spacing="-0.35">***</text>
<path d="M145.5 312.3V309.5H152.5V312.3" stroke="#1a1a1a" stroke-width="1" fill="none" />
<text x="150" y="310.3" font-size="10" text-anchor="middle" fill="#231f20" stroke="#231f20" stroke-width="0.22" letter-spacing="-0.35">****</text>
<path d="M159.5 298.3V295.5H167.5V298.3" stroke="#1a1a1a" stroke-width="1" fill="none" />
<text x="162.9" y="295.8" font-size="10" text-anchor="middle" fill="#231f20" stroke="#231f20" stroke-width="0.22" letter-spacing="-0.35">***</text>
<path d="M178.5 312.3V309.5H185.5V312.3" stroke="#1a1a1a" stroke-width="1" fill="none" />
<text x="183.4" y="310.3" font-size="10" text-anchor="middle" fill="#231f20" stroke="#231f20" stroke-width="0.22" letter-spacing="-0.35">****</text>
<path d="M193.5 308.3V305.5H200.5V308.3" stroke="#1a1a1a" stroke-width="1" fill="none" />
<text x="197.1" y="306.3" font-size="10" text-anchor="middle" fill="#231f20" stroke="#231f20" stroke-width="0.22" letter-spacing="-0.35">***</text>
<path d="M213.5 297.3V294.5H220.5V297.3" stroke="#1a1a1a" stroke-width="1" fill="none" />
<text x="216.8" y="295.2" font-size="10" text-anchor="middle" fill="#231f20" stroke="#231f20" stroke-width="0.22" letter-spacing="-0.35">***</text>
<path d="M227.5 304.3V301.5H234.5V304.3" stroke="#1a1a1a" stroke-width="1" fill="none" />
<text x="231" y="301.8" font-size="10" text-anchor="middle" fill="#231f20" stroke="#231f20" stroke-width="0.22" letter-spacing="-0.35">***</text>
<path d="M246.5 312.3V309.5H253.5V312.3" stroke="#1a1a1a" stroke-width="1" fill="none" />
<text x="249.7" y="310" font-size="10" text-anchor="middle" fill="#231f20" stroke="#231f20" stroke-width="0.22" letter-spacing="-0.35">****</text>
<path d="M260.5 308.3V305.5H268.5V308.3" stroke="#1a1a1a" stroke-width="1" fill="none" />
<text x="264.3" y="306.6" font-size="10" text-anchor="middle" fill="#231f20" stroke="#231f20" stroke-width="0.22" letter-spacing="-0.35">***</text>
<text x="296" y="212.6" font-size="9.5" text-anchor="start" fill="#231f20" stroke="#231f20" stroke-width="0.22" font-weight="bold" font-family="Liberation Serif">e</text>
<text x="404.8" y="221.3" font-size="9.5" text-anchor="middle" fill="#231f20" stroke="#231f20" stroke-width="0.22" >ds<tspan font-style="italic">GFP</tspan></text>
<text x="494.3" y="221.3" font-size="9.5" text-anchor="middle" fill="#231f20" stroke="#231f20" stroke-width="0.22" >ds<tspan font-style="italic">desat1</tspan></text>
<text x="346.6" y="279" font-size="9.5" text-anchor="end" fill="#231f20" stroke="#231f20" stroke-width="0.22" >TUNEL</text>
<text x="346.6" y="366.9" font-size="9.5" text-anchor="end" fill="#231f20" stroke="#231f20" stroke-width="0.22" >DAPI</text>
<text x="346.8" y="455" font-size="9.5" text-anchor="end" fill="#231f20" stroke="#231f20" stroke-width="0.22" >Merge</text>
<rect x="360.2" y="229.6" width="86.3" height="86.2" fill="#000" stroke="none" stroke-width="1" />
<rect x="454.1" y="229.6" width="87" height="86.2" fill="#000" stroke="none" stroke-width="1" />
<use href="#tunelB" transform="translate(454.1,229.6) scale(1.0000,1.0023)"/>
<use href="#dapiA" transform="translate(360.2,321.2) scale(0.9920,0.9884)"/>
<use href="#dapiB" transform="translate(454.1,321.2) scale(1.0000,0.9884)"/>
<use href="#dapiA" transform="translate(360.2,413.0) scale(0.9920,0.9930)"/>
<use href="#dapiB" transform="translate(454.1,413.0) scale(1.0000,0.9930)"/>
<use href="#tunelB" transform="translate(454.1,413.0) scale(1.0000,0.9930)"/>
<line x1="433.7" y1="311.1" x2="444.2" y2="311.1" stroke="#d8d8d8" stroke-width="0.8" />
<line x1="433.7" y1="402.7" x2="444.2" y2="402.7" stroke="#d8d8d8" stroke-width="0.8" />
<line x1="433.7" y1="494.5" x2="444.2" y2="494.5" stroke="#d8d8d8" stroke-width="0.8" />
<line x1="527.6" y1="311.1" x2="538.1" y2="311.1" stroke="#d8d8d8" stroke-width="0.8" />
<line x1="527.6" y1="402.7" x2="538.1" y2="402.7" stroke="#d8d8d8" stroke-width="0.8" />
<line x1="527.6" y1="494.5" x2="538.1" y2="494.5" stroke="#d8d8d8" stroke-width="0.8" />
<line x1="591.5" y1="288" x2="591.5" y2="389" stroke="#8a8a8a" stroke-width="1.2" />
<line x1="590.5" y1="388.5" x2="681.5" y2="388.5" stroke="#8a8a8a" stroke-width="1.2" />
<line x1="587.7" y1="388.5" x2="591" y2="388.5" stroke="#8a8a8a" stroke-width="1.2" />
<text x="587.1" y="391.6" font-size="9.5" text-anchor="end" fill="#231f20" stroke="#231f20" stroke-width="0.22" >0</text>
<line x1="587.7" y1="363.5" x2="591" y2="363.5" stroke="#8a8a8a" stroke-width="1.2" />
<text x="587.1" y="366.6" font-size="9.5" text-anchor="end" fill="#231f20" stroke="#231f20" stroke-width="0.22" >10</text>
<line x1="587.7" y1="338.5" x2="591" y2="338.5" stroke="#8a8a8a" stroke-width="1.2" />
<text x="587.1" y="341.6" font-size="9.5" text-anchor="end" fill="#231f20" stroke="#231f20" stroke-width="0.22" >20</text>
<line x1="587.7" y1="313.5" x2="591" y2="313.5" stroke="#8a8a8a" stroke-width="1.2" />
<text x="587.1" y="316.6" font-size="9.5" text-anchor="end" fill="#231f20" stroke="#231f20" stroke-width="0.22" >30</text>
<line x1="587.7" y1="288.5" x2="591" y2="288.5" stroke="#8a8a8a" stroke-width="1.2" />
<text x="587.1" y="291.6" font-size="9.5" text-anchor="end" fill="#231f20" stroke="#231f20" stroke-width="0.22" >40</text>
<text transform="translate(571.8,335.8) rotate(-90)" font-size="9.5" text-anchor="middle" fill="#231f20" stroke="#231f20" stroke-width="0.22" >TUNEL positive cells/DAPI cells</text>
<line x1="613.5" y1="388.5" x2="613.5" y2="391.5" stroke="#8a8a8a" stroke-width="1.2" />
<line x1="658.5" y1="388.5" x2="658.5" y2="391.5" stroke="#8a8a8a" stroke-width="1.2" />
<circle cx="601" cy="388.3" r="1.9" fill="#111"/>
<circle cx="603.1" cy="388.3" r="1.9" fill="#111"/>
<circle cx="605.2" cy="388.3" r="1.9" fill="#111"/>
<circle cx="607.3" cy="388.3" r="1.9" fill="#111"/>
<circle cx="609.4" cy="388.3" r="1.9" fill="#111"/>
<circle cx="611.5" cy="388.3" r="1.9" fill="#111"/>
<circle cx="613.6" cy="388.3" r="1.9" fill="#111"/>
<circle cx="615.7" cy="388.3" r="1.9" fill="#111"/>
<circle cx="617.8" cy="388.3" r="1.9" fill="#111"/>
<circle cx="619.9" cy="388.3" r="1.9" fill="#111"/>
<circle cx="622" cy="388.3" r="1.9" fill="#111"/>
<circle cx="624.1" cy="388.3" r="1.9" fill="#111"/>
<circle cx="626.2" cy="388.3" r="1.9" fill="#111"/>
<rect x="656.9" y="305.5" width="3.8" height="3.8" fill="#d9411e" stroke="none" stroke-width="1" />
<rect x="656.9" y="348.8" width="3.8" height="3.8" fill="#d9411e" stroke="none" stroke-width="1" />
<rect x="648.7" y="364.2" width="3.8" height="3.8" fill="#d9411e" stroke="none" stroke-width="1" />
<rect x="665.2" y="363.2" width="3.8" height="3.8" fill="#d9411e" stroke="none" stroke-width="1" />
<rect x="654.1" y="368.3" width="3.8" height="3.8" fill="#d9411e" stroke="none" stroke-width="1" />
<rect x="658.6" y="367.6" width="3.8" height="3.8" fill="#d9411e" stroke="none" stroke-width="1" />
<rect x="648.7" y="374.8" width="3.8" height="3.8" fill="#d9411e" stroke="none" stroke-width="1" />
<rect x="662.7" y="371.9" width="3.8" height="3.8" fill="#d9411e" stroke="none" stroke-width="1" />
<rect x="657" y="377.1" width="3.8" height="3.8" fill="#d9411e" stroke="none" stroke-width="1" />
<rect x="652" y="379.1" width="3.8" height="3.8" fill="#d9411e" stroke="none" stroke-width="1" />
<rect x="662.7" y="379.5" width="3.8" height="3.8" fill="#d9411e" stroke="none" stroke-width="1" />
<rect x="656.9" y="384.6" width="3.8" height="3.8" fill="#d9411e" stroke="none" stroke-width="1" />
<line x1="644.1" y1="367.5" x2="673.8" y2="367.5" stroke="#d9411e" stroke-width="1" />
<line x1="658.8" y1="361.4" x2="658.8" y2="373.2" stroke="#d9411e" stroke-width="1" />
<line x1="651.3" y1="361.4" x2="666.3" y2="361.4" stroke="#d9411e" stroke-width="1" />
<line x1="651.3" y1="373.2" x2="666.3" y2="373.2" stroke="#d9411e" stroke-width="1" />
<path d="M615.5 301V298.5H658.5V301" stroke="#484848" stroke-width="1" fill="none" />
<text x="636.9" y="296.8" font-size="8.5" text-anchor="middle" fill="#231f20" stroke="#231f20" stroke-width="0.22" letter-spacing="-0.35">****</text>
<text x="611.9" y="401.3" font-size="9.5" text-anchor="middle" fill="#231f20" stroke="#231f20" stroke-width="0.22" >ds<tspan font-style="italic">GFP</tspan></text>
<text x="658.7" y="401.3" font-size="9.5" text-anchor="middle" fill="#231f20" stroke="#231f20" stroke-width="0.22" >ds<tspan font-style="italic">desat1</tspan></text>
<text x="2" y="398.6" font-size="9.5" text-anchor="start" fill="#231f20" stroke="#231f20" stroke-width="0.22" font-weight="bold">f</text>
<text x="80.5" y="407" font-size="9.5" text-anchor="middle" fill="#231f20" stroke="#231f20" stroke-width="0.22" textLength="65.5" lengthAdjust="spacingAndGlyphs">CASPS7 activity</text>
<line x1="39.5" y1="423.7" x2="39.5" y2="515.1" stroke="#7a7a7a" stroke-width="1.2" />
<line x1="39.3" y1="514.5" x2="123.2" y2="514.5" stroke="#7a7a7a" stroke-width="1.2" />
<line x1="36.5" y1="514.5" x2="39.8" y2="514.5" stroke="#7a7a7a" stroke-width="1.2" />
<text x="34.2" y="518" font-size="9.5" text-anchor="end" fill="#231f20" stroke="#231f20" stroke-width="0.22" >0</text>
<line x1="36.5" y1="492.5" x2="39.8" y2="492.5" stroke="#7a7a7a" stroke-width="1.2" />
<text x="34.2" y="495.4" font-size="9.5" text-anchor="end" fill="#231f20" stroke="#231f20" stroke-width="0.22" >2</text>
<line x1="36.5" y1="469.5" x2="39.8" y2="469.5" stroke="#7a7a7a" stroke-width="1.2" />
<text x="34.2" y="472.8" font-size="9.5" text-anchor="end" fill="#231f20" stroke="#231f20" stroke-width="0.22" >4</text>
<line x1="36.5" y1="446.5" x2="39.8" y2="446.5" stroke="#7a7a7a" stroke-width="1.2" />
<text x="34.2" y="450.2" font-size="9.5" text-anchor="end" fill="#231f20" stroke="#231f20" stroke-width="0.22" >6</text>
<line x1="36.5" y1="424.5" x2="39.8" y2="424.5" stroke="#7a7a7a" stroke-width="1.2" />
<text x="34.2" y="427.6" font-size="9.5" text-anchor="end" fill="#231f20" stroke="#231f20" stroke-width="0.22" >8</text>
<text transform="translate(19.8,468.6) rotate(-90)" font-size="9.5" text-anchor="middle" fill="#231f20" stroke="#231f20" stroke-width="0.22" >Relative caspase activity</text>
<line x1="60.5" y1="514.6" x2="60.5" y2="517.6" stroke="#7a7a7a" stroke-width="1.2" />
<line x1="101.5" y1="514.6" x2="101.5" y2="517.6" stroke="#7a7a7a" stroke-width="1.2" />
<rect x="49.5" y="503.5" width="22" height="11" fill="#fff" stroke="#666" stroke-width="1" />
<rect x="91.5" y="442.5" width="21" height="72" fill="#fff" stroke="#d9411e" stroke-width="1" />
<line x1="60.6" y1="500.4" x2="60.6" y2="506.7" stroke="#111" stroke-width="1" />
<line x1="54.6" y1="500.4" x2="66.6" y2="500.4" stroke="#111" stroke-width="1" />
<line x1="54.6" y1="506.7" x2="66.6" y2="506.7" stroke="#111" stroke-width="1" />
<circle cx="60.3" cy="496" r="2.1" fill="#111"/>
<circle cx="60.3" cy="510" r="2.1" fill="#111"/>
<circle cx="57.6" cy="504.2" r="2.1" fill="#111"/>
<circle cx="62.8" cy="504.2" r="2.1" fill="#111"/>
<rect x="95.2" y="439.3" width="3.6" height="3.6" fill="#d9411e" stroke="none" stroke-width="1" />
<rect x="99.8" y="442" width="3.6" height="3.6" fill="#d9411e" stroke="none" stroke-width="1" />
<rect x="104.8" y="440.6" width="3.6" height="3.6" fill="#d9411e" stroke="none" stroke-width="1" />
<path d="M63.5 434V431.5H102.5V434" stroke="#484848" stroke-width="1" fill="none" />
<text x="82.5" y="430.4" font-size="8.5" text-anchor="middle" fill="#231f20" stroke="#231f20" stroke-width="0.22" letter-spacing="-0.35">****</text>
<text x="58.7" y="528.5" font-size="9.5" text-anchor="middle" fill="#231f20" stroke="#231f20" stroke-width="0.22" >ds<tspan font-style="italic">GFP</tspan></text>
<text x="102.7" y="528.5" font-size="9.5" text-anchor="middle" fill="#231f20" stroke="#231f20" stroke-width="0.22" >ds<tspan font-style="italic">desat1</tspan></text>
<text x="141.8" y="398.2" font-size="9.5" text-anchor="start" fill="#231f20" stroke="#231f20" stroke-width="0.22" font-weight="bold">g</text>
<text x="217.1" y="407" font-size="9.5" text-anchor="middle" fill="#231f20" stroke="#231f20" stroke-width="0.22" textLength="65.5" lengthAdjust="spacingAndGlyphs">CASPL2 activity</text>
<line x1="174.5" y1="424.1" x2="174.5" y2="515.7" stroke="#7a7a7a" stroke-width="1.2" />
<line x1="174.4" y1="515.5" x2="257.5" y2="515.5" stroke="#7a7a7a" stroke-width="1.2" />
<line x1="171.6" y1="515.5" x2="174.9" y2="515.5" stroke="#7a7a7a" stroke-width="1.2" />
<text x="170.2" y="518.6" font-size="9.5" text-anchor="end" fill="#231f20" stroke="#231f20" stroke-width="0.22" >0</text>
<line x1="171.6" y1="485.5" x2="174.9" y2="485.5" stroke="#7a7a7a" stroke-width="1.2" />
<text x="170.2" y="488.4" font-size="9.5" text-anchor="end" fill="#231f20" stroke="#231f20" stroke-width="0.22" >1</text>
<line x1="171.6" y1="454.5" x2="174.9" y2="454.5" stroke="#7a7a7a" stroke-width="1.2" />
<text x="170.2" y="458.2" font-size="9.5" text-anchor="end" fill="#231f20" stroke="#231f20" stroke-width="0.22" >2</text>
<line x1="171.6" y1="424.5" x2="174.9" y2="424.5" stroke="#7a7a7a" stroke-width="1.2" />
<text x="170.2" y="428" font-size="9.5" text-anchor="end" fill="#231f20" stroke="#231f20" stroke-width="0.22" >3</text>
<text transform="translate(158.5,468.6) rotate(-90)" font-size="9.5" text-anchor="middle" fill="#231f20" stroke="#231f20" stroke-width="0.22" >Relative caspase activity</text>
<line x1="194.5" y1="515.2" x2="194.5" y2="518.2" stroke="#7a7a7a" stroke-width="1.2" />
<line x1="238.5" y1="515.2" x2="238.5" y2="518.2" stroke="#7a7a7a" stroke-width="1.2" />
<rect x="185.5" y="496.5" width="19" height="19" fill="#fff" stroke="#666" stroke-width="1" />
<rect x="228.5" y="458.5" width="19" height="57" fill="#fff" stroke="#d9411e" stroke-width="1" />
<line x1="194.8" y1="492.3" x2="194.8" y2="500.2" stroke="#111" stroke-width="1" />
<line x1="190.8" y1="492.3" x2="198.8" y2="492.3" stroke="#111" stroke-width="1" />
<line x1="190.8" y1="500.2" x2="198.8" y2="500.2" stroke="#111" stroke-width="1" />
<circle cx="194.6" cy="489.1" r="1.8" fill="#111"/>
<circle cx="194.6" cy="496.1" r="1.8" fill="#111"/>
<circle cx="194.6" cy="502.9" r="1.8" fill="#111"/>
<line x1="238.2" y1="451.6" x2="238.2" y2="465.4" stroke="#d9411e" stroke-width="1" />
<line x1="233.8" y1="451.6" x2="242.6" y2="451.6" stroke="#d9411e" stroke-width="1" />
<line x1="233.8" y1="465.4" x2="242.6" y2="465.4" stroke="#d9411e" stroke-width="1" />
<rect x="236.1" y="442.2" width="3.4" height="3.4" fill="#d9411e" stroke="none" stroke-width="1" />
<rect x="236.1" y="449.6" width="3.4" height="3.4" fill="#d9411e" stroke="none" stroke-width="1" />
<rect x="238.9" y="464.8" width="3.4" height="3.4" fill="#d9411e" stroke="none" stroke-width="1" />
<rect x="234.2" y="469.5" width="3.4" height="3.4" fill="#d9411e" stroke="none" stroke-width="1" />
<path d="M198.5 436V433.5H237.5V436" stroke="#484848" stroke-width="1" fill="none" />
<text x="218" y="431.2" font-size="8.5" text-anchor="middle" fill="#231f20" stroke="#231f20" stroke-width="0.22" letter-spacing="-0.35">**</text>
<text x="194.5" y="528.5" font-size="9.5" text-anchor="middle" fill="#231f20" stroke="#231f20" stroke-width="0.22" >ds<tspan font-style="italic">GFP</tspan></text>
<text x="238.1" y="528.5" font-size="9.5" text-anchor="middle" fill="#231f20" stroke="#231f20" stroke-width="0.22" >ds<tspan font-style="italic">desat1</tspan></text>
<text x="0" y="550.4" font-size="9.5" text-anchor="start" fill="#231f20" stroke="#231f20" stroke-width="0.22" font-weight="bold">h</text>
<line x1="47.5" y1="563.8" x2="47.5" y2="679.8" stroke="#333" stroke-width="1" />
<line x1="46.9" y1="679.5" x2="208" y2="679.5" stroke="#333" stroke-width="1" />
<line x1="44.1" y1="679.5" x2="47.4" y2="679.5" stroke="#333" stroke-width="1" />
<text x="41.6" y="682.7" font-size="9.5" text-anchor="end" fill="#231f20" stroke="#231f20" stroke-width="0.22" >0</text>
<line x1="44.1" y1="656.5" x2="47.4" y2="656.5" stroke="#333" stroke-width="1" />
<text x="41.6" y="659.7" font-size="9.5" text-anchor="end" fill="#231f20" stroke="#231f20" stroke-width="0.22" >20</text>
<line x1="44.1" y1="633.5" x2="47.4" y2="633.5" stroke="#333" stroke-width="1" />
<text x="41.6" y="636.7" font-size="9.5" text-anchor="end" fill="#231f20" stroke="#231f20" stroke-width="0.22" >40</text>
<line x1="44.1" y1="610.5" x2="47.4" y2="610.5" stroke="#333" stroke-width="1" />
<text x="41.6" y="613.7" font-size="9.5" text-anchor="end" fill="#231f20" stroke="#231f20" stroke-width="0.22" >60</text>
<line x1="44.1" y1="587.5" x2="47.4" y2="587.5" stroke="#333" stroke-width="1" />
<text x="41.6" y="590.7" font-size="9.5" text-anchor="end" fill="#231f20" stroke="#231f20" stroke-width="0.22" >80</text>
<line x1="44.1" y1="564.5" x2="47.4" y2="564.5" stroke="#333" stroke-width="1" />
<text x="41.6" y="567.7" font-size="9.5" text-anchor="end" fill="#231f20" stroke="#231f20" stroke-width="0.22" >100</text>
<line x1="47.5" y1="679.3" x2="47.5" y2="682.6" stroke="#333" stroke-width="1" />
<text x="47.4" y="694.8" font-size="9.5" text-anchor="middle" fill="#231f20" stroke="#231f20" stroke-width="0.22" >0</text>
<line x1="79.5" y1="679.3" x2="79.5" y2="682.6" stroke="#333" stroke-width="1" />
<text x="79.44" y="694.8" font-size="9.5" text-anchor="middle" fill="#231f20" stroke="#231f20" stroke-width="0.22" >12</text>
<line x1="111.5" y1="679.3" x2="111.5" y2="682.6" stroke="#333" stroke-width="1" />
<text x="111.48" y="694.8" font-size="9.5" text-anchor="middle" fill="#231f20" stroke="#231f20" stroke-width="0.22" >24</text>
<line x1="143.5" y1="679.3" x2="143.5" y2="682.6" stroke="#333" stroke-width="1" />
<text x="143.52" y="694.8" font-size="9.5" text-anchor="middle" fill="#231f20" stroke="#231f20" stroke-width="0.22" >36</text>
<line x1="175.5" y1="679.3" x2="175.5" y2="682.6" stroke="#333" stroke-width="1" />
<text x="175.56" y="694.8" font-size="9.5" text-anchor="middle" fill="#231f20" stroke="#231f20" stroke-width="0.22" >48</text>
<line x1="207.5" y1="679.3" x2="207.5" y2="682.6" stroke="#333" stroke-width="1" />
<text x="207.6" y="694.8" font-size="9.5" text-anchor="middle" fill="#231f20" stroke="#231f20" stroke-width="0.22" >60</text>
<text x="123.5" y="709.3" font-size="9.5" text-anchor="middle" fill="#231f20" stroke="#231f20" stroke-width="0.22" textLength="82.6" lengthAdjust="spacingAndGlyphs">Hours post bool meal</text>
<text transform="translate(23.4,629.85) rotate(-90)" font-size="9.5" text-anchor="middle" fill="#231f20" stroke="#231f20" stroke-width="0.22" textLength="74.5" lengthAdjust="spacingAndGlyphs">Percent survival</text>
<path d="M47.40 564.30 L79.44 565.45 L111.48 567.40 L143.52 569.13 L175.56 570.39 L207.60 574.07" stroke="#f7921e" stroke-width="1.4" fill="none" stroke-dasharray="3.2 2.2"/>
<line x1="79.44" y1="563.85" x2="79.44" y2="565.65" stroke="#f7921e" stroke-width="0.9" />
<line x1="111.48" y1="565.8" x2="111.48" y2="567.61" stroke="#f7921e" stroke-width="0.9" />
<line x1="143.52" y1="567.53" x2="143.52" y2="569.33" stroke="#f7921e" stroke-width="0.9" />
<line x1="175.56" y1="568.79" x2="175.56" y2="570.6" stroke="#f7921e" stroke-width="0.9" />
<line x1="207.6" y1="572.47" x2="207.6" y2="574.27" stroke="#f7921e" stroke-width="0.9" />
<path d="M47.40 564.30 L79.44 564.30 L111.48 564.30 L143.52 564.30 L175.56 564.30 L207.60 564.30" stroke="#1a1a1a" stroke-width="1.4" fill="none" stroke-dasharray="3.2 2.2"/>
<line x1="79.44" y1="562.7" x2="79.44" y2="564.5" stroke="#1a1a1a" stroke-width="0.9" />
<line x1="111.48" y1="562.7" x2="111.48" y2="564.5" stroke="#1a1a1a" stroke-width="0.9" />
<line x1="143.52" y1="562.7" x2="143.52" y2="564.5" stroke="#1a1a1a" stroke-width="0.9" />
<line x1="175.56" y1="562.7" x2="175.56" y2="564.5" stroke="#1a1a1a" stroke-width="0.9" />
<line x1="207.6" y1="562.7" x2="207.6" y2="564.5" stroke="#1a1a1a" stroke-width="0.9" />
<path d="M47.40 564.30 L79.44 601.21 L111.48 617.77 L143.52 628.70 L175.56 631.80 L207.60 641.81" stroke="#8b62b0" stroke-width="1.6" fill="none" stroke-linejoin="round"/>
<line x1="79.44" y1="599.61" x2="79.44" y2="601.41" stroke="#8b62b0" stroke-width="0.9" />
<line x1="111.48" y1="616.17" x2="111.48" y2="617.98" stroke="#8b62b0" stroke-width="0.9" />
<line x1="143.52" y1="627.1" x2="143.52" y2="628.9" stroke="#8b62b0" stroke-width="0.9" />
<line x1="175.56" y1="630.2" x2="175.56" y2="632" stroke="#8b62b0" stroke-width="0.9" />
<line x1="207.6" y1="640.21" x2="207.6" y2="642.01" stroke="#8b62b0" stroke-width="0.9" />
<path d="M47.40 564.30 L79.44 605.24 L111.48 625.59 L143.52 633.53 L175.56 644.11 L207.60 654.12" stroke="#2b79b8" stroke-width="1.6" fill="none" stroke-linejoin="round"/>
<line x1="79.44" y1="603.64" x2="79.44" y2="605.44" stroke="#2b79b8" stroke-width="0.9" />
<line x1="111.48" y1="623.99" x2="111.48" y2="625.79" stroke="#2b79b8" stroke-width="0.9" />
<line x1="143.52" y1="631.93" x2="143.52" y2="633.73" stroke="#2b79b8" stroke-width="0.9" />
<line x1="175.56" y1="642.51" x2="175.56" y2="644.31" stroke="#2b79b8" stroke-width="0.9" />
<line x1="207.6" y1="652.51" x2="207.6" y2="654.32" stroke="#2b79b8" stroke-width="0.9" />
<path d="M47.40 564.30 L79.44 626.40 L111.48 638.70 L143.52 643.53 L175.56 655.26 L207.60 665.84" stroke="#f7921e" stroke-width="1.6" fill="none" stroke-linejoin="round"/>
<line x1="79.44" y1="624.8" x2="79.44" y2="626.6" stroke="#f7921e" stroke-width="0.9" />
<line x1="111.48" y1="637.1" x2="111.48" y2="638.9" stroke="#f7921e" stroke-width="0.9" />
<line x1="143.52" y1="641.93" x2="143.52" y2="643.74" stroke="#f7921e" stroke-width="0.9" />
<line x1="175.56" y1="653.66" x2="175.56" y2="655.47" stroke="#f7921e" stroke-width="0.9" />
<line x1="207.6" y1="664.24" x2="207.6" y2="666.04" stroke="#f7921e" stroke-width="0.9" />
<path d="M47.40 564.30 L79.44 611.68 L111.48 627.78 L143.52 639.74 L175.56 655.61 L207.60 662.85" stroke="#e8131d" stroke-width="1.6" fill="none" stroke-linejoin="round"/>
<line x1="79.44" y1="610.08" x2="79.44" y2="611.88" stroke="#e8131d" stroke-width="0.9" />
<line x1="111.48" y1="626.18" x2="111.48" y2="627.98" stroke="#e8131d" stroke-width="0.9" />
<line x1="143.52" y1="638.14" x2="143.52" y2="639.94" stroke="#e8131d" stroke-width="0.9" />
<line x1="175.56" y1="654.01" x2="175.56" y2="655.81" stroke="#e8131d" stroke-width="0.9" />
<line x1="207.6" y1="661.25" x2="207.6" y2="663.05" stroke="#e8131d" stroke-width="0.9" />
<path d="M47.40 564.30 L79.44 633.30 L111.48 661.47 L143.52 673.32 L175.56 673.32 L207.60 673.32" stroke="#1a1a1a" stroke-width="1.6" fill="none" stroke-linejoin="round"/>
<line x1="79.44" y1="631.7" x2="79.44" y2="633.5" stroke="#1a1a1a" stroke-width="0.9" />
<line x1="111.48" y1="659.87" x2="111.48" y2="661.67" stroke="#1a1a1a" stroke-width="0.9" />
<line x1="143.52" y1="671.72" x2="143.52" y2="673.52" stroke="#1a1a1a" stroke-width="0.9" />
<line x1="175.56" y1="671.72" x2="175.56" y2="673.52" stroke="#1a1a1a" stroke-width="0.9" />
<line x1="207.6" y1="671.72" x2="207.6" y2="673.52" stroke="#1a1a1a" stroke-width="0.9" />
<path d="M210.2 662.7H212.4V673.6H210.2" stroke="#1a1a1a" stroke-width="0.9" fill="none" />
<text x="215.2" y="670.6" font-size="7.5" text-anchor="middle" fill="#231f20" stroke="#231f20" stroke-width="0.22" >*</text>
<path d="M216.7 654.5H218.9V673.6H216.7" stroke="#1a1a1a" stroke-width="0.9" fill="none" />
<text x="222.2" y="667" font-size="7.5" text-anchor="middle" fill="#231f20" stroke="#231f20" stroke-width="0.22" >*</text>
<path d="M225.1 640.8H227.3V673.6H225.1" stroke="#1a1a1a" stroke-width="0.9" fill="none" />
<text transform="translate(228.6,657.4) rotate(90)" font-size="7.5" text-anchor="middle" fill="#231f20" stroke="#231f20" stroke-width="0.22" letter-spacing="-0.3">**</text>
<line x1="240.6" y1="559.3" x2="253.6" y2="559.3" stroke="#1a1a1a" stroke-width="1.3" stroke-dasharray="1.2 4.3"/>
<path d="M245.4 559.9L247.1 556.7L248.8 559.9Z" stroke="none" stroke-width="1" fill="#1a1a1a" />
<text x="257.4" y="562.5" font-size="9.5" text-anchor="start" fill="#1a1a1a" stroke="#1a1a1a" stroke-width="0.22" >ds<tspan font-style="italic">GFP</tspan></text>
<line x1="240.6" y1="571.3" x2="253.6" y2="571.3" stroke="#1a1a1a" stroke-width="1.4" />
<line x1="247.1" y1="569.5" x2="247.1" y2="571.3" stroke="#1a1a1a" stroke-width="0.9" />
<text x="257.4" y="574.5" font-size="9.5" text-anchor="start" fill="#1a1a1a" stroke="#1a1a1a" stroke-width="0.22" >ds<tspan font-style="italic">desat1</tspan></text>
<line x1="300.8" y1="555.9" x2="300.8" y2="575.1" stroke="#5a5a5a" stroke-width="1.2" />
<text x="304.4" y="569.3" font-size="9.5" text-anchor="start" fill="#231f20" stroke="#231f20" stroke-width="0.22" textLength="74.6" lengthAdjust="spacingAndGlyphs">5% Sucrose control</text>
<line x1="240.6" y1="585.5" x2="253.6" y2="585.5" stroke="#e8131d" stroke-width="1.3" stroke-dasharray="1.2 4.3"/>
<path d="M245.4 586.1L247.1 582.9L248.8 586.1Z" stroke="none" stroke-width="1" fill="#e8131d" />
<text x="257.4" y="588.7" font-size="9.5" text-anchor="start" fill="#e8131d" stroke="#e8131d" stroke-width="0.22" >ds<tspan font-style="italic">GFP</tspan></text>
<line x1="240.6" y1="597.5" x2="253.6" y2="597.5" stroke="#e8131d" stroke-width="1.4" />
<line x1="247.1" y1="595.7" x2="247.1" y2="597.5" stroke="#e8131d" stroke-width="0.9" />
<text x="257.4" y="600.7" font-size="9.5" text-anchor="start" fill="#e8131d" stroke="#e8131d" stroke-width="0.22" >ds<tspan font-style="italic">desat1</tspan></text>
<line x1="300.8" y1="582.1" x2="300.8" y2="601.3" stroke="#5a5a5a" stroke-width="1.2" />
<text x="304.4" y="595.5" font-size="9.5" text-anchor="start" fill="#231f20" stroke="#231f20" stroke-width="0.22" textLength="103.4" lengthAdjust="spacingAndGlyphs">5% Sucrose+100 μM C16:1</text>
<line x1="240.6" y1="611.4" x2="253.6" y2="611.4" stroke="#f7921e" stroke-width="1.3" stroke-dasharray="1.2 4.3"/>
<path d="M245.4 612.0L247.1 608.8L248.8 612.0Z" stroke="none" stroke-width="1" fill="#f7921e" />
<text x="257.4" y="614.6" font-size="9.5" text-anchor="start" fill="#f7921e" stroke="#f7921e" stroke-width="0.22" >ds<tspan font-style="italic">GFP</tspan></text>
<line x1="240.6" y1="623.4" x2="253.6" y2="623.4" stroke="#f7921e" stroke-width="1.4" />
<line x1="247.1" y1="621.6" x2="247.1" y2="623.4" stroke="#f7921e" stroke-width="0.9" />
<text x="257.4" y="626.6" font-size="9.5" text-anchor="start" fill="#f7921e" stroke="#f7921e" stroke-width="0.22" >ds<tspan font-style="italic">desat1</tspan></text>
<line x1="300.8" y1="608" x2="300.8" y2="627.2" stroke="#5a5a5a" stroke-width="1.2" />
<text x="304.4" y="621.4" font-size="9.5" text-anchor="start" fill="#231f20" stroke="#231f20" stroke-width="0.22" textLength="103.4" lengthAdjust="spacingAndGlyphs">5% Sucrose+200 μM C16:1</text>
<line x1="240.6" y1="638" x2="253.6" y2="638" stroke="#2b79b8" stroke-width="1.3" stroke-dasharray="1.2 4.3"/>
<path d="M245.4 638.6L247.1 635.4L248.8 638.6Z" stroke="none" stroke-width="1" fill="#2b79b8" />
<text x="257.4" y="641.2" font-size="9.5" text-anchor="start" fill="#2b79b8" stroke="#2b79b8" stroke-width="0.22" >ds<tspan font-style="italic">GFP</tspan></text>
<line x1="240.6" y1="650" x2="253.6" y2="650" stroke="#2b79b8" stroke-width="1.4" />
<line x1="247.1" y1="648.2" x2="247.1" y2="650" stroke="#2b79b8" stroke-width="0.9" />
<text x="257.4" y="653.2" font-size="9.5" text-anchor="start" fill="#2b79b8" stroke="#2b79b8" stroke-width="0.22" >ds<tspan font-style="italic">desat1</tspan></text>
<line x1="300.8" y1="634.6" x2="300.8" y2="653.8" stroke="#5a5a5a" stroke-width="1.2" />
<text x="304.4" y="648" font-size="9.5" text-anchor="start" fill="#231f20" stroke="#231f20" stroke-width="0.22" textLength="103.4" lengthAdjust="spacingAndGlyphs">5% Sucrose+100 μM C18:1</text>
<line x1="240.6" y1="664.2" x2="253.6" y2="664.2" stroke="#8b62b0" stroke-width="1.3" stroke-dasharray="1.2 4.3"/>
<path d="M245.4 664.8L247.1 661.6L248.8 664.8Z" stroke="none" stroke-width="1" fill="#8b62b0" />
<text x="257.4" y="667.4" font-size="9.5" text-anchor="start" fill="#8b62b0" stroke="#8b62b0" stroke-width="0.22" >ds<tspan font-style="italic">GFP</tspan></text>
<line x1="240.6" y1="676.2" x2="253.6" y2="676.2" stroke="#8b62b0" stroke-width="1.4" />
<line x1="247.1" y1="674.4" x2="247.1" y2="676.2" stroke="#8b62b0" stroke-width="0.9" />
<text x="257.4" y="679.4" font-size="9.5" text-anchor="start" fill="#8b62b0" stroke="#8b62b0" stroke-width="0.22" >ds<tspan font-style="italic">desat1</tspan></text>
<line x1="300.8" y1="660.8" x2="300.8" y2="680" stroke="#5a5a5a" stroke-width="1.2" />
<text x="304.4" y="674.2" font-size="9.5" text-anchor="start" fill="#231f20" stroke="#231f20" stroke-width="0.22" textLength="103.4" lengthAdjust="spacingAndGlyphs">5% Sucrose+200 μM C18:1</text>
<text x="421" y="527.9" font-size="9.5" text-anchor="start" fill="#231f20" stroke="#231f20" stroke-width="0.22" font-weight="bold">i</text>
<line x1="458.5" y1="549.2" x2="458.5" y2="644.4" stroke="#444" stroke-width="1" />
<line x1="458.2" y1="643.5" x2="538" y2="643.5" stroke="#444" stroke-width="1" />
<line x1="455.4" y1="643.5" x2="458.7" y2="643.5" stroke="#444" stroke-width="1" />
<text x="454.6" y="647.3" font-size="9.5" text-anchor="end" fill="#231f20" stroke="#231f20" stroke-width="0.22" >0</text>
<line x1="455.4" y1="625.5" x2="458.7" y2="625.5" stroke="#444" stroke-width="1" />
<text x="454.6" y="628.5" font-size="9.5" text-anchor="end" fill="#231f20" stroke="#231f20" stroke-width="0.22" >20</text>
<line x1="455.4" y1="606.5" x2="458.7" y2="606.5" stroke="#444" stroke-width="1" />
<text x="454.6" y="609.7" font-size="9.5" text-anchor="end" fill="#231f20" stroke="#231f20" stroke-width="0.22" >40</text>
<line x1="455.4" y1="587.5" x2="458.7" y2="587.5" stroke="#444" stroke-width="1" />
<text x="454.6" y="590.9" font-size="9.5" text-anchor="end" fill="#231f20" stroke="#231f20" stroke-width="0.22" >60</text>
<line x1="455.4" y1="568.5" x2="458.7" y2="568.5" stroke="#444" stroke-width="1" />
<text x="454.6" y="572.1" font-size="9.5" text-anchor="end" fill="#231f20" stroke="#231f20" stroke-width="0.22" >80</text>
<line x1="455.4" y1="549.5" x2="458.7" y2="549.5" stroke="#444" stroke-width="1" />
<text x="454.6" y="553.3" font-size="9.5" text-anchor="end" fill="#231f20" stroke="#231f20" stroke-width="0.22" >100</text>
<text transform="translate(435.8,597.3) rotate(-90)" font-size="9.5" text-anchor="middle" fill="#231f20" stroke="#231f20" stroke-width="0.22" textLength="100" lengthAdjust="spacingAndGlyphs">H₂O₂ (pmol/mosquito)</text>
<rect x="464.5" y="564.5" width="18" height="79" fill="#a0a0a0" stroke="#2a2a2a" stroke-width="1" />
<line x1="473.5" y1="643.9" x2="473.5" y2="646.9" stroke="#444" stroke-width="1" />
<line x1="470.2" y1="563.3" x2="476.2" y2="563.3" stroke="#111" stroke-width="0.9" />
<circle cx="470.6" cy="564.3" r="1.25" fill="#111"/>
<circle cx="473.2" cy="563.5" r="1.25" fill="#111"/>
<circle cx="475.8" cy="564.1" r="1.25" fill="#111"/>
<text transform="translate(485.4,656.1) rotate(-45)" font-size="9.5" text-anchor="end" fill="#231f20" stroke="#231f20" stroke-width="0.22" >ds<tspan font-style="italic">desat1</tspan>+control</text>
<rect x="489.5" y="583.5" width="18" height="60" fill="#d13a18" stroke="#2a2a2a" stroke-width="1" />
<line x1="498.5" y1="643.9" x2="498.5" y2="646.9" stroke="#444" stroke-width="1" />
<line x1="495.85" y1="582.7" x2="501.85" y2="582.7" stroke="#111" stroke-width="0.9" />
<circle cx="496.25" cy="583.7" r="1.25" fill="#111"/>
<circle cx="498.85" cy="582.9" r="1.25" fill="#111"/>
<circle cx="501.45" cy="583.5" r="1.25" fill="#111"/>
<text transform="translate(511.05,656.1) rotate(-45)" font-size="9.5" text-anchor="end" fill="#231f20" stroke="#231f20" stroke-width="0.22" >ds<tspan font-style="italic">desat1</tspan>+C16:1</text>
<rect x="516.5" y="575.5" width="18" height="68" fill="#ffa9ac" stroke="#2a2a2a" stroke-width="1" />
<line x1="525.5" y1="643.9" x2="525.5" y2="646.9" stroke="#444" stroke-width="1" />
<line x1="522.1" y1="574.9" x2="528.1" y2="574.9" stroke="#111" stroke-width="0.9" />
<circle cx="522.5" cy="575.9" r="1.25" fill="#111"/>
<circle cx="525.1" cy="575.1" r="1.25" fill="#111"/>
<circle cx="527.7" cy="575.7" r="1.25" fill="#111"/>
<text transform="translate(537.3,656.1) rotate(-45)" font-size="9.5" text-anchor="end" fill="#231f20" stroke="#231f20" stroke-width="0.22" >ds<tspan font-style="italic">desat1</tspan>+C18:1</text>
<path d="M473.5 556.3V553.5H500.5V556.3" stroke="#484848" stroke-width="1" fill="none" />
<text x="485.7" y="554.4" font-size="9.0" text-anchor="middle" fill="#231f20" stroke="#231f20" stroke-width="0.22" letter-spacing="-0.35">****</text>
<path d="M473.5 544.3V541.5H525.5V544.3" stroke="#484848" stroke-width="1" fill="none" />
<text x="499" y="540.2" font-size="9.0" text-anchor="middle" fill="#231f20" stroke="#231f20" stroke-width="0.22" letter-spacing="-0.35">***</text>
<text x="553.6" y="526.6" font-size="9.5" text-anchor="start" fill="#231f20" stroke="#231f20" stroke-width="0.22" font-weight="bold">j</text>
<line x1="601.5" y1="544.6" x2="601.5" y2="650.9" stroke="#7a7a7a" stroke-width="1.2" />
<line x1="601.2" y1="650.5" x2="670.4" y2="650.5" stroke="#7a7a7a" stroke-width="1.2" />
<line x1="598.4" y1="650.5" x2="601.7" y2="650.5" stroke="#7a7a7a" stroke-width="1.2" />
<text x="595.4" y="653.8" font-size="9.5" text-anchor="end" fill="#231f20" stroke="#231f20" stroke-width="0.22" >0</text>
<line x1="598.4" y1="615.5" x2="601.7" y2="615.5" stroke="#7a7a7a" stroke-width="1.2" />
<text x="595.4" y="618.7" font-size="9.5" text-anchor="end" fill="#231f20" stroke="#231f20" stroke-width="0.22" >20</text>
<line x1="598.4" y1="580.5" x2="601.7" y2="580.5" stroke="#7a7a7a" stroke-width="1.2" />
<text x="595.4" y="583.6" font-size="9.5" text-anchor="end" fill="#231f20" stroke="#231f20" stroke-width="0.22" >40</text>
<line x1="598.4" y1="545.5" x2="601.7" y2="545.5" stroke="#7a7a7a" stroke-width="1.2" />
<text x="595.4" y="548.5" font-size="9.5" text-anchor="end" fill="#231f20" stroke="#231f20" stroke-width="0.22" >60</text>
<text transform="translate(580.4,598.2) rotate(-90)" font-size="9.5" text-anchor="middle" fill="#231f20" stroke="#231f20" stroke-width="0.22" textLength="129.4" lengthAdjust="spacingAndGlyphs">TUNEL positive cells/DAPI cells</text>
<line x1="618.5" y1="650.4" x2="618.5" y2="653.4" stroke="#7a7a7a" stroke-width="1.2" />
<text transform="translate(630.2,661.4) rotate(-45)" font-size="9.5" text-anchor="end" fill="#231f20" stroke="#231f20" stroke-width="0.22" >ds<tspan font-style="italic">desat1</tspan>+control</text>
<line x1="639.5" y1="650.4" x2="639.5" y2="653.4" stroke="#7a7a7a" stroke-width="1.2" />
<text transform="translate(651.6,661.4) rotate(-45)" font-size="9.5" text-anchor="end" fill="#231f20" stroke="#231f20" stroke-width="0.22" >ds<tspan font-style="italic">desat1</tspan>+C16:1</text>
<line x1="661.5" y1="650.4" x2="661.5" y2="653.4" stroke="#7a7a7a" stroke-width="1.2" />
<text transform="translate(673.4,661.4) rotate(-45)" font-size="9.5" text-anchor="end" fill="#231f20" stroke="#231f20" stroke-width="0.22" >ds<tspan font-style="italic">desat1</tspan>+C18:1</text>
<path d="M612.80 558.18H618.40L615.60 563.22Z" fill="#231815"/>
<path d="M618.30 560.98H623.90L621.10 566.02Z" fill="#231815"/>
<path d="M615.40 562.78H621.00L618.20 567.82Z" fill="#231815"/>
<path d="M612.80 576.48H618.40L615.60 581.52Z" fill="#231815"/>
<path d="M617.80 576.98H623.40L620.60 582.02Z" fill="#231815"/>
<path d="M619.60 577.78H625.20L622.40 582.82Z" fill="#231815"/>
<path d="M615.40 580.08H621.00L618.20 585.12Z" fill="#231815"/>
<path d="M618.70 584.68H624.30L621.50 589.72Z" fill="#231815"/>
<path d="M615.00 589.28H620.60L617.80 594.32Z" fill="#231815"/>
<path d="M618.30 591.08H623.90L621.10 596.12Z" fill="#231815"/>
<path d="M612.80 594.68H618.40L615.60 599.72Z" fill="#231815"/>
<path d="M615.90 596.58H621.50L618.70 601.62Z" fill="#231815"/>
<path d="M610.50 601.98H616.10L613.30 607.02Z" fill="#231815"/>
<path d="M619.60 599.28H625.20L622.40 604.32Z" fill="#231815"/>
<path d="M613.20 601.98H618.80L616.00 607.02Z" fill="#231815"/>
<path d="M619.20 608.38H624.80L622.00 613.42Z" fill="#231815"/>
<path d="M612.80 618.48H618.40L615.60 623.52Z" fill="#231815"/>
<path d="M619.10 616.68H624.70L621.90 621.72Z" fill="#231815"/>
<line x1="612.3" y1="590.3" x2="624.2" y2="590.3" stroke="#1a1a1a" stroke-width="1" />
<line x1="618.2" y1="586.6" x2="618.2" y2="594" stroke="#1a1a1a" stroke-width="1" />
<path d="M639.40 604.40L642.00 607.00L639.40 609.60L636.80 607.00Z" fill="#d23c17"/>
<path d="M642.50 605.90L645.10 608.50L642.50 611.10L639.90 608.50Z" fill="#d23c17"/>
<path d="M638.30 607.70L640.90 610.30L638.30 612.90L635.70 610.30Z" fill="#d23c17"/>
<path d="M639.70 611.80L642.30 614.40L639.70 617.00L637.10 614.40Z" fill="#d23c17"/>
<path d="M638.30 616.90L640.90 619.50L638.30 622.10L635.70 619.50Z" fill="#d23c17"/>
<path d="M642.50 617.80L645.10 620.40L642.50 623.00L639.90 620.40Z" fill="#d23c17"/>
<path d="M639.40 622.30L642.00 624.90L639.40 627.50L636.80 624.90Z" fill="#d23c17"/>
<path d="M642.80 623.30L645.40 625.90L642.80 628.50L640.20 625.90Z" fill="#d23c17"/>
<path d="M638.30 627.80L640.90 630.40L638.30 633.00L635.70 630.40Z" fill="#d23c17"/>
<path d="M639.70 631.50L642.30 634.10L639.70 636.70L637.10 634.10Z" fill="#d23c17"/>
<path d="M637.40 641.50L640.00 644.10L637.40 646.70L634.80 644.10Z" fill="#d23c17"/>
<path d="M641.60 641.50L644.20 644.10L641.60 646.70L639.00 644.10Z" fill="#d23c17"/>
<path d="M638.80 644.20L641.40 646.80L638.80 649.40L636.20 646.80Z" fill="#d23c17"/>
<line x1="630.6" y1="627.3" x2="645.8" y2="627.3" stroke="#d23c17" stroke-width="1" />
<line x1="639.6" y1="622.5" x2="639.6" y2="631.5" stroke="#d23c17" stroke-width="1" />
<line x1="636.6" y1="622.5" x2="642.6" y2="622.5" stroke="#d23c17" stroke-width="1" />
<circle cx="661.3" cy="594.8" r="2" fill="#f7a8ab"/>
<circle cx="661.3" cy="603.6" r="2" fill="#f7a8ab"/>
<circle cx="664" cy="610.3" r="2" fill="#f7a8ab"/>
<circle cx="658" cy="613.1" r="2" fill="#f7a8ab"/>
<circle cx="662.6" cy="617.6" r="2" fill="#f7a8ab"/>
<circle cx="658.9" cy="619.5" r="2" fill="#f7a8ab"/>
<circle cx="664" cy="620.4" r="2" fill="#f7a8ab"/>
<circle cx="660.7" cy="623.1" r="2" fill="#f7a8ab"/>
<circle cx="658" cy="625.9" r="2" fill="#f7a8ab"/>
<circle cx="664" cy="626.8" r="2" fill="#f7a8ab"/>
<circle cx="661.6" cy="629.5" r="2" fill="#f7a8ab"/>
<circle cx="659.8" cy="633.2" r="2" fill="#f7a8ab"/>
<circle cx="658" cy="648.7" r="2" fill="#f7a8ab"/>
<circle cx="664" cy="648.7" r="2" fill="#f7a8ab"/>
<line x1="655.3" y1="621.3" x2="667.1" y2="621.3" stroke="#f7a8ab" stroke-width="1" />
<line x1="661.4" y1="617.6" x2="661.4" y2="625" stroke="#f7a8ab" stroke-width="1" />
<line x1="658.4" y1="625" x2="664.4" y2="625" stroke="#f7a8ab" stroke-width="1" />
<path d="M618.5 552.5V548.5H641.5V552.5" stroke="#484848" stroke-width="1" fill="none" />
<text x="630" y="548.6" font-size="9.2" text-anchor="middle" fill="#231f20" stroke="#231f20" stroke-width="0.22" letter-spacing="-0.35">****</text>
<path d="M618.5 539.9V536.5H661.5V539.9" stroke="#484848" stroke-width="1" fill="none" />
<text x="639.9" y="537.4" font-size="9.2" text-anchor="middle" fill="#231f20" stroke="#231f20" stroke-width="0.22" letter-spacing="-0.35">****</text>
</svg></body></html>
